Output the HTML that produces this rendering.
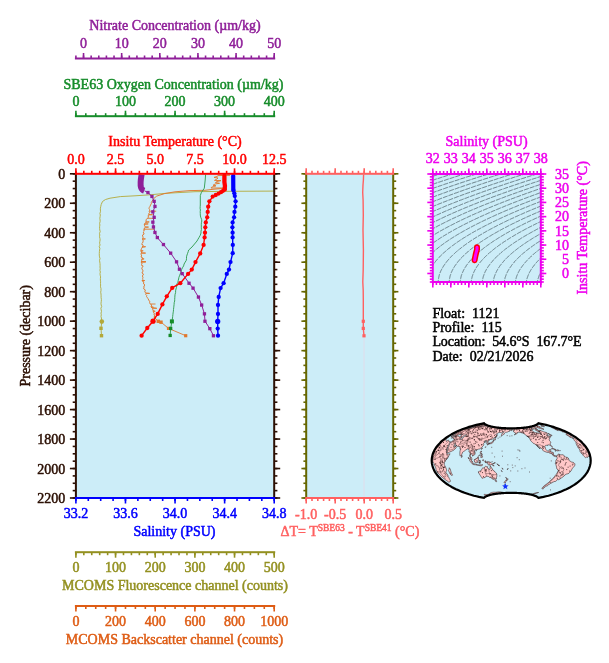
<!DOCTYPE html>
<html><head><meta charset="utf-8"><title>Float 1121 Profile 115</title>
<style>
html,body{margin:0;padding:0;background:#fff;}
svg{display:block;font-family:"Liberation Serif", "Times New Roman", serif;}
text{stroke-width:0.5px;paint-order:stroke;}
</style></head><body>
<svg width="609" height="663" viewBox="0 0 609 663">
<rect width="609" height="663" fill="#fff"/>
<text x="175.00" y="30.20" fill="#8f1f99" stroke="#8f1f99" font-size="14" text-anchor="middle">Nitrate Concentration (µm/kg)</text>
<text x="83.53" y="48.30" fill="#8f1f99" stroke="#8f1f99" font-size="14" text-anchor="middle">0</text>
<text x="121.66" y="48.30" fill="#8f1f99" stroke="#8f1f99" font-size="14" text-anchor="middle">10</text>
<text x="159.80" y="48.30" fill="#8f1f99" stroke="#8f1f99" font-size="14" text-anchor="middle">20</text>
<text x="197.93" y="48.30" fill="#8f1f99" stroke="#8f1f99" font-size="14" text-anchor="middle">30</text>
<text x="236.07" y="48.30" fill="#8f1f99" stroke="#8f1f99" font-size="14" text-anchor="middle">40</text>
<text x="274.20" y="48.30" fill="#8f1f99" stroke="#8f1f99" font-size="14" text-anchor="middle">50</text>
<rect x="74.90" y="57.50" width="200.30" height="2" fill="#8f1f99"/>
<line x1="75.90" y1="58.50" x2="75.90" y2="55.50" stroke="#8f1f99" stroke-width="1.6"/>
<line x1="83.53" y1="58.50" x2="83.53" y2="55.50" stroke="#8f1f99" stroke-width="1.6"/>
<line x1="91.15" y1="58.50" x2="91.15" y2="55.50" stroke="#8f1f99" stroke-width="1.6"/>
<line x1="98.78" y1="58.50" x2="98.78" y2="55.50" stroke="#8f1f99" stroke-width="1.6"/>
<line x1="106.41" y1="58.50" x2="106.41" y2="55.50" stroke="#8f1f99" stroke-width="1.6"/>
<line x1="114.03" y1="58.50" x2="114.03" y2="55.50" stroke="#8f1f99" stroke-width="1.6"/>
<line x1="121.66" y1="58.50" x2="121.66" y2="55.50" stroke="#8f1f99" stroke-width="1.6"/>
<line x1="129.29" y1="58.50" x2="129.29" y2="55.50" stroke="#8f1f99" stroke-width="1.6"/>
<line x1="136.92" y1="58.50" x2="136.92" y2="55.50" stroke="#8f1f99" stroke-width="1.6"/>
<line x1="144.54" y1="58.50" x2="144.54" y2="55.50" stroke="#8f1f99" stroke-width="1.6"/>
<line x1="152.17" y1="58.50" x2="152.17" y2="55.50" stroke="#8f1f99" stroke-width="1.6"/>
<line x1="159.80" y1="58.50" x2="159.80" y2="55.50" stroke="#8f1f99" stroke-width="1.6"/>
<line x1="167.42" y1="58.50" x2="167.42" y2="55.50" stroke="#8f1f99" stroke-width="1.6"/>
<line x1="175.05" y1="58.50" x2="175.05" y2="55.50" stroke="#8f1f99" stroke-width="1.6"/>
<line x1="182.68" y1="58.50" x2="182.68" y2="55.50" stroke="#8f1f99" stroke-width="1.6"/>
<line x1="190.30" y1="58.50" x2="190.30" y2="55.50" stroke="#8f1f99" stroke-width="1.6"/>
<line x1="197.93" y1="58.50" x2="197.93" y2="55.50" stroke="#8f1f99" stroke-width="1.6"/>
<line x1="205.56" y1="58.50" x2="205.56" y2="55.50" stroke="#8f1f99" stroke-width="1.6"/>
<line x1="213.18" y1="58.50" x2="213.18" y2="55.50" stroke="#8f1f99" stroke-width="1.6"/>
<line x1="220.81" y1="58.50" x2="220.81" y2="55.50" stroke="#8f1f99" stroke-width="1.6"/>
<line x1="228.44" y1="58.50" x2="228.44" y2="55.50" stroke="#8f1f99" stroke-width="1.6"/>
<line x1="236.07" y1="58.50" x2="236.07" y2="55.50" stroke="#8f1f99" stroke-width="1.6"/>
<line x1="243.69" y1="58.50" x2="243.69" y2="55.50" stroke="#8f1f99" stroke-width="1.6"/>
<line x1="251.32" y1="58.50" x2="251.32" y2="55.50" stroke="#8f1f99" stroke-width="1.6"/>
<line x1="258.95" y1="58.50" x2="258.95" y2="55.50" stroke="#8f1f99" stroke-width="1.6"/>
<line x1="266.57" y1="58.50" x2="266.57" y2="55.50" stroke="#8f1f99" stroke-width="1.6"/>
<line x1="274.20" y1="58.50" x2="274.20" y2="55.50" stroke="#8f1f99" stroke-width="1.6"/>
<line x1="83.53" y1="58.50" x2="83.53" y2="53.00" stroke="#8f1f99" stroke-width="1.6"/>
<line x1="121.66" y1="58.50" x2="121.66" y2="53.00" stroke="#8f1f99" stroke-width="1.6"/>
<line x1="159.80" y1="58.50" x2="159.80" y2="53.00" stroke="#8f1f99" stroke-width="1.6"/>
<line x1="197.93" y1="58.50" x2="197.93" y2="53.00" stroke="#8f1f99" stroke-width="1.6"/>
<line x1="236.07" y1="58.50" x2="236.07" y2="53.00" stroke="#8f1f99" stroke-width="1.6"/>
<line x1="274.20" y1="58.50" x2="274.20" y2="53.00" stroke="#8f1f99" stroke-width="1.6"/>
<text x="173.50" y="88.50" fill="#168c2a" stroke="#168c2a" font-size="14" text-anchor="middle">SBE63 Oxygen Concentration (µm/kg)</text>
<text x="75.90" y="106.00" fill="#168c2a" stroke="#168c2a" font-size="14" text-anchor="middle">0</text>
<text x="125.48" y="106.00" fill="#168c2a" stroke="#168c2a" font-size="14" text-anchor="middle">100</text>
<text x="175.05" y="106.00" fill="#168c2a" stroke="#168c2a" font-size="14" text-anchor="middle">200</text>
<text x="224.62" y="106.00" fill="#168c2a" stroke="#168c2a" font-size="14" text-anchor="middle">300</text>
<text x="274.20" y="106.00" fill="#168c2a" stroke="#168c2a" font-size="14" text-anchor="middle">400</text>
<rect x="74.90" y="115.20" width="200.30" height="2" fill="#168c2a"/>
<line x1="75.90" y1="116.20" x2="75.90" y2="113.20" stroke="#168c2a" stroke-width="1.6"/>
<line x1="85.81" y1="116.20" x2="85.81" y2="113.20" stroke="#168c2a" stroke-width="1.6"/>
<line x1="95.73" y1="116.20" x2="95.73" y2="113.20" stroke="#168c2a" stroke-width="1.6"/>
<line x1="105.64" y1="116.20" x2="105.64" y2="113.20" stroke="#168c2a" stroke-width="1.6"/>
<line x1="115.56" y1="116.20" x2="115.56" y2="113.20" stroke="#168c2a" stroke-width="1.6"/>
<line x1="125.48" y1="116.20" x2="125.48" y2="113.20" stroke="#168c2a" stroke-width="1.6"/>
<line x1="135.39" y1="116.20" x2="135.39" y2="113.20" stroke="#168c2a" stroke-width="1.6"/>
<line x1="145.31" y1="116.20" x2="145.31" y2="113.20" stroke="#168c2a" stroke-width="1.6"/>
<line x1="155.22" y1="116.20" x2="155.22" y2="113.20" stroke="#168c2a" stroke-width="1.6"/>
<line x1="165.13" y1="116.20" x2="165.13" y2="113.20" stroke="#168c2a" stroke-width="1.6"/>
<line x1="175.05" y1="116.20" x2="175.05" y2="113.20" stroke="#168c2a" stroke-width="1.6"/>
<line x1="184.96" y1="116.20" x2="184.96" y2="113.20" stroke="#168c2a" stroke-width="1.6"/>
<line x1="194.88" y1="116.20" x2="194.88" y2="113.20" stroke="#168c2a" stroke-width="1.6"/>
<line x1="204.79" y1="116.20" x2="204.79" y2="113.20" stroke="#168c2a" stroke-width="1.6"/>
<line x1="214.71" y1="116.20" x2="214.71" y2="113.20" stroke="#168c2a" stroke-width="1.6"/>
<line x1="224.62" y1="116.20" x2="224.62" y2="113.20" stroke="#168c2a" stroke-width="1.6"/>
<line x1="234.54" y1="116.20" x2="234.54" y2="113.20" stroke="#168c2a" stroke-width="1.6"/>
<line x1="244.46" y1="116.20" x2="244.46" y2="113.20" stroke="#168c2a" stroke-width="1.6"/>
<line x1="254.37" y1="116.20" x2="254.37" y2="113.20" stroke="#168c2a" stroke-width="1.6"/>
<line x1="264.28" y1="116.20" x2="264.28" y2="113.20" stroke="#168c2a" stroke-width="1.6"/>
<line x1="274.20" y1="116.20" x2="274.20" y2="113.20" stroke="#168c2a" stroke-width="1.6"/>
<line x1="75.90" y1="116.20" x2="75.90" y2="110.70" stroke="#168c2a" stroke-width="1.6"/>
<line x1="125.48" y1="116.20" x2="125.48" y2="110.70" stroke="#168c2a" stroke-width="1.6"/>
<line x1="175.05" y1="116.20" x2="175.05" y2="110.70" stroke="#168c2a" stroke-width="1.6"/>
<line x1="224.62" y1="116.20" x2="224.62" y2="110.70" stroke="#168c2a" stroke-width="1.6"/>
<line x1="274.20" y1="116.20" x2="274.20" y2="110.70" stroke="#168c2a" stroke-width="1.6"/>
<text x="175.00" y="146.00" fill="#ff0000" stroke="#ff0000" font-size="14" text-anchor="middle">Insitu Temperature (°C)</text>
<text x="75.90" y="163.50" fill="#ff0000" stroke="#ff0000" font-size="14" text-anchor="middle">0.0</text>
<text x="115.56" y="163.50" fill="#ff0000" stroke="#ff0000" font-size="14" text-anchor="middle">2.5</text>
<text x="155.22" y="163.50" fill="#ff0000" stroke="#ff0000" font-size="14" text-anchor="middle">5.0</text>
<text x="194.88" y="163.50" fill="#ff0000" stroke="#ff0000" font-size="14" text-anchor="middle">7.5</text>
<text x="234.54" y="163.50" fill="#ff0000" stroke="#ff0000" font-size="14" text-anchor="middle">10.0</text>
<text x="274.20" y="163.50" fill="#ff0000" stroke="#ff0000" font-size="14" text-anchor="middle">12.5</text>
<rect x="75.9" y="173.8" width="198.29999999999998" height="324.2" fill="#ccedf8"/>
<rect x="306.2" y="173.8" width="87.0" height="324.2" fill="#ccedf8"/>
<polyline points="273.6,191.1 230.0,191.3 195.0,191.7 166.0,193.3 150.0,194.8 135.0,195.8 120.3,196.6 110.0,198.2 105.5,199.5 102.5,201.5 101.2,204.5 100.8,206.3 100.4,208.2 100.4,210.0 100.5,211.7 99.9,213.3 100.3,215.0 100.1,216.7 99.8,218.3 100.1,220.0 100.1,221.7 99.6,223.3 99.9,225.0 99.6,226.7 99.6,228.3 99.8,230.0 100.2,231.7 99.5,233.3 99.8,235.0 99.5,236.7 99.9,238.3 100.1,240.0 99.8,241.7 99.6,243.3 100.1,245.0 99.2,246.7 99.9,248.3 99.6,250.0 99.4,251.7 99.3,253.4 99.3,255.1 99.5,256.9 100.0,258.6 99.5,260.3 99.8,262.0 100.0,263.7 100.1,265.3 100.0,267.0 100.2,268.7 99.9,270.3 100.4,272.0 100.0,273.6 100.2,275.2 100.6,276.9 100.4,278.5 100.4,280.1 100.6,281.8 100.5,283.4 100.6,285.0 100.5,286.8 101.0,288.6 101.0,290.4 100.7,292.2 101.0,294.0 101.1,295.8 101.1,297.7 101.4,299.5 101.3,301.3 101.0,303.2 101.2,305.0 101.7,306.6 100.9,308.2 101.2,309.9 101.5,311.5 101.0,313.1 101.3,314.8 101.0,316.4 101.4,318.0 101.8,321.6 101.0,328.3 101.5,335.7" fill="none" stroke="#b3a93a" stroke-width="0.9" stroke-linejoin="round"/>
<circle cx="101.8" cy="321.6" r="2.3" fill="#b3a93a"/>
<rect x="99.3" y="326.6" width="3.4" height="3.4" fill="#b3a93a"/>
<rect x="99.8" y="334.0" width="3.4" height="3.4" fill="#b3a93a"/>
<polyline points="230.0,175.3 218.0,175.6 217.0,176.5 214.0,177.4 218.0,178.0 216.5,179.3 214.5,180.4 221.0,180.6 217.0,181.5 215.5,182.5 219.5,183.3 215.0,184.0 213.0,185.3 216.0,185.8 213.5,186.5 211.5,187.3 211.0,188.0 226.7,188.0 221.0,188.6 213.0,189.3 205.0,190.3 190.0,190.6 175.0,191.8 164.6,193.6 156.7,196.1 153.7,198.6 151.3,202.5 151.3,203.8 150.5,205.0 150.1,206.2 149.3,207.4 149.0,208.4 149.6,209.5 149.5,210.5 149.2,211.4 150.0,212.4 148.8,213.3 148.8,214.7 152.5,214.7 148.8,214.7 148.0,216.0 148.7,217.2 147.3,218.3 146.2,219.7 146.0,221.0 146.0,222.1 149.2,221.9 146.0,222.1 145.3,223.2 144.3,224.1 148.2,223.9 144.3,224.1 144.4,225.1 144.8,226.0 145.4,227.1 148.5,227.1 145.4,227.1 144.4,228.1 144.8,229.1 143.6,230.0 144.4,231.0 143.3,232.0 143.5,233.0 144.2,234.0 142.5,235.0 142.6,236.0 143.1,237.0 143.0,238.0 142.4,239.0 145.4,238.9 142.4,239.0 143.0,240.0 143.2,241.0 142.9,242.0 142.6,243.0 141.5,244.0 143.1,245.0 143.0,246.0 142.1,247.0 145.6,246.7 142.1,247.0 142.2,248.0 141.1,249.0 141.2,250.0 140.8,251.0 143.2,250.8 140.8,251.0 141.7,252.0 141.4,253.0 145.6,253.1 141.4,253.0 140.9,254.0 141.4,255.0 141.7,256.0 140.9,257.0 142.9,258.0 141.8,259.0 144.1,258.9 141.8,259.0 141.9,260.0 141.5,261.0 141.4,262.0 145.7,262.0 141.4,262.0 141.4,263.0 142.3,264.0 141.2,265.0 143.2,266.0 142.4,267.0 141.9,268.0 141.8,269.0 142.8,270.0 143.0,271.0 142.6,272.0 141.9,273.0 143.5,274.0 143.0,275.0 142.3,276.0 143.0,277.2 142.7,278.3 142.8,279.5 142.0,280.7 144.7,280.5 142.0,280.7 143.8,281.8 143.6,283.0 143.6,284.0 145.0,285.0 143.8,286.0 144.2,287.0 143.7,288.0 143.8,289.0 145.5,290.0 144.8,291.0 145.0,292.1 146.0,293.2 149.6,293.4 146.0,293.2 145.6,294.3 146.7,295.4 146.5,296.4 147.0,297.5 148.4,298.8 148.5,300.0 149.7,301.2 149.6,302.5 149.9,303.7 151.7,304.8 151.3,306.0 151.0,307.0 153.4,307.2 151.0,307.0 152.8,308.0 156.8,308.3 152.8,308.0 152.5,309.0 153.1,310.0 153.2,311.0 155.2,311.3 153.2,311.0 153.4,312.0 153.9,313.0 154.6,314.0 153.8,315.0 155.0,316.0 154.0,317.0 155.0,318.0 158.0,321.2" fill="none" stroke="#e0782e" stroke-width="0.95" stroke-linejoin="round"/>
<line x1="149.30" y1="211.20" x2="156.20" y2="211.20" stroke="#e0782e" stroke-width="0.9"/>
<line x1="147.30" y1="218.30" x2="153.00" y2="218.30" stroke="#e0782e" stroke-width="0.9"/>
<line x1="143.30" y1="229.20" x2="154.50" y2="229.20" stroke="#e0782e" stroke-width="0.9"/>
<line x1="150.50" y1="304.00" x2="155.50" y2="304.00" stroke="#e0782e" stroke-width="0.9"/>
<line x1="153.50" y1="317.10" x2="155.50" y2="317.10" stroke="#e0782e" stroke-width="0.9"/>
<line x1="141.80" y1="261.50" x2="146.00" y2="261.50" stroke="#e0782e" stroke-width="0.9"/>
<polyline points="158.0,321.2 161.0,322.1 168.5,328.4 185.7,335.7" fill="none" stroke="#e0782e" stroke-width="0.9" stroke-linejoin="round"/>
<rect x="156.6" y="319.6" width="3.4" height="3.4" fill="#e0782e"/>
<rect x="159.3" y="320.5" width="3.4" height="3.4" fill="#e0782e"/>
<rect x="166.9" y="326.8" width="3.2" height="3.2" fill="#e0782e"/>
<rect x="184.1" y="334.1" width="3.2" height="3.2" fill="#e0782e"/>
<polyline points="205.6,174.5 205.2,180.0 204.3,188.2 201.3,192.7 200.3,195.6 200.3,205.0 200.2,206.7 200.1,208.3 200.4,210.0 200.2,211.7 200.3,213.3 200.3,215.0 200.7,217.2 201.6,219.3 201.8,221.0 201.4,222.7 201.3,224.3 201.3,226.0 201.3,227.8 201.4,229.5 201.0,231.2 201.0,233.0 200.3,235.2 199.0,237.5 198.0,239.2 197.0,241.0 194.5,244.0 192.0,247.0 188.7,250.0 188.2,251.7 187.6,253.3 187.0,255.0 186.5,256.8 186.5,258.5 186.3,260.3 185.2,262.1 184.1,264.0 183.6,265.9 182.5,267.7 181.7,269.3 181.3,270.9 180.8,272.6 180.1,274.2 179.5,275.8 178.9,277.4 178.6,279.0 178.2,280.6 177.9,282.3 177.0,283.9 176.8,285.5 176.5,287.3 176.0,289.0 175.6,290.8 175.6,292.5 175.1,294.3 174.9,296.0 174.8,297.7 174.7,299.4 174.7,301.0 174.2,302.7 174.1,304.4 173.9,306.1 173.7,307.8 173.5,309.5 173.4,311.2 173.1,312.9 172.9,314.6 172.7,316.3 172.5,318.0 171.9,321.4 170.7,328.4 170.2,335.4" fill="none" stroke="#2a9a48" stroke-width="0.9" stroke-linejoin="round"/>
<rect x="169.9" y="319.4" width="4.0" height="4.0" fill="#168c2a"/>
<rect x="169.0" y="326.8" width="3.3" height="3.3" fill="#168c2a"/>
<rect x="168.5" y="333.8" width="3.3" height="3.3" fill="#168c2a"/>
<path d="M141.6,174.5 C140.6,180 140.2,184.5 141.0,187.3 C141.6,189.2 142.6,190.2 144.2,190.8" fill="none" stroke="#8f1f99" stroke-width="6" stroke-linecap="butt"/>
<polyline points="144.5,190.8 148.0,192.6 152.0,196.5 154.2,201.3 155.0,206.4 152.9,211.9 154.2,217.3 152.8,222.2 153.5,227.0 155.0,232.4 157.3,237.6 163.5,244.6 170.7,253.2 176.6,261.8 179.5,269.2 182.2,273.6 189.1,283.2 193.1,288.1 198.4,297.0 201.7,305.0 204.4,313.8 205.0,321.2 209.8,328.6 213.5,335.7" fill="none" stroke="#8f1f99" stroke-width="1.0" stroke-linejoin="round"/>
<rect x="146.3" y="190.9" width="3.3" height="3.3" fill="#8f1f99"/>
<rect x="150.3" y="194.8" width="3.3" height="3.3" fill="#8f1f99"/>
<rect x="152.5" y="199.7" width="3.3" height="3.3" fill="#8f1f99"/>
<rect x="153.3" y="204.8" width="3.3" height="3.3" fill="#8f1f99"/>
<rect x="151.2" y="210.2" width="3.3" height="3.3" fill="#8f1f99"/>
<rect x="152.5" y="215.7" width="3.3" height="3.3" fill="#8f1f99"/>
<rect x="151.2" y="220.5" width="3.3" height="3.3" fill="#8f1f99"/>
<rect x="151.8" y="225.3" width="3.3" height="3.3" fill="#8f1f99"/>
<rect x="153.3" y="230.8" width="3.3" height="3.3" fill="#8f1f99"/>
<rect x="155.7" y="235.9" width="3.3" height="3.3" fill="#8f1f99"/>
<rect x="161.8" y="242.9" width="3.3" height="3.3" fill="#8f1f99"/>
<rect x="169.0" y="251.5" width="3.3" height="3.3" fill="#8f1f99"/>
<rect x="174.9" y="260.2" width="3.3" height="3.3" fill="#8f1f99"/>
<rect x="177.8" y="267.6" width="3.3" height="3.3" fill="#8f1f99"/>
<rect x="180.5" y="272.0" width="3.3" height="3.3" fill="#8f1f99"/>
<rect x="187.4" y="281.6" width="3.3" height="3.3" fill="#8f1f99"/>
<rect x="191.4" y="286.5" width="3.3" height="3.3" fill="#8f1f99"/>
<rect x="196.8" y="295.4" width="3.3" height="3.3" fill="#8f1f99"/>
<rect x="200.0" y="303.4" width="3.3" height="3.3" fill="#8f1f99"/>
<rect x="202.8" y="312.2" width="3.3" height="3.3" fill="#8f1f99"/>
<rect x="203.3" y="319.6" width="3.3" height="3.3" fill="#8f1f99"/>
<rect x="208.2" y="327.0" width="3.3" height="3.3" fill="#8f1f99"/>
<rect x="211.8" y="334.1" width="3.3" height="3.3" fill="#8f1f99"/>
<path d="M224.4,175.8 L224.4,182 C224.9,184 225.3,186 224.6,189" fill="none" stroke="#ff0000" stroke-width="4.3" stroke-linecap="round"/>
<polyline points="224.8,189.6 223.0,190.8 221.0,192.2 218.6,193.6 215.8,195.0 212.7,196.6 209.4,201.3 208.2,206.7 207.7,211.9 207.2,217.3 205.8,222.4 205.3,227.3 205.0,232.7 204.6,237.4 203.6,244.9 200.2,253.4 195.5,262.1 191.8,269.6 188.1,273.9 180.3,283.2 172.2,287.9 166.8,296.3 162.4,304.4 157.7,313.9 153.0,321.2 147.3,328.0 141.6,335.7" fill="none" stroke="#ff0000" stroke-width="1.4" stroke-linejoin="round"/>
<circle cx="224.8" cy="189.6" r="2.15" fill="#ff0000"/>
<circle cx="223.0" cy="190.8" r="2.15" fill="#ff0000"/>
<circle cx="221.0" cy="192.2" r="2.15" fill="#ff0000"/>
<circle cx="218.6" cy="193.6" r="2.15" fill="#ff0000"/>
<circle cx="215.8" cy="195.0" r="2.15" fill="#ff0000"/>
<circle cx="212.7" cy="196.6" r="2.15" fill="#ff0000"/>
<circle cx="209.4" cy="201.3" r="2.15" fill="#ff0000"/>
<circle cx="208.2" cy="206.7" r="2.15" fill="#ff0000"/>
<circle cx="207.7" cy="211.9" r="2.15" fill="#ff0000"/>
<circle cx="207.2" cy="217.3" r="2.15" fill="#ff0000"/>
<circle cx="205.8" cy="222.4" r="2.15" fill="#ff0000"/>
<circle cx="205.3" cy="227.3" r="2.15" fill="#ff0000"/>
<circle cx="205.0" cy="232.7" r="2.15" fill="#ff0000"/>
<circle cx="204.6" cy="237.4" r="2.15" fill="#ff0000"/>
<circle cx="203.6" cy="244.9" r="2.15" fill="#ff0000"/>
<circle cx="200.2" cy="253.4" r="2.15" fill="#ff0000"/>
<circle cx="195.5" cy="262.1" r="2.15" fill="#ff0000"/>
<circle cx="191.8" cy="269.6" r="2.15" fill="#ff0000"/>
<circle cx="188.1" cy="273.9" r="2.15" fill="#ff0000"/>
<circle cx="180.3" cy="283.2" r="2.15" fill="#ff0000"/>
<circle cx="172.2" cy="287.9" r="2.15" fill="#ff0000"/>
<circle cx="166.8" cy="296.3" r="2.15" fill="#ff0000"/>
<circle cx="162.4" cy="304.4" r="2.15" fill="#ff0000"/>
<circle cx="157.7" cy="313.9" r="2.15" fill="#ff0000"/>
<circle cx="153.0" cy="321.2" r="2.15" fill="#ff0000"/>
<circle cx="147.3" cy="328.0" r="2.15" fill="#ff0000"/>
<circle cx="141.6" cy="335.7" r="2.15" fill="#ff0000"/>
<circle cx="153.0" cy="321.2" r="2.6" fill="#ff0000"/>
<path d="M233.2,175.8 L233.3,189.5" fill="none" stroke="#0000ff" stroke-width="4.2" stroke-linecap="round"/>
<polyline points="233.5,190.5 234.3,193.3 234.8,196.1 235.6,201.3 235.3,206.7 234.5,211.9 234.1,217.3 232.6,222.4 232.4,227.3 232.6,232.7 232.6,237.4 232.8,244.9 232.7,253.2 230.5,262.1 229.0,269.6 226.8,273.9 223.6,283.2 220.6,288.1 218.7,297.0 218.0,305.0 218.0,314.0 217.7,321.4 217.7,328.6 218.0,335.7" fill="none" stroke="#0000ff" stroke-width="1.4" stroke-linejoin="round"/>
<circle cx="233.5" cy="190.5" r="2.15" fill="#0000ff"/>
<circle cx="234.3" cy="193.3" r="2.15" fill="#0000ff"/>
<circle cx="234.8" cy="196.1" r="2.15" fill="#0000ff"/>
<circle cx="235.6" cy="201.3" r="2.15" fill="#0000ff"/>
<circle cx="235.3" cy="206.7" r="2.15" fill="#0000ff"/>
<circle cx="234.5" cy="211.9" r="2.15" fill="#0000ff"/>
<circle cx="234.1" cy="217.3" r="2.15" fill="#0000ff"/>
<circle cx="232.6" cy="222.4" r="2.15" fill="#0000ff"/>
<circle cx="232.4" cy="227.3" r="2.15" fill="#0000ff"/>
<circle cx="232.6" cy="232.7" r="2.15" fill="#0000ff"/>
<circle cx="232.6" cy="237.4" r="2.15" fill="#0000ff"/>
<circle cx="232.8" cy="244.9" r="2.15" fill="#0000ff"/>
<circle cx="232.7" cy="253.2" r="2.15" fill="#0000ff"/>
<circle cx="230.5" cy="262.1" r="2.15" fill="#0000ff"/>
<circle cx="229.0" cy="269.6" r="2.15" fill="#0000ff"/>
<circle cx="226.8" cy="273.9" r="2.15" fill="#0000ff"/>
<circle cx="223.6" cy="283.2" r="2.15" fill="#0000ff"/>
<circle cx="220.6" cy="288.1" r="2.15" fill="#0000ff"/>
<circle cx="218.7" cy="297.0" r="2.15" fill="#0000ff"/>
<circle cx="218.0" cy="305.0" r="2.15" fill="#0000ff"/>
<circle cx="218.0" cy="314.0" r="2.15" fill="#0000ff"/>
<circle cx="217.7" cy="321.4" r="2.15" fill="#0000ff"/>
<circle cx="217.7" cy="328.6" r="2.15" fill="#0000ff"/>
<circle cx="218.0" cy="335.7" r="2.15" fill="#0000ff"/>
<circle cx="217.7" cy="321.4" r="2.6" fill="#0000ff"/>
<rect x="74.90" y="172.80" width="2" height="326.20" fill="#2c1004"/>
<line x1="75.90" y1="173.80" x2="72.70" y2="173.80" stroke="#2c1004" stroke-width="1.6"/>
<line x1="75.90" y1="181.17" x2="72.70" y2="181.17" stroke="#2c1004" stroke-width="1.6"/>
<line x1="75.90" y1="188.54" x2="72.70" y2="188.54" stroke="#2c1004" stroke-width="1.6"/>
<line x1="75.90" y1="195.90" x2="72.70" y2="195.90" stroke="#2c1004" stroke-width="1.6"/>
<line x1="75.90" y1="203.27" x2="72.70" y2="203.27" stroke="#2c1004" stroke-width="1.6"/>
<line x1="75.90" y1="210.64" x2="72.70" y2="210.64" stroke="#2c1004" stroke-width="1.6"/>
<line x1="75.90" y1="218.01" x2="72.70" y2="218.01" stroke="#2c1004" stroke-width="1.6"/>
<line x1="75.90" y1="225.38" x2="72.70" y2="225.38" stroke="#2c1004" stroke-width="1.6"/>
<line x1="75.90" y1="232.75" x2="72.70" y2="232.75" stroke="#2c1004" stroke-width="1.6"/>
<line x1="75.90" y1="240.11" x2="72.70" y2="240.11" stroke="#2c1004" stroke-width="1.6"/>
<line x1="75.90" y1="247.48" x2="72.70" y2="247.48" stroke="#2c1004" stroke-width="1.6"/>
<line x1="75.90" y1="254.85" x2="72.70" y2="254.85" stroke="#2c1004" stroke-width="1.6"/>
<line x1="75.90" y1="262.22" x2="72.70" y2="262.22" stroke="#2c1004" stroke-width="1.6"/>
<line x1="75.90" y1="269.59" x2="72.70" y2="269.59" stroke="#2c1004" stroke-width="1.6"/>
<line x1="75.90" y1="276.95" x2="72.70" y2="276.95" stroke="#2c1004" stroke-width="1.6"/>
<line x1="75.90" y1="284.32" x2="72.70" y2="284.32" stroke="#2c1004" stroke-width="1.6"/>
<line x1="75.90" y1="291.69" x2="72.70" y2="291.69" stroke="#2c1004" stroke-width="1.6"/>
<line x1="75.90" y1="299.06" x2="72.70" y2="299.06" stroke="#2c1004" stroke-width="1.6"/>
<line x1="75.90" y1="306.43" x2="72.70" y2="306.43" stroke="#2c1004" stroke-width="1.6"/>
<line x1="75.90" y1="313.80" x2="72.70" y2="313.80" stroke="#2c1004" stroke-width="1.6"/>
<line x1="75.90" y1="321.16" x2="72.70" y2="321.16" stroke="#2c1004" stroke-width="1.6"/>
<line x1="75.90" y1="328.53" x2="72.70" y2="328.53" stroke="#2c1004" stroke-width="1.6"/>
<line x1="75.90" y1="335.90" x2="72.70" y2="335.90" stroke="#2c1004" stroke-width="1.6"/>
<line x1="75.90" y1="343.27" x2="72.70" y2="343.27" stroke="#2c1004" stroke-width="1.6"/>
<line x1="75.90" y1="350.64" x2="72.70" y2="350.64" stroke="#2c1004" stroke-width="1.6"/>
<line x1="75.90" y1="358.00" x2="72.70" y2="358.00" stroke="#2c1004" stroke-width="1.6"/>
<line x1="75.90" y1="365.37" x2="72.70" y2="365.37" stroke="#2c1004" stroke-width="1.6"/>
<line x1="75.90" y1="372.74" x2="72.70" y2="372.74" stroke="#2c1004" stroke-width="1.6"/>
<line x1="75.90" y1="380.11" x2="72.70" y2="380.11" stroke="#2c1004" stroke-width="1.6"/>
<line x1="75.90" y1="387.48" x2="72.70" y2="387.48" stroke="#2c1004" stroke-width="1.6"/>
<line x1="75.90" y1="394.85" x2="72.70" y2="394.85" stroke="#2c1004" stroke-width="1.6"/>
<line x1="75.90" y1="402.21" x2="72.70" y2="402.21" stroke="#2c1004" stroke-width="1.6"/>
<line x1="75.90" y1="409.58" x2="72.70" y2="409.58" stroke="#2c1004" stroke-width="1.6"/>
<line x1="75.90" y1="416.95" x2="72.70" y2="416.95" stroke="#2c1004" stroke-width="1.6"/>
<line x1="75.90" y1="424.32" x2="72.70" y2="424.32" stroke="#2c1004" stroke-width="1.6"/>
<line x1="75.90" y1="431.69" x2="72.70" y2="431.69" stroke="#2c1004" stroke-width="1.6"/>
<line x1="75.90" y1="439.05" x2="72.70" y2="439.05" stroke="#2c1004" stroke-width="1.6"/>
<line x1="75.90" y1="446.42" x2="72.70" y2="446.42" stroke="#2c1004" stroke-width="1.6"/>
<line x1="75.90" y1="453.79" x2="72.70" y2="453.79" stroke="#2c1004" stroke-width="1.6"/>
<line x1="75.90" y1="461.16" x2="72.70" y2="461.16" stroke="#2c1004" stroke-width="1.6"/>
<line x1="75.90" y1="468.53" x2="72.70" y2="468.53" stroke="#2c1004" stroke-width="1.6"/>
<line x1="75.90" y1="475.90" x2="72.70" y2="475.90" stroke="#2c1004" stroke-width="1.6"/>
<line x1="75.90" y1="483.26" x2="72.70" y2="483.26" stroke="#2c1004" stroke-width="1.6"/>
<line x1="75.90" y1="490.63" x2="72.70" y2="490.63" stroke="#2c1004" stroke-width="1.6"/>
<line x1="75.90" y1="498.00" x2="72.70" y2="498.00" stroke="#2c1004" stroke-width="1.6"/>
<line x1="75.90" y1="173.80" x2="69.90" y2="173.80" stroke="#2c1004" stroke-width="1.6"/>
<line x1="75.90" y1="203.27" x2="69.90" y2="203.27" stroke="#2c1004" stroke-width="1.6"/>
<line x1="75.90" y1="232.75" x2="69.90" y2="232.75" stroke="#2c1004" stroke-width="1.6"/>
<line x1="75.90" y1="262.22" x2="69.90" y2="262.22" stroke="#2c1004" stroke-width="1.6"/>
<line x1="75.90" y1="291.69" x2="69.90" y2="291.69" stroke="#2c1004" stroke-width="1.6"/>
<line x1="75.90" y1="321.16" x2="69.90" y2="321.16" stroke="#2c1004" stroke-width="1.6"/>
<line x1="75.90" y1="350.64" x2="69.90" y2="350.64" stroke="#2c1004" stroke-width="1.6"/>
<line x1="75.90" y1="380.11" x2="69.90" y2="380.11" stroke="#2c1004" stroke-width="1.6"/>
<line x1="75.90" y1="409.58" x2="69.90" y2="409.58" stroke="#2c1004" stroke-width="1.6"/>
<line x1="75.90" y1="439.05" x2="69.90" y2="439.05" stroke="#2c1004" stroke-width="1.6"/>
<line x1="75.90" y1="468.53" x2="69.90" y2="468.53" stroke="#2c1004" stroke-width="1.6"/>
<line x1="75.90" y1="498.00" x2="69.90" y2="498.00" stroke="#2c1004" stroke-width="1.6"/>
<rect x="273.20" y="172.80" width="2" height="326.20" fill="#2c1004"/>
<line x1="274.20" y1="173.80" x2="277.40" y2="173.80" stroke="#2c1004" stroke-width="1.6"/>
<line x1="274.20" y1="181.17" x2="277.40" y2="181.17" stroke="#2c1004" stroke-width="1.6"/>
<line x1="274.20" y1="188.54" x2="277.40" y2="188.54" stroke="#2c1004" stroke-width="1.6"/>
<line x1="274.20" y1="195.90" x2="277.40" y2="195.90" stroke="#2c1004" stroke-width="1.6"/>
<line x1="274.20" y1="203.27" x2="277.40" y2="203.27" stroke="#2c1004" stroke-width="1.6"/>
<line x1="274.20" y1="210.64" x2="277.40" y2="210.64" stroke="#2c1004" stroke-width="1.6"/>
<line x1="274.20" y1="218.01" x2="277.40" y2="218.01" stroke="#2c1004" stroke-width="1.6"/>
<line x1="274.20" y1="225.38" x2="277.40" y2="225.38" stroke="#2c1004" stroke-width="1.6"/>
<line x1="274.20" y1="232.75" x2="277.40" y2="232.75" stroke="#2c1004" stroke-width="1.6"/>
<line x1="274.20" y1="240.11" x2="277.40" y2="240.11" stroke="#2c1004" stroke-width="1.6"/>
<line x1="274.20" y1="247.48" x2="277.40" y2="247.48" stroke="#2c1004" stroke-width="1.6"/>
<line x1="274.20" y1="254.85" x2="277.40" y2="254.85" stroke="#2c1004" stroke-width="1.6"/>
<line x1="274.20" y1="262.22" x2="277.40" y2="262.22" stroke="#2c1004" stroke-width="1.6"/>
<line x1="274.20" y1="269.59" x2="277.40" y2="269.59" stroke="#2c1004" stroke-width="1.6"/>
<line x1="274.20" y1="276.95" x2="277.40" y2="276.95" stroke="#2c1004" stroke-width="1.6"/>
<line x1="274.20" y1="284.32" x2="277.40" y2="284.32" stroke="#2c1004" stroke-width="1.6"/>
<line x1="274.20" y1="291.69" x2="277.40" y2="291.69" stroke="#2c1004" stroke-width="1.6"/>
<line x1="274.20" y1="299.06" x2="277.40" y2="299.06" stroke="#2c1004" stroke-width="1.6"/>
<line x1="274.20" y1="306.43" x2="277.40" y2="306.43" stroke="#2c1004" stroke-width="1.6"/>
<line x1="274.20" y1="313.80" x2="277.40" y2="313.80" stroke="#2c1004" stroke-width="1.6"/>
<line x1="274.20" y1="321.16" x2="277.40" y2="321.16" stroke="#2c1004" stroke-width="1.6"/>
<line x1="274.20" y1="328.53" x2="277.40" y2="328.53" stroke="#2c1004" stroke-width="1.6"/>
<line x1="274.20" y1="335.90" x2="277.40" y2="335.90" stroke="#2c1004" stroke-width="1.6"/>
<line x1="274.20" y1="343.27" x2="277.40" y2="343.27" stroke="#2c1004" stroke-width="1.6"/>
<line x1="274.20" y1="350.64" x2="277.40" y2="350.64" stroke="#2c1004" stroke-width="1.6"/>
<line x1="274.20" y1="358.00" x2="277.40" y2="358.00" stroke="#2c1004" stroke-width="1.6"/>
<line x1="274.20" y1="365.37" x2="277.40" y2="365.37" stroke="#2c1004" stroke-width="1.6"/>
<line x1="274.20" y1="372.74" x2="277.40" y2="372.74" stroke="#2c1004" stroke-width="1.6"/>
<line x1="274.20" y1="380.11" x2="277.40" y2="380.11" stroke="#2c1004" stroke-width="1.6"/>
<line x1="274.20" y1="387.48" x2="277.40" y2="387.48" stroke="#2c1004" stroke-width="1.6"/>
<line x1="274.20" y1="394.85" x2="277.40" y2="394.85" stroke="#2c1004" stroke-width="1.6"/>
<line x1="274.20" y1="402.21" x2="277.40" y2="402.21" stroke="#2c1004" stroke-width="1.6"/>
<line x1="274.20" y1="409.58" x2="277.40" y2="409.58" stroke="#2c1004" stroke-width="1.6"/>
<line x1="274.20" y1="416.95" x2="277.40" y2="416.95" stroke="#2c1004" stroke-width="1.6"/>
<line x1="274.20" y1="424.32" x2="277.40" y2="424.32" stroke="#2c1004" stroke-width="1.6"/>
<line x1="274.20" y1="431.69" x2="277.40" y2="431.69" stroke="#2c1004" stroke-width="1.6"/>
<line x1="274.20" y1="439.05" x2="277.40" y2="439.05" stroke="#2c1004" stroke-width="1.6"/>
<line x1="274.20" y1="446.42" x2="277.40" y2="446.42" stroke="#2c1004" stroke-width="1.6"/>
<line x1="274.20" y1="453.79" x2="277.40" y2="453.79" stroke="#2c1004" stroke-width="1.6"/>
<line x1="274.20" y1="461.16" x2="277.40" y2="461.16" stroke="#2c1004" stroke-width="1.6"/>
<line x1="274.20" y1="468.53" x2="277.40" y2="468.53" stroke="#2c1004" stroke-width="1.6"/>
<line x1="274.20" y1="475.90" x2="277.40" y2="475.90" stroke="#2c1004" stroke-width="1.6"/>
<line x1="274.20" y1="483.26" x2="277.40" y2="483.26" stroke="#2c1004" stroke-width="1.6"/>
<line x1="274.20" y1="490.63" x2="277.40" y2="490.63" stroke="#2c1004" stroke-width="1.6"/>
<line x1="274.20" y1="498.00" x2="277.40" y2="498.00" stroke="#2c1004" stroke-width="1.6"/>
<line x1="274.20" y1="173.80" x2="280.20" y2="173.80" stroke="#2c1004" stroke-width="1.6"/>
<line x1="274.20" y1="203.27" x2="280.20" y2="203.27" stroke="#2c1004" stroke-width="1.6"/>
<line x1="274.20" y1="232.75" x2="280.20" y2="232.75" stroke="#2c1004" stroke-width="1.6"/>
<line x1="274.20" y1="262.22" x2="280.20" y2="262.22" stroke="#2c1004" stroke-width="1.6"/>
<line x1="274.20" y1="291.69" x2="280.20" y2="291.69" stroke="#2c1004" stroke-width="1.6"/>
<line x1="274.20" y1="321.16" x2="280.20" y2="321.16" stroke="#2c1004" stroke-width="1.6"/>
<line x1="274.20" y1="350.64" x2="280.20" y2="350.64" stroke="#2c1004" stroke-width="1.6"/>
<line x1="274.20" y1="380.11" x2="280.20" y2="380.11" stroke="#2c1004" stroke-width="1.6"/>
<line x1="274.20" y1="409.58" x2="280.20" y2="409.58" stroke="#2c1004" stroke-width="1.6"/>
<line x1="274.20" y1="439.05" x2="280.20" y2="439.05" stroke="#2c1004" stroke-width="1.6"/>
<line x1="274.20" y1="468.53" x2="280.20" y2="468.53" stroke="#2c1004" stroke-width="1.6"/>
<line x1="274.20" y1="498.00" x2="280.20" y2="498.00" stroke="#2c1004" stroke-width="1.6"/>
<text x="65.30" y="179.00" fill="#2c1004" stroke="#2c1004" font-size="14" text-anchor="end">0</text>
<text x="65.30" y="208.47" fill="#2c1004" stroke="#2c1004" font-size="14" text-anchor="end">200</text>
<text x="65.30" y="237.95" fill="#2c1004" stroke="#2c1004" font-size="14" text-anchor="end">400</text>
<text x="65.30" y="267.42" fill="#2c1004" stroke="#2c1004" font-size="14" text-anchor="end">600</text>
<text x="65.30" y="296.89" fill="#2c1004" stroke="#2c1004" font-size="14" text-anchor="end">800</text>
<text x="65.30" y="326.36" fill="#2c1004" stroke="#2c1004" font-size="14" text-anchor="end">1000</text>
<text x="65.30" y="355.84" fill="#2c1004" stroke="#2c1004" font-size="14" text-anchor="end">1200</text>
<text x="65.30" y="385.31" fill="#2c1004" stroke="#2c1004" font-size="14" text-anchor="end">1400</text>
<text x="65.30" y="414.78" fill="#2c1004" stroke="#2c1004" font-size="14" text-anchor="end">1600</text>
<text x="65.30" y="444.25" fill="#2c1004" stroke="#2c1004" font-size="14" text-anchor="end">1800</text>
<text x="65.30" y="473.73" fill="#2c1004" stroke="#2c1004" font-size="14" text-anchor="end">2000</text>
<text x="65.30" y="503.20" fill="#2c1004" stroke="#2c1004" font-size="14" text-anchor="end">2200</text>
<text x="0" y="0" fill="#2c1004" stroke="#2c1004" font-size="14" text-anchor="middle" transform="translate(29.6,335.8) rotate(-90)">Pressure (decibar)</text>
<rect x="74.90" y="172.80" width="200.30" height="2" fill="#ff0000"/>
<line x1="75.90" y1="173.80" x2="75.90" y2="170.80" stroke="#ff0000" stroke-width="1.6"/>
<line x1="83.83" y1="173.80" x2="83.83" y2="170.80" stroke="#ff0000" stroke-width="1.6"/>
<line x1="91.76" y1="173.80" x2="91.76" y2="170.80" stroke="#ff0000" stroke-width="1.6"/>
<line x1="99.70" y1="173.80" x2="99.70" y2="170.80" stroke="#ff0000" stroke-width="1.6"/>
<line x1="107.63" y1="173.80" x2="107.63" y2="170.80" stroke="#ff0000" stroke-width="1.6"/>
<line x1="115.56" y1="173.80" x2="115.56" y2="170.80" stroke="#ff0000" stroke-width="1.6"/>
<line x1="123.49" y1="173.80" x2="123.49" y2="170.80" stroke="#ff0000" stroke-width="1.6"/>
<line x1="131.42" y1="173.80" x2="131.42" y2="170.80" stroke="#ff0000" stroke-width="1.6"/>
<line x1="139.36" y1="173.80" x2="139.36" y2="170.80" stroke="#ff0000" stroke-width="1.6"/>
<line x1="147.29" y1="173.80" x2="147.29" y2="170.80" stroke="#ff0000" stroke-width="1.6"/>
<line x1="155.22" y1="173.80" x2="155.22" y2="170.80" stroke="#ff0000" stroke-width="1.6"/>
<line x1="163.15" y1="173.80" x2="163.15" y2="170.80" stroke="#ff0000" stroke-width="1.6"/>
<line x1="171.08" y1="173.80" x2="171.08" y2="170.80" stroke="#ff0000" stroke-width="1.6"/>
<line x1="179.02" y1="173.80" x2="179.02" y2="170.80" stroke="#ff0000" stroke-width="1.6"/>
<line x1="186.95" y1="173.80" x2="186.95" y2="170.80" stroke="#ff0000" stroke-width="1.6"/>
<line x1="194.88" y1="173.80" x2="194.88" y2="170.80" stroke="#ff0000" stroke-width="1.6"/>
<line x1="202.81" y1="173.80" x2="202.81" y2="170.80" stroke="#ff0000" stroke-width="1.6"/>
<line x1="210.74" y1="173.80" x2="210.74" y2="170.80" stroke="#ff0000" stroke-width="1.6"/>
<line x1="218.68" y1="173.80" x2="218.68" y2="170.80" stroke="#ff0000" stroke-width="1.6"/>
<line x1="226.61" y1="173.80" x2="226.61" y2="170.80" stroke="#ff0000" stroke-width="1.6"/>
<line x1="234.54" y1="173.80" x2="234.54" y2="170.80" stroke="#ff0000" stroke-width="1.6"/>
<line x1="242.47" y1="173.80" x2="242.47" y2="170.80" stroke="#ff0000" stroke-width="1.6"/>
<line x1="250.40" y1="173.80" x2="250.40" y2="170.80" stroke="#ff0000" stroke-width="1.6"/>
<line x1="258.34" y1="173.80" x2="258.34" y2="170.80" stroke="#ff0000" stroke-width="1.6"/>
<line x1="266.27" y1="173.80" x2="266.27" y2="170.80" stroke="#ff0000" stroke-width="1.6"/>
<line x1="274.20" y1="173.80" x2="274.20" y2="170.80" stroke="#ff0000" stroke-width="1.6"/>
<line x1="75.90" y1="173.80" x2="75.90" y2="168.30" stroke="#ff0000" stroke-width="1.6"/>
<line x1="115.56" y1="173.80" x2="115.56" y2="168.30" stroke="#ff0000" stroke-width="1.6"/>
<line x1="155.22" y1="173.80" x2="155.22" y2="168.30" stroke="#ff0000" stroke-width="1.6"/>
<line x1="194.88" y1="173.80" x2="194.88" y2="168.30" stroke="#ff0000" stroke-width="1.6"/>
<line x1="234.54" y1="173.80" x2="234.54" y2="168.30" stroke="#ff0000" stroke-width="1.6"/>
<line x1="274.20" y1="173.80" x2="274.20" y2="168.30" stroke="#ff0000" stroke-width="1.6"/>
<rect x="74.90" y="497.00" width="200.30" height="2" fill="#0000ff"/>
<line x1="75.90" y1="498.00" x2="75.90" y2="501.00" stroke="#0000ff" stroke-width="1.6"/>
<line x1="88.29" y1="498.00" x2="88.29" y2="501.00" stroke="#0000ff" stroke-width="1.6"/>
<line x1="100.69" y1="498.00" x2="100.69" y2="501.00" stroke="#0000ff" stroke-width="1.6"/>
<line x1="113.08" y1="498.00" x2="113.08" y2="501.00" stroke="#0000ff" stroke-width="1.6"/>
<line x1="125.47" y1="498.00" x2="125.47" y2="501.00" stroke="#0000ff" stroke-width="1.6"/>
<line x1="137.87" y1="498.00" x2="137.87" y2="501.00" stroke="#0000ff" stroke-width="1.6"/>
<line x1="150.26" y1="498.00" x2="150.26" y2="501.00" stroke="#0000ff" stroke-width="1.6"/>
<line x1="162.66" y1="498.00" x2="162.66" y2="501.00" stroke="#0000ff" stroke-width="1.6"/>
<line x1="175.05" y1="498.00" x2="175.05" y2="501.00" stroke="#0000ff" stroke-width="1.6"/>
<line x1="187.44" y1="498.00" x2="187.44" y2="501.00" stroke="#0000ff" stroke-width="1.6"/>
<line x1="199.84" y1="498.00" x2="199.84" y2="501.00" stroke="#0000ff" stroke-width="1.6"/>
<line x1="212.23" y1="498.00" x2="212.23" y2="501.00" stroke="#0000ff" stroke-width="1.6"/>
<line x1="224.63" y1="498.00" x2="224.63" y2="501.00" stroke="#0000ff" stroke-width="1.6"/>
<line x1="237.02" y1="498.00" x2="237.02" y2="501.00" stroke="#0000ff" stroke-width="1.6"/>
<line x1="249.41" y1="498.00" x2="249.41" y2="501.00" stroke="#0000ff" stroke-width="1.6"/>
<line x1="261.81" y1="498.00" x2="261.81" y2="501.00" stroke="#0000ff" stroke-width="1.6"/>
<line x1="274.20" y1="498.00" x2="274.20" y2="501.00" stroke="#0000ff" stroke-width="1.6"/>
<line x1="75.90" y1="498.00" x2="75.90" y2="503.50" stroke="#0000ff" stroke-width="1.6"/>
<line x1="125.47" y1="498.00" x2="125.47" y2="503.50" stroke="#0000ff" stroke-width="1.6"/>
<line x1="175.05" y1="498.00" x2="175.05" y2="503.50" stroke="#0000ff" stroke-width="1.6"/>
<line x1="224.63" y1="498.00" x2="224.63" y2="503.50" stroke="#0000ff" stroke-width="1.6"/>
<line x1="274.20" y1="498.00" x2="274.20" y2="503.50" stroke="#0000ff" stroke-width="1.6"/>
<text x="75.90" y="518.40" fill="#0000ff" stroke="#0000ff" font-size="14" text-anchor="middle">33.2</text>
<text x="125.47" y="518.40" fill="#0000ff" stroke="#0000ff" font-size="14" text-anchor="middle">33.6</text>
<text x="175.05" y="518.40" fill="#0000ff" stroke="#0000ff" font-size="14" text-anchor="middle">34.0</text>
<text x="224.63" y="518.40" fill="#0000ff" stroke="#0000ff" font-size="14" text-anchor="middle">34.4</text>
<text x="274.20" y="518.40" fill="#0000ff" stroke="#0000ff" font-size="14" text-anchor="middle">34.8</text>
<text x="174.50" y="536.00" fill="#0000ff" stroke="#0000ff" font-size="14" text-anchor="middle">Salinity (PSU)</text>
<rect x="74.90" y="551.20" width="200.30" height="2" fill="#939020"/>
<line x1="75.90" y1="552.20" x2="75.90" y2="555.20" stroke="#939020" stroke-width="1.6"/>
<line x1="83.83" y1="552.20" x2="83.83" y2="555.20" stroke="#939020" stroke-width="1.6"/>
<line x1="91.76" y1="552.20" x2="91.76" y2="555.20" stroke="#939020" stroke-width="1.6"/>
<line x1="99.70" y1="552.20" x2="99.70" y2="555.20" stroke="#939020" stroke-width="1.6"/>
<line x1="107.63" y1="552.20" x2="107.63" y2="555.20" stroke="#939020" stroke-width="1.6"/>
<line x1="115.56" y1="552.20" x2="115.56" y2="555.20" stroke="#939020" stroke-width="1.6"/>
<line x1="123.49" y1="552.20" x2="123.49" y2="555.20" stroke="#939020" stroke-width="1.6"/>
<line x1="131.42" y1="552.20" x2="131.42" y2="555.20" stroke="#939020" stroke-width="1.6"/>
<line x1="139.36" y1="552.20" x2="139.36" y2="555.20" stroke="#939020" stroke-width="1.6"/>
<line x1="147.29" y1="552.20" x2="147.29" y2="555.20" stroke="#939020" stroke-width="1.6"/>
<line x1="155.22" y1="552.20" x2="155.22" y2="555.20" stroke="#939020" stroke-width="1.6"/>
<line x1="163.15" y1="552.20" x2="163.15" y2="555.20" stroke="#939020" stroke-width="1.6"/>
<line x1="171.08" y1="552.20" x2="171.08" y2="555.20" stroke="#939020" stroke-width="1.6"/>
<line x1="179.02" y1="552.20" x2="179.02" y2="555.20" stroke="#939020" stroke-width="1.6"/>
<line x1="186.95" y1="552.20" x2="186.95" y2="555.20" stroke="#939020" stroke-width="1.6"/>
<line x1="194.88" y1="552.20" x2="194.88" y2="555.20" stroke="#939020" stroke-width="1.6"/>
<line x1="202.81" y1="552.20" x2="202.81" y2="555.20" stroke="#939020" stroke-width="1.6"/>
<line x1="210.74" y1="552.20" x2="210.74" y2="555.20" stroke="#939020" stroke-width="1.6"/>
<line x1="218.68" y1="552.20" x2="218.68" y2="555.20" stroke="#939020" stroke-width="1.6"/>
<line x1="226.61" y1="552.20" x2="226.61" y2="555.20" stroke="#939020" stroke-width="1.6"/>
<line x1="234.54" y1="552.20" x2="234.54" y2="555.20" stroke="#939020" stroke-width="1.6"/>
<line x1="242.47" y1="552.20" x2="242.47" y2="555.20" stroke="#939020" stroke-width="1.6"/>
<line x1="250.40" y1="552.20" x2="250.40" y2="555.20" stroke="#939020" stroke-width="1.6"/>
<line x1="258.34" y1="552.20" x2="258.34" y2="555.20" stroke="#939020" stroke-width="1.6"/>
<line x1="266.27" y1="552.20" x2="266.27" y2="555.20" stroke="#939020" stroke-width="1.6"/>
<line x1="274.20" y1="552.20" x2="274.20" y2="555.20" stroke="#939020" stroke-width="1.6"/>
<line x1="75.90" y1="552.20" x2="75.90" y2="557.70" stroke="#939020" stroke-width="1.6"/>
<line x1="115.56" y1="552.20" x2="115.56" y2="557.70" stroke="#939020" stroke-width="1.6"/>
<line x1="155.22" y1="552.20" x2="155.22" y2="557.70" stroke="#939020" stroke-width="1.6"/>
<line x1="194.88" y1="552.20" x2="194.88" y2="557.70" stroke="#939020" stroke-width="1.6"/>
<line x1="234.54" y1="552.20" x2="234.54" y2="557.70" stroke="#939020" stroke-width="1.6"/>
<line x1="274.20" y1="552.20" x2="274.20" y2="557.70" stroke="#939020" stroke-width="1.6"/>
<text x="75.90" y="572.00" fill="#939020" stroke="#939020" font-size="14" text-anchor="middle">0</text>
<text x="115.56" y="572.00" fill="#939020" stroke="#939020" font-size="14" text-anchor="middle">100</text>
<text x="155.22" y="572.00" fill="#939020" stroke="#939020" font-size="14" text-anchor="middle">200</text>
<text x="194.88" y="572.00" fill="#939020" stroke="#939020" font-size="14" text-anchor="middle">300</text>
<text x="234.54" y="572.00" fill="#939020" stroke="#939020" font-size="14" text-anchor="middle">400</text>
<text x="274.20" y="572.00" fill="#939020" stroke="#939020" font-size="14" text-anchor="middle">500</text>
<text x="175.00" y="590.00" fill="#939020" stroke="#939020" font-size="14" text-anchor="middle">MCOMS Fluorescence channel (counts)</text>
<rect x="74.90" y="605.00" width="200.30" height="2" fill="#de5c14"/>
<line x1="75.90" y1="606.00" x2="75.90" y2="609.00" stroke="#de5c14" stroke-width="1.6"/>
<line x1="85.81" y1="606.00" x2="85.81" y2="609.00" stroke="#de5c14" stroke-width="1.6"/>
<line x1="95.73" y1="606.00" x2="95.73" y2="609.00" stroke="#de5c14" stroke-width="1.6"/>
<line x1="105.65" y1="606.00" x2="105.65" y2="609.00" stroke="#de5c14" stroke-width="1.6"/>
<line x1="115.56" y1="606.00" x2="115.56" y2="609.00" stroke="#de5c14" stroke-width="1.6"/>
<line x1="125.47" y1="606.00" x2="125.47" y2="609.00" stroke="#de5c14" stroke-width="1.6"/>
<line x1="135.39" y1="606.00" x2="135.39" y2="609.00" stroke="#de5c14" stroke-width="1.6"/>
<line x1="145.31" y1="606.00" x2="145.31" y2="609.00" stroke="#de5c14" stroke-width="1.6"/>
<line x1="155.22" y1="606.00" x2="155.22" y2="609.00" stroke="#de5c14" stroke-width="1.6"/>
<line x1="165.13" y1="606.00" x2="165.13" y2="609.00" stroke="#de5c14" stroke-width="1.6"/>
<line x1="175.05" y1="606.00" x2="175.05" y2="609.00" stroke="#de5c14" stroke-width="1.6"/>
<line x1="184.96" y1="606.00" x2="184.96" y2="609.00" stroke="#de5c14" stroke-width="1.6"/>
<line x1="194.88" y1="606.00" x2="194.88" y2="609.00" stroke="#de5c14" stroke-width="1.6"/>
<line x1="204.79" y1="606.00" x2="204.79" y2="609.00" stroke="#de5c14" stroke-width="1.6"/>
<line x1="214.71" y1="606.00" x2="214.71" y2="609.00" stroke="#de5c14" stroke-width="1.6"/>
<line x1="224.62" y1="606.00" x2="224.62" y2="609.00" stroke="#de5c14" stroke-width="1.6"/>
<line x1="234.54" y1="606.00" x2="234.54" y2="609.00" stroke="#de5c14" stroke-width="1.6"/>
<line x1="244.46" y1="606.00" x2="244.46" y2="609.00" stroke="#de5c14" stroke-width="1.6"/>
<line x1="254.37" y1="606.00" x2="254.37" y2="609.00" stroke="#de5c14" stroke-width="1.6"/>
<line x1="264.28" y1="606.00" x2="264.28" y2="609.00" stroke="#de5c14" stroke-width="1.6"/>
<line x1="274.20" y1="606.00" x2="274.20" y2="609.00" stroke="#de5c14" stroke-width="1.6"/>
<line x1="75.90" y1="606.00" x2="75.90" y2="611.50" stroke="#de5c14" stroke-width="1.6"/>
<line x1="115.56" y1="606.00" x2="115.56" y2="611.50" stroke="#de5c14" stroke-width="1.6"/>
<line x1="155.22" y1="606.00" x2="155.22" y2="611.50" stroke="#de5c14" stroke-width="1.6"/>
<line x1="194.88" y1="606.00" x2="194.88" y2="611.50" stroke="#de5c14" stroke-width="1.6"/>
<line x1="234.54" y1="606.00" x2="234.54" y2="611.50" stroke="#de5c14" stroke-width="1.6"/>
<line x1="274.20" y1="606.00" x2="274.20" y2="611.50" stroke="#de5c14" stroke-width="1.6"/>
<text x="75.90" y="626.00" fill="#de5c14" stroke="#de5c14" font-size="14" text-anchor="middle">0</text>
<text x="115.56" y="626.00" fill="#de5c14" stroke="#de5c14" font-size="14" text-anchor="middle">200</text>
<text x="155.22" y="626.00" fill="#de5c14" stroke="#de5c14" font-size="14" text-anchor="middle">400</text>
<text x="194.88" y="626.00" fill="#de5c14" stroke="#de5c14" font-size="14" text-anchor="middle">600</text>
<text x="234.54" y="626.00" fill="#de5c14" stroke="#de5c14" font-size="14" text-anchor="middle">800</text>
<text x="274.20" y="626.00" fill="#de5c14" stroke="#de5c14" font-size="14" text-anchor="middle">1000</text>
<text x="174.50" y="644.00" fill="#de5c14" stroke="#de5c14" font-size="14" text-anchor="middle">MCOMS Backscatter channel (counts)</text>
<line x1="364" y1="336" x2="364" y2="497" stroke="#e6d8e6" stroke-width="0.8"/>
<polyline points="363.6,174.5 363.4,180.0 363.0,185.0 362.7,192.5 363.1,200.0 363.3,215.0 363.0,230.0 363.4,250.0 363.2,270.0 362.8,282.0 363.2,290.0 363.3,300.0 363.3,310.0 363.3,321.3 363.3,328.4 364.0,335.8" fill="none" stroke="#ff6060" stroke-width="1.4" stroke-linejoin="round"/>
<rect x="361.7" y="319.7" width="3.2" height="3.2" fill="#ff6060"/>
<rect x="361.7" y="326.8" width="3.2" height="3.2" fill="#ff6060"/>
<rect x="362.4" y="334.2" width="3.2" height="3.2" fill="#ff6060"/>
<rect x="305.20" y="172.80" width="2" height="326.20" fill="#666600"/>
<line x1="306.20" y1="173.80" x2="303.40" y2="173.80" stroke="#666600" stroke-width="1.6"/>
<line x1="306.20" y1="181.17" x2="303.40" y2="181.17" stroke="#666600" stroke-width="1.6"/>
<line x1="306.20" y1="188.54" x2="303.40" y2="188.54" stroke="#666600" stroke-width="1.6"/>
<line x1="306.20" y1="195.90" x2="303.40" y2="195.90" stroke="#666600" stroke-width="1.6"/>
<line x1="306.20" y1="203.27" x2="303.40" y2="203.27" stroke="#666600" stroke-width="1.6"/>
<line x1="306.20" y1="210.64" x2="303.40" y2="210.64" stroke="#666600" stroke-width="1.6"/>
<line x1="306.20" y1="218.01" x2="303.40" y2="218.01" stroke="#666600" stroke-width="1.6"/>
<line x1="306.20" y1="225.38" x2="303.40" y2="225.38" stroke="#666600" stroke-width="1.6"/>
<line x1="306.20" y1="232.75" x2="303.40" y2="232.75" stroke="#666600" stroke-width="1.6"/>
<line x1="306.20" y1="240.11" x2="303.40" y2="240.11" stroke="#666600" stroke-width="1.6"/>
<line x1="306.20" y1="247.48" x2="303.40" y2="247.48" stroke="#666600" stroke-width="1.6"/>
<line x1="306.20" y1="254.85" x2="303.40" y2="254.85" stroke="#666600" stroke-width="1.6"/>
<line x1="306.20" y1="262.22" x2="303.40" y2="262.22" stroke="#666600" stroke-width="1.6"/>
<line x1="306.20" y1="269.59" x2="303.40" y2="269.59" stroke="#666600" stroke-width="1.6"/>
<line x1="306.20" y1="276.95" x2="303.40" y2="276.95" stroke="#666600" stroke-width="1.6"/>
<line x1="306.20" y1="284.32" x2="303.40" y2="284.32" stroke="#666600" stroke-width="1.6"/>
<line x1="306.20" y1="291.69" x2="303.40" y2="291.69" stroke="#666600" stroke-width="1.6"/>
<line x1="306.20" y1="299.06" x2="303.40" y2="299.06" stroke="#666600" stroke-width="1.6"/>
<line x1="306.20" y1="306.43" x2="303.40" y2="306.43" stroke="#666600" stroke-width="1.6"/>
<line x1="306.20" y1="313.80" x2="303.40" y2="313.80" stroke="#666600" stroke-width="1.6"/>
<line x1="306.20" y1="321.16" x2="303.40" y2="321.16" stroke="#666600" stroke-width="1.6"/>
<line x1="306.20" y1="328.53" x2="303.40" y2="328.53" stroke="#666600" stroke-width="1.6"/>
<line x1="306.20" y1="335.90" x2="303.40" y2="335.90" stroke="#666600" stroke-width="1.6"/>
<line x1="306.20" y1="343.27" x2="303.40" y2="343.27" stroke="#666600" stroke-width="1.6"/>
<line x1="306.20" y1="350.64" x2="303.40" y2="350.64" stroke="#666600" stroke-width="1.6"/>
<line x1="306.20" y1="358.00" x2="303.40" y2="358.00" stroke="#666600" stroke-width="1.6"/>
<line x1="306.20" y1="365.37" x2="303.40" y2="365.37" stroke="#666600" stroke-width="1.6"/>
<line x1="306.20" y1="372.74" x2="303.40" y2="372.74" stroke="#666600" stroke-width="1.6"/>
<line x1="306.20" y1="380.11" x2="303.40" y2="380.11" stroke="#666600" stroke-width="1.6"/>
<line x1="306.20" y1="387.48" x2="303.40" y2="387.48" stroke="#666600" stroke-width="1.6"/>
<line x1="306.20" y1="394.85" x2="303.40" y2="394.85" stroke="#666600" stroke-width="1.6"/>
<line x1="306.20" y1="402.21" x2="303.40" y2="402.21" stroke="#666600" stroke-width="1.6"/>
<line x1="306.20" y1="409.58" x2="303.40" y2="409.58" stroke="#666600" stroke-width="1.6"/>
<line x1="306.20" y1="416.95" x2="303.40" y2="416.95" stroke="#666600" stroke-width="1.6"/>
<line x1="306.20" y1="424.32" x2="303.40" y2="424.32" stroke="#666600" stroke-width="1.6"/>
<line x1="306.20" y1="431.69" x2="303.40" y2="431.69" stroke="#666600" stroke-width="1.6"/>
<line x1="306.20" y1="439.05" x2="303.40" y2="439.05" stroke="#666600" stroke-width="1.6"/>
<line x1="306.20" y1="446.42" x2="303.40" y2="446.42" stroke="#666600" stroke-width="1.6"/>
<line x1="306.20" y1="453.79" x2="303.40" y2="453.79" stroke="#666600" stroke-width="1.6"/>
<line x1="306.20" y1="461.16" x2="303.40" y2="461.16" stroke="#666600" stroke-width="1.6"/>
<line x1="306.20" y1="468.53" x2="303.40" y2="468.53" stroke="#666600" stroke-width="1.6"/>
<line x1="306.20" y1="475.90" x2="303.40" y2="475.90" stroke="#666600" stroke-width="1.6"/>
<line x1="306.20" y1="483.26" x2="303.40" y2="483.26" stroke="#666600" stroke-width="1.6"/>
<line x1="306.20" y1="490.63" x2="303.40" y2="490.63" stroke="#666600" stroke-width="1.6"/>
<line x1="306.20" y1="498.00" x2="303.40" y2="498.00" stroke="#666600" stroke-width="1.6"/>
<line x1="306.20" y1="173.80" x2="301.40" y2="173.80" stroke="#666600" stroke-width="1.6"/>
<line x1="306.20" y1="203.27" x2="301.40" y2="203.27" stroke="#666600" stroke-width="1.6"/>
<line x1="306.20" y1="232.75" x2="301.40" y2="232.75" stroke="#666600" stroke-width="1.6"/>
<line x1="306.20" y1="262.22" x2="301.40" y2="262.22" stroke="#666600" stroke-width="1.6"/>
<line x1="306.20" y1="291.69" x2="301.40" y2="291.69" stroke="#666600" stroke-width="1.6"/>
<line x1="306.20" y1="321.16" x2="301.40" y2="321.16" stroke="#666600" stroke-width="1.6"/>
<line x1="306.20" y1="350.64" x2="301.40" y2="350.64" stroke="#666600" stroke-width="1.6"/>
<line x1="306.20" y1="380.11" x2="301.40" y2="380.11" stroke="#666600" stroke-width="1.6"/>
<line x1="306.20" y1="409.58" x2="301.40" y2="409.58" stroke="#666600" stroke-width="1.6"/>
<line x1="306.20" y1="439.05" x2="301.40" y2="439.05" stroke="#666600" stroke-width="1.6"/>
<line x1="306.20" y1="468.53" x2="301.40" y2="468.53" stroke="#666600" stroke-width="1.6"/>
<line x1="306.20" y1="498.00" x2="301.40" y2="498.00" stroke="#666600" stroke-width="1.6"/>
<rect x="392.20" y="172.80" width="2" height="326.20" fill="#666600"/>
<line x1="393.20" y1="173.80" x2="396.20" y2="173.80" stroke="#666600" stroke-width="1.6"/>
<line x1="393.20" y1="181.17" x2="396.20" y2="181.17" stroke="#666600" stroke-width="1.6"/>
<line x1="393.20" y1="188.54" x2="396.20" y2="188.54" stroke="#666600" stroke-width="1.6"/>
<line x1="393.20" y1="195.90" x2="396.20" y2="195.90" stroke="#666600" stroke-width="1.6"/>
<line x1="393.20" y1="203.27" x2="396.20" y2="203.27" stroke="#666600" stroke-width="1.6"/>
<line x1="393.20" y1="210.64" x2="396.20" y2="210.64" stroke="#666600" stroke-width="1.6"/>
<line x1="393.20" y1="218.01" x2="396.20" y2="218.01" stroke="#666600" stroke-width="1.6"/>
<line x1="393.20" y1="225.38" x2="396.20" y2="225.38" stroke="#666600" stroke-width="1.6"/>
<line x1="393.20" y1="232.75" x2="396.20" y2="232.75" stroke="#666600" stroke-width="1.6"/>
<line x1="393.20" y1="240.11" x2="396.20" y2="240.11" stroke="#666600" stroke-width="1.6"/>
<line x1="393.20" y1="247.48" x2="396.20" y2="247.48" stroke="#666600" stroke-width="1.6"/>
<line x1="393.20" y1="254.85" x2="396.20" y2="254.85" stroke="#666600" stroke-width="1.6"/>
<line x1="393.20" y1="262.22" x2="396.20" y2="262.22" stroke="#666600" stroke-width="1.6"/>
<line x1="393.20" y1="269.59" x2="396.20" y2="269.59" stroke="#666600" stroke-width="1.6"/>
<line x1="393.20" y1="276.95" x2="396.20" y2="276.95" stroke="#666600" stroke-width="1.6"/>
<line x1="393.20" y1="284.32" x2="396.20" y2="284.32" stroke="#666600" stroke-width="1.6"/>
<line x1="393.20" y1="291.69" x2="396.20" y2="291.69" stroke="#666600" stroke-width="1.6"/>
<line x1="393.20" y1="299.06" x2="396.20" y2="299.06" stroke="#666600" stroke-width="1.6"/>
<line x1="393.20" y1="306.43" x2="396.20" y2="306.43" stroke="#666600" stroke-width="1.6"/>
<line x1="393.20" y1="313.80" x2="396.20" y2="313.80" stroke="#666600" stroke-width="1.6"/>
<line x1="393.20" y1="321.16" x2="396.20" y2="321.16" stroke="#666600" stroke-width="1.6"/>
<line x1="393.20" y1="328.53" x2="396.20" y2="328.53" stroke="#666600" stroke-width="1.6"/>
<line x1="393.20" y1="335.90" x2="396.20" y2="335.90" stroke="#666600" stroke-width="1.6"/>
<line x1="393.20" y1="343.27" x2="396.20" y2="343.27" stroke="#666600" stroke-width="1.6"/>
<line x1="393.20" y1="350.64" x2="396.20" y2="350.64" stroke="#666600" stroke-width="1.6"/>
<line x1="393.20" y1="358.00" x2="396.20" y2="358.00" stroke="#666600" stroke-width="1.6"/>
<line x1="393.20" y1="365.37" x2="396.20" y2="365.37" stroke="#666600" stroke-width="1.6"/>
<line x1="393.20" y1="372.74" x2="396.20" y2="372.74" stroke="#666600" stroke-width="1.6"/>
<line x1="393.20" y1="380.11" x2="396.20" y2="380.11" stroke="#666600" stroke-width="1.6"/>
<line x1="393.20" y1="387.48" x2="396.20" y2="387.48" stroke="#666600" stroke-width="1.6"/>
<line x1="393.20" y1="394.85" x2="396.20" y2="394.85" stroke="#666600" stroke-width="1.6"/>
<line x1="393.20" y1="402.21" x2="396.20" y2="402.21" stroke="#666600" stroke-width="1.6"/>
<line x1="393.20" y1="409.58" x2="396.20" y2="409.58" stroke="#666600" stroke-width="1.6"/>
<line x1="393.20" y1="416.95" x2="396.20" y2="416.95" stroke="#666600" stroke-width="1.6"/>
<line x1="393.20" y1="424.32" x2="396.20" y2="424.32" stroke="#666600" stroke-width="1.6"/>
<line x1="393.20" y1="431.69" x2="396.20" y2="431.69" stroke="#666600" stroke-width="1.6"/>
<line x1="393.20" y1="439.05" x2="396.20" y2="439.05" stroke="#666600" stroke-width="1.6"/>
<line x1="393.20" y1="446.42" x2="396.20" y2="446.42" stroke="#666600" stroke-width="1.6"/>
<line x1="393.20" y1="453.79" x2="396.20" y2="453.79" stroke="#666600" stroke-width="1.6"/>
<line x1="393.20" y1="461.16" x2="396.20" y2="461.16" stroke="#666600" stroke-width="1.6"/>
<line x1="393.20" y1="468.53" x2="396.20" y2="468.53" stroke="#666600" stroke-width="1.6"/>
<line x1="393.20" y1="475.90" x2="396.20" y2="475.90" stroke="#666600" stroke-width="1.6"/>
<line x1="393.20" y1="483.26" x2="396.20" y2="483.26" stroke="#666600" stroke-width="1.6"/>
<line x1="393.20" y1="490.63" x2="396.20" y2="490.63" stroke="#666600" stroke-width="1.6"/>
<line x1="393.20" y1="498.00" x2="396.20" y2="498.00" stroke="#666600" stroke-width="1.6"/>
<line x1="393.20" y1="173.80" x2="398.40" y2="173.80" stroke="#666600" stroke-width="1.6"/>
<line x1="393.20" y1="203.27" x2="398.40" y2="203.27" stroke="#666600" stroke-width="1.6"/>
<line x1="393.20" y1="232.75" x2="398.40" y2="232.75" stroke="#666600" stroke-width="1.6"/>
<line x1="393.20" y1="262.22" x2="398.40" y2="262.22" stroke="#666600" stroke-width="1.6"/>
<line x1="393.20" y1="291.69" x2="398.40" y2="291.69" stroke="#666600" stroke-width="1.6"/>
<line x1="393.20" y1="321.16" x2="398.40" y2="321.16" stroke="#666600" stroke-width="1.6"/>
<line x1="393.20" y1="350.64" x2="398.40" y2="350.64" stroke="#666600" stroke-width="1.6"/>
<line x1="393.20" y1="380.11" x2="398.40" y2="380.11" stroke="#666600" stroke-width="1.6"/>
<line x1="393.20" y1="409.58" x2="398.40" y2="409.58" stroke="#666600" stroke-width="1.6"/>
<line x1="393.20" y1="439.05" x2="398.40" y2="439.05" stroke="#666600" stroke-width="1.6"/>
<line x1="393.20" y1="468.53" x2="398.40" y2="468.53" stroke="#666600" stroke-width="1.6"/>
<line x1="393.20" y1="498.00" x2="398.40" y2="498.00" stroke="#666600" stroke-width="1.6"/>
<rect x="305.20" y="172.80" width="89.00" height="2" fill="#ff6060"/>
<line x1="306.20" y1="173.80" x2="306.20" y2="170.80" stroke="#ff6060" stroke-width="1.6"/>
<line x1="312.00" y1="173.80" x2="312.00" y2="170.80" stroke="#ff6060" stroke-width="1.6"/>
<line x1="317.80" y1="173.80" x2="317.80" y2="170.80" stroke="#ff6060" stroke-width="1.6"/>
<line x1="323.60" y1="173.80" x2="323.60" y2="170.80" stroke="#ff6060" stroke-width="1.6"/>
<line x1="329.40" y1="173.80" x2="329.40" y2="170.80" stroke="#ff6060" stroke-width="1.6"/>
<line x1="335.20" y1="173.80" x2="335.20" y2="170.80" stroke="#ff6060" stroke-width="1.6"/>
<line x1="341.00" y1="173.80" x2="341.00" y2="170.80" stroke="#ff6060" stroke-width="1.6"/>
<line x1="346.80" y1="173.80" x2="346.80" y2="170.80" stroke="#ff6060" stroke-width="1.6"/>
<line x1="352.60" y1="173.80" x2="352.60" y2="170.80" stroke="#ff6060" stroke-width="1.6"/>
<line x1="358.40" y1="173.80" x2="358.40" y2="170.80" stroke="#ff6060" stroke-width="1.6"/>
<line x1="364.20" y1="173.80" x2="364.20" y2="170.80" stroke="#ff6060" stroke-width="1.6"/>
<line x1="370.00" y1="173.80" x2="370.00" y2="170.80" stroke="#ff6060" stroke-width="1.6"/>
<line x1="375.80" y1="173.80" x2="375.80" y2="170.80" stroke="#ff6060" stroke-width="1.6"/>
<line x1="381.60" y1="173.80" x2="381.60" y2="170.80" stroke="#ff6060" stroke-width="1.6"/>
<line x1="387.40" y1="173.80" x2="387.40" y2="170.80" stroke="#ff6060" stroke-width="1.6"/>
<line x1="393.20" y1="173.80" x2="393.20" y2="170.80" stroke="#ff6060" stroke-width="1.6"/>
<line x1="306.20" y1="173.80" x2="306.20" y2="168.30" stroke="#ff6060" stroke-width="1.6"/>
<line x1="335.20" y1="173.80" x2="335.20" y2="168.30" stroke="#ff6060" stroke-width="1.6"/>
<line x1="364.20" y1="173.80" x2="364.20" y2="168.30" stroke="#ff6060" stroke-width="1.6"/>
<line x1="393.20" y1="173.80" x2="393.20" y2="168.30" stroke="#ff6060" stroke-width="1.6"/>
<rect x="305.20" y="497.00" width="89.00" height="2" fill="#ff6060"/>
<line x1="306.20" y1="498.00" x2="306.20" y2="501.00" stroke="#ff6060" stroke-width="1.6"/>
<line x1="312.00" y1="498.00" x2="312.00" y2="501.00" stroke="#ff6060" stroke-width="1.6"/>
<line x1="317.80" y1="498.00" x2="317.80" y2="501.00" stroke="#ff6060" stroke-width="1.6"/>
<line x1="323.60" y1="498.00" x2="323.60" y2="501.00" stroke="#ff6060" stroke-width="1.6"/>
<line x1="329.40" y1="498.00" x2="329.40" y2="501.00" stroke="#ff6060" stroke-width="1.6"/>
<line x1="335.20" y1="498.00" x2="335.20" y2="501.00" stroke="#ff6060" stroke-width="1.6"/>
<line x1="341.00" y1="498.00" x2="341.00" y2="501.00" stroke="#ff6060" stroke-width="1.6"/>
<line x1="346.80" y1="498.00" x2="346.80" y2="501.00" stroke="#ff6060" stroke-width="1.6"/>
<line x1="352.60" y1="498.00" x2="352.60" y2="501.00" stroke="#ff6060" stroke-width="1.6"/>
<line x1="358.40" y1="498.00" x2="358.40" y2="501.00" stroke="#ff6060" stroke-width="1.6"/>
<line x1="364.20" y1="498.00" x2="364.20" y2="501.00" stroke="#ff6060" stroke-width="1.6"/>
<line x1="370.00" y1="498.00" x2="370.00" y2="501.00" stroke="#ff6060" stroke-width="1.6"/>
<line x1="375.80" y1="498.00" x2="375.80" y2="501.00" stroke="#ff6060" stroke-width="1.6"/>
<line x1="381.60" y1="498.00" x2="381.60" y2="501.00" stroke="#ff6060" stroke-width="1.6"/>
<line x1="387.40" y1="498.00" x2="387.40" y2="501.00" stroke="#ff6060" stroke-width="1.6"/>
<line x1="393.20" y1="498.00" x2="393.20" y2="501.00" stroke="#ff6060" stroke-width="1.6"/>
<line x1="306.20" y1="498.00" x2="306.20" y2="503.50" stroke="#ff6060" stroke-width="1.6"/>
<line x1="335.20" y1="498.00" x2="335.20" y2="503.50" stroke="#ff6060" stroke-width="1.6"/>
<line x1="364.20" y1="498.00" x2="364.20" y2="503.50" stroke="#ff6060" stroke-width="1.6"/>
<line x1="393.20" y1="498.00" x2="393.20" y2="503.50" stroke="#ff6060" stroke-width="1.6"/>
<text x="306.20" y="518.60" fill="#ff6060" stroke="#ff6060" font-size="14" text-anchor="middle">-1.0</text>
<text x="335.20" y="518.60" fill="#ff6060" stroke="#ff6060" font-size="14" text-anchor="middle">-0.5</text>
<text x="364.20" y="518.60" fill="#ff6060" stroke="#ff6060" font-size="14" text-anchor="middle">0.0</text>
<text x="393.20" y="518.60" fill="#ff6060" stroke="#ff6060" font-size="14" text-anchor="middle">0.5</text>
<text x="280.5" y="536" fill="#ff6060" stroke="#ff6060" font-size="14">ΔT= T<tspan font-size="9.5" dy="-5.5">SBE63</tspan><tspan dy="5.5"> - T</tspan><tspan font-size="9.5" dy="-5.5">SBE41</tspan><tspan dy="5.5"> (°C)</tspan></text>
<rect x="432.8" y="174.0" width="107.99999999999994" height="108.0" fill="#ccedf8"/>
<clipPath id="tsclip"><rect x="432.8" y="174.0" width="107.99999999999994" height="108.0"/></clipPath>
<g clip-path="url(#tsclip)" fill="none" stroke="#4f6168" stroke-width="0.8" stroke-dasharray="5,1">
<path d="M415.4,178.0 L416.3,177.7 L417.2,177.4 L418.1,177.1 L419.0,176.8 L419.8,176.6 L420.7,176.3 L421.6,176.0 L422.5,175.7 L423.4,175.4 L424.3,175.1 L425.2,174.9 L426.1,174.6 L427.0,174.3 L427.9,174.0 L428.8,173.7 L429.7,173.4 L430.6,173.1 L431.5,172.9 L432.4,172.6 L433.4,172.3 L434.3,172.0 L435.2,171.7 L436.1,171.4 L437.0,171.2"/>
<path d="M415.4,182.0 L416.3,181.7 L417.1,181.4 L418.0,181.1 L418.8,180.8 L419.7,180.5 L420.6,180.3 L421.4,180.0 L422.3,179.7 L423.2,179.4 L424.0,179.1 L424.9,178.8 L425.8,178.5 L426.7,178.3 L427.5,178.0 L428.4,177.7 L429.3,177.4 L430.2,177.1 L431.1,176.8 L431.9,176.6 L432.8,176.3 L433.7,176.0 L434.6,175.7 L435.5,175.4 L436.4,175.1 L437.3,174.9 L438.2,174.6 L439.1,174.3 L440.0,174.0 L440.9,173.7 L441.8,173.4 L442.7,173.1 L443.6,172.9 L444.6,172.6 L445.5,172.3 L446.4,172.0 L447.3,171.7 L448.2,171.4 L449.1,171.2"/>
<path d="M414.9,186.2 L415.7,185.9 L416.6,185.7 L417.4,185.4 L418.2,185.1 L419.1,184.8 L419.9,184.5 L420.7,184.2 L421.6,183.9 L422.4,183.7 L423.2,183.4 L424.1,183.1 L424.9,182.8 L425.8,182.5 L426.6,182.2 L427.5,182.0 L428.3,181.7 L429.2,181.4 L430.1,181.1 L430.9,180.8 L431.8,180.5 L432.6,180.3 L433.5,180.0 L434.4,179.7 L435.2,179.4 L436.1,179.1 L437.0,178.8 L437.9,178.5 L438.7,178.3 L439.6,178.0 L440.5,177.7 L441.4,177.4 L442.3,177.1 L443.2,176.8 L444.0,176.6 L444.9,176.3 L445.8,176.0 L446.7,175.7 L447.6,175.4 L448.5,175.1 L449.4,174.9 L450.3,174.6 L451.2,174.3 L452.1,174.0 L453.0,173.7 L453.9,173.4 L454.8,173.1 L455.8,172.9 L456.7,172.6 L457.6,172.3 L458.5,172.0 L459.4,171.7 L460.3,171.4 L461.3,171.2"/>
<path d="M415.6,190.2 L416.4,189.9 L417.2,189.6 L418.0,189.3 L418.8,189.1 L419.6,188.8 L420.4,188.5 L421.2,188.2 L422.0,187.9 L422.8,187.6 L423.7,187.4 L424.5,187.1 L425.3,186.8 L426.1,186.5 L426.9,186.2 L427.8,185.9 L428.6,185.7 L429.4,185.4 L430.3,185.1 L431.1,184.8 L431.9,184.5 L432.8,184.2 L433.6,183.9 L434.5,183.7 L435.3,183.4 L436.1,183.1 L437.0,182.8 L437.8,182.5 L438.7,182.2 L439.5,182.0 L440.4,181.7 L441.3,181.4 L442.1,181.1 L443.0,180.8 L443.8,180.5 L444.7,180.3 L445.6,180.0 L446.4,179.7 L447.3,179.4 L448.2,179.1 L449.1,178.8 L449.9,178.5 L450.8,178.3 L451.7,178.0 L452.6,177.7 L453.5,177.4 L454.4,177.1 L455.2,176.8 L456.1,176.6 L457.0,176.3 L457.9,176.0 L458.8,175.7 L459.7,175.4 L460.6,175.1 L461.5,174.9 L462.4,174.6 L463.3,174.3 L464.2,174.0 L465.1,173.7 L466.0,173.4 L466.9,173.1 L467.9,172.9 L468.8,172.6 L469.7,172.3 L470.6,172.0 L471.5,171.7 L472.5,171.4 L473.4,171.2"/>
<path d="M415.1,194.7 L415.8,194.5 L416.6,194.2 L417.4,193.9 L418.2,193.6 L418.9,193.3 L419.7,193.0 L420.5,192.8 L421.3,192.5 L422.1,192.2 L422.8,191.9 L423.6,191.6 L424.4,191.3 L425.2,191.1 L426.0,190.8 L426.8,190.5 L427.6,190.2 L428.4,189.9 L429.2,189.6 L430.0,189.3 L430.8,189.1 L431.6,188.8 L432.4,188.5 L433.2,188.2 L434.1,187.9 L434.9,187.6 L435.7,187.4 L436.5,187.1 L437.3,186.8 L438.2,186.5 L439.0,186.2 L439.8,185.9 L440.6,185.7 L441.5,185.4 L442.3,185.1 L443.1,184.8 L444.0,184.5 L444.8,184.2 L445.7,183.9 L446.5,183.7 L447.4,183.4 L448.2,183.1 L449.0,182.8 L449.9,182.5 L450.8,182.2 L451.6,182.0 L452.5,181.7 L453.3,181.4 L454.2,181.1 L455.0,180.8 L455.9,180.5 L456.8,180.3 L457.6,180.0 L458.5,179.7 L459.4,179.4 L460.3,179.1 L461.1,178.8 L462.0,178.5 L462.9,178.3 L463.8,178.0 L464.7,177.7 L465.5,177.4 L466.4,177.1 L467.3,176.8 L468.2,176.6 L469.1,176.3 L470.0,176.0 L470.9,175.7 L471.8,175.4 L472.7,175.1 L473.6,174.9 L474.5,174.6 L475.4,174.3 L476.3,174.0 L477.2,173.7 L478.1,173.4 L479.0,173.1 L480.0,172.9 L480.9,172.6 L481.8,172.3 L482.7,172.0 L483.6,171.7 L484.6,171.4 L485.5,171.2"/>
<path d="M415.0,199.3 L415.8,199.0 L416.5,198.7 L417.3,198.4 L418.0,198.2 L418.7,197.9 L419.5,197.6 L420.2,197.3 L421.0,197.0 L421.7,196.7 L422.5,196.5 L423.2,196.2 L424.0,195.9 L424.8,195.6 L425.5,195.3 L426.3,195.0 L427.1,194.7 L427.8,194.5 L428.6,194.2 L429.4,193.9 L430.2,193.6 L430.9,193.3 L431.7,193.0 L432.5,192.8 L433.3,192.5 L434.1,192.2 L434.8,191.9 L435.6,191.6 L436.4,191.3 L437.2,191.1 L438.0,190.8 L438.8,190.5 L439.6,190.2 L440.4,189.9 L441.2,189.6 L442.0,189.3 L442.8,189.1 L443.6,188.8 L444.5,188.5 L445.3,188.2 L446.1,187.9 L446.9,187.6 L447.7,187.4 L448.5,187.1 L449.4,186.8 L450.2,186.5 L451.0,186.2 L451.8,185.9 L452.7,185.7 L453.5,185.4 L454.3,185.1 L455.2,184.8 L456.0,184.5 L456.9,184.2 L457.7,183.9 L458.6,183.7 L459.4,183.4 L460.2,183.1 L461.1,182.8 L462.0,182.5 L462.8,182.2 L463.7,182.0 L464.5,181.7 L465.4,181.4 L466.2,181.1 L467.1,180.8 L468.0,180.5 L468.8,180.3 L469.7,180.0 L470.6,179.7 L471.5,179.4 L472.3,179.1 L473.2,178.8 L474.1,178.5 L475.0,178.3 L475.8,178.0 L476.7,177.7 L477.6,177.4 L478.5,177.1 L479.4,176.8 L480.3,176.6 L481.2,176.3 L482.1,176.0 L483.0,175.7 L483.9,175.4 L484.8,175.1 L485.7,174.9 L486.6,174.6 L487.5,174.3 L488.4,174.0 L489.3,173.7 L490.2,173.4 L491.1,173.1 L492.1,172.9 L493.0,172.6 L493.9,172.3 L494.8,172.0 L495.7,171.7 L496.7,171.4 L497.6,171.2"/>
<path d="M415.5,203.8 L416.2,203.6 L416.9,203.3 L417.6,203.0 L418.3,202.7 L419.0,202.4 L419.7,202.1 L420.4,201.9 L421.2,201.6 L421.9,201.3 L422.6,201.0 L423.3,200.7 L424.1,200.4 L424.8,200.1 L425.5,199.9 L426.3,199.6 L427.0,199.3 L427.7,199.0 L428.5,198.7 L429.2,198.4 L430.0,198.2 L430.7,197.9 L431.5,197.6 L432.2,197.3 L433.0,197.0 L433.7,196.7 L434.5,196.5 L435.2,196.2 L436.0,195.9 L436.7,195.6 L437.5,195.3 L438.3,195.0 L439.0,194.7 L439.8,194.5 L440.6,194.2 L441.4,193.9 L442.1,193.6 L442.9,193.3 L443.7,193.0 L444.5,192.8 L445.3,192.5 L446.1,192.2 L446.8,191.9 L447.6,191.6 L448.4,191.3 L449.2,191.1 L450.0,190.8 L450.8,190.5 L451.6,190.2 L452.4,189.9 L453.2,189.6 L454.0,189.3 L454.8,189.1 L455.7,188.8 L456.5,188.5 L457.3,188.2 L458.1,187.9 L458.9,187.6 L459.7,187.4 L460.6,187.1 L461.4,186.8 L462.2,186.5 L463.0,186.2 L463.9,185.9 L464.7,185.7 L465.5,185.4 L466.4,185.1 L467.2,184.8 L468.1,184.5 L468.9,184.2 L469.7,183.9 L470.6,183.7 L471.4,183.4 L472.3,183.1 L473.1,182.8 L474.0,182.5 L474.9,182.2 L475.7,182.0 L476.6,181.7 L477.4,181.4 L478.3,181.1 L479.2,180.8 L480.0,180.5 L480.9,180.3 L481.8,180.0 L482.6,179.7 L483.5,179.4 L484.4,179.1 L485.3,178.8 L486.2,178.5 L487.0,178.3 L487.9,178.0 L488.8,177.7 L489.7,177.4 L490.6,177.1 L491.5,176.8 L492.4,176.6 L493.3,176.3 L494.2,176.0 L495.1,175.7 L496.0,175.4 L496.9,175.1 L497.8,174.9 L498.7,174.6 L499.6,174.3 L500.5,174.0 L501.4,173.7 L502.3,173.4 L503.2,173.1 L504.1,172.9 L505.1,172.6 L506.0,172.3 L506.9,172.0 L507.8,171.7 L508.8,171.4 L509.7,171.2"/>
<path d="M415.1,209.0 L415.7,208.7 L416.4,208.4 L417.1,208.1 L417.7,207.8 L418.4,207.5 L419.1,207.3 L419.8,207.0 L420.5,206.7 L421.1,206.4 L421.8,206.1 L422.5,205.8 L423.2,205.5 L423.9,205.3 L424.6,205.0 L425.3,204.7 L426.0,204.4 L426.7,204.1 L427.4,203.8 L428.1,203.6 L428.8,203.3 L429.5,203.0 L430.2,202.7 L430.9,202.4 L431.7,202.1 L432.4,201.9 L433.1,201.6 L433.8,201.3 L434.6,201.0 L435.3,200.7 L436.0,200.4 L436.7,200.1 L437.5,199.9 L438.2,199.6 L438.9,199.3 L439.7,199.0 L440.4,198.7 L441.2,198.4 L441.9,198.2 L442.7,197.9 L443.4,197.6 L444.2,197.3 L444.9,197.0 L445.7,196.7 L446.4,196.5 L447.2,196.2 L448.0,195.9 L448.7,195.6 L449.5,195.3 L450.3,195.0 L451.0,194.7 L451.8,194.5 L452.6,194.2 L453.3,193.9 L454.1,193.6 L454.9,193.3 L455.7,193.0 L456.5,192.8 L457.3,192.5 L458.1,192.2 L458.8,191.9 L459.6,191.6 L460.4,191.3 L461.2,191.1 L462.0,190.8 L462.8,190.5 L463.6,190.2 L464.4,189.9 L465.2,189.6 L466.0,189.3 L466.9,189.1 L467.7,188.8 L468.5,188.5 L469.3,188.2 L470.1,187.9 L470.9,187.6 L471.8,187.4 L472.6,187.1 L473.4,186.8 L474.2,186.5 L475.1,186.2 L475.9,185.9 L476.7,185.7 L477.6,185.4 L478.4,185.1 L479.3,184.8 L480.1,184.5 L480.9,184.2 L481.8,183.9 L482.6,183.7 L483.5,183.4 L484.3,183.1 L485.2,182.8 L486.0,182.5 L486.9,182.2 L487.8,182.0 L488.6,181.7 L489.5,181.4 L490.3,181.1 L491.2,180.8 L492.1,180.5 L493.0,180.3 L493.8,180.0 L494.7,179.7 L495.6,179.4 L496.5,179.1 L497.3,178.8 L498.2,178.5 L499.1,178.3 L500.0,178.0 L500.9,177.7 L501.8,177.4 L502.6,177.1 L503.5,176.8 L504.4,176.6 L505.3,176.3 L506.2,176.0 L507.1,175.7 L508.0,175.4 L508.9,175.1 L509.8,174.9 L510.7,174.6 L511.7,174.3 L512.6,174.0 L513.5,173.7 L514.4,173.4 L515.3,173.1 L516.2,172.9 L517.1,172.6 L518.1,172.3 L519.0,172.0 L519.9,171.7 L520.8,171.4 L521.8,171.2"/>
<path d="M415.3,214.1 L415.9,213.8 L416.5,213.5 L417.2,213.2 L417.8,212.9 L418.4,212.7 L419.1,212.4 L419.7,212.1 L420.4,211.8 L421.0,211.5 L421.7,211.2 L422.3,210.9 L423.0,210.7 L423.6,210.4 L424.3,210.1 L424.9,209.8 L425.6,209.5 L426.3,209.2 L426.9,209.0 L427.6,208.7 L428.3,208.4 L429.0,208.1 L429.6,207.8 L430.3,207.5 L431.0,207.3 L431.7,207.0 L432.4,206.7 L433.0,206.4 L433.7,206.1 L434.4,205.8 L435.1,205.5 L435.8,205.3 L436.5,205.0 L437.2,204.7 L437.9,204.4 L438.6,204.1 L439.3,203.8 L440.0,203.6 L440.7,203.3 L441.4,203.0 L442.2,202.7 L442.9,202.4 L443.6,202.1 L444.3,201.9 L445.0,201.6 L445.8,201.3 L446.5,201.0 L447.2,200.7 L447.9,200.4 L448.7,200.1 L449.4,199.9 L450.2,199.6 L450.9,199.3 L451.6,199.0 L452.4,198.7 L453.1,198.4 L453.9,198.2 L454.6,197.9 L455.4,197.6 L456.1,197.3 L456.9,197.0 L457.6,196.7 L458.4,196.5 L459.2,196.2 L459.9,195.9 L460.7,195.6 L461.5,195.3 L462.2,195.0 L463.0,194.7 L463.8,194.5 L464.5,194.2 L465.3,193.9 L466.1,193.6 L466.9,193.3 L467.7,193.0 L468.5,192.8 L469.2,192.5 L470.0,192.2 L470.8,191.9 L471.6,191.6 L472.4,191.3 L473.2,191.1 L474.0,190.8 L474.8,190.5 L475.6,190.2 L476.4,189.9 L477.2,189.6 L478.0,189.3 L478.9,189.1 L479.7,188.8 L480.5,188.5 L481.3,188.2 L482.1,187.9 L483.0,187.6 L483.8,187.4 L484.6,187.1 L485.4,186.8 L486.3,186.5 L487.1,186.2 L487.9,185.9 L488.8,185.7 L489.6,185.4 L490.4,185.1 L491.3,184.8 L492.1,184.5 L493.0,184.2 L493.8,183.9 L494.7,183.7 L495.5,183.4 L496.4,183.1 L497.2,182.8 L498.1,182.5 L498.9,182.2 L499.8,182.0 L500.7,181.7 L501.5,181.4 L502.4,181.1 L503.3,180.8 L504.1,180.5 L505.0,180.3 L505.9,180.0 L506.7,179.7 L507.6,179.4 L508.5,179.1 L509.4,178.8 L510.3,178.5 L511.2,178.3 L512.0,178.0 L512.9,177.7 L513.8,177.4 L514.7,177.1 L515.6,176.8 L516.5,176.6 L517.4,176.3 L518.3,176.0 L519.2,175.7 L520.1,175.4 L521.0,175.1 L521.9,174.9 L522.8,174.6 L523.7,174.3 L524.6,174.0 L525.6,173.7 L526.5,173.4 L527.4,173.1 L528.3,172.9 L529.2,172.6 L530.2,172.3 L531.1,172.0 L532.0,171.7 L532.9,171.4 L533.9,171.2"/>
<path d="M415.0,219.8 L415.6,219.5 L416.1,219.2 L416.7,218.9 L417.3,218.6 L417.9,218.3 L418.5,218.1 L419.1,217.8 L419.7,217.5 L420.3,217.2 L420.9,216.9 L421.5,216.6 L422.2,216.3 L422.8,216.1 L423.4,215.8 L424.0,215.5 L424.6,215.2 L425.2,214.9 L425.9,214.6 L426.5,214.4 L427.1,214.1 L427.8,213.8 L428.4,213.5 L429.0,213.2 L429.7,212.9 L430.3,212.7 L430.9,212.4 L431.6,212.1 L432.2,211.8 L432.9,211.5 L433.5,211.2 L434.2,210.9 L434.8,210.7 L435.5,210.4 L436.2,210.1 L436.8,209.8 L437.5,209.5 L438.2,209.2 L438.8,209.0 L439.5,208.7 L440.2,208.4 L440.8,208.1 L441.5,207.8 L442.2,207.5 L442.9,207.3 L443.6,207.0 L444.2,206.7 L444.9,206.4 L445.6,206.1 L446.3,205.8 L447.0,205.5 L447.7,205.3 L448.4,205.0 L449.1,204.7 L449.8,204.4 L450.5,204.1 L451.2,203.8 L451.9,203.6 L452.6,203.3 L453.4,203.0 L454.1,202.7 L454.8,202.4 L455.5,202.1 L456.2,201.9 L457.0,201.6 L457.7,201.3 L458.4,201.0 L459.1,200.7 L459.9,200.4 L460.6,200.1 L461.4,199.9 L462.1,199.6 L462.8,199.3 L463.6,199.0 L464.3,198.7 L465.1,198.4 L465.8,198.2 L466.6,197.9 L467.3,197.6 L468.1,197.3 L468.8,197.0 L469.6,196.7 L470.4,196.5 L471.1,196.2 L471.9,195.9 L472.7,195.6 L473.4,195.3 L474.2,195.0 L475.0,194.7 L475.7,194.5 L476.5,194.2 L477.3,193.9 L478.1,193.6 L478.9,193.3 L479.7,193.0 L480.4,192.8 L481.2,192.5 L482.0,192.2 L482.8,191.9 L483.6,191.6 L484.4,191.3 L485.2,191.1 L486.0,190.8 L486.8,190.5 L487.6,190.2 L488.4,189.9 L489.2,189.6 L490.0,189.3 L490.9,189.1 L491.7,188.8 L492.5,188.5 L493.3,188.2 L494.1,187.9 L495.0,187.6 L495.8,187.4 L496.6,187.1 L497.4,186.8 L498.3,186.5 L499.1,186.2 L499.9,185.9 L500.8,185.7 L501.6,185.4 L502.5,185.1 L503.3,184.8 L504.1,184.5 L505.0,184.2 L505.8,183.9 L506.7,183.7 L507.5,183.4 L508.4,183.1 L509.3,182.8 L510.1,182.5 L511.0,182.2 L511.8,182.0 L512.7,181.7 L513.6,181.4 L514.4,181.1 L515.3,180.8 L516.2,180.5 L517.0,180.3 L517.9,180.0 L518.8,179.7 L519.7,179.4 L520.6,179.1 L521.4,178.8 L522.3,178.5 L523.2,178.3 L524.1,178.0 L525.0,177.7 L525.9,177.4 L526.8,177.1 L527.7,176.8 L528.6,176.6 L529.5,176.3 L530.4,176.0 L531.3,175.7 L532.2,175.4 L533.1,175.1 L534.0,174.9 L534.9,174.6 L535.8,174.3 L536.7,174.0 L537.6,173.7 L538.5,173.4 L539.5,173.1 L540.4,172.9 L541.3,172.6 L542.2,172.3 L543.2,172.0 L544.1,171.7 L545.0,171.4 L545.9,171.2"/>
<path d="M414.9,225.7 L415.5,225.4 L416.0,225.2 L416.6,224.9 L417.1,224.6 L417.7,224.3 L418.2,224.0 L418.8,223.7 L419.3,223.5 L419.9,223.2 L420.4,222.9 L421.0,222.6 L421.6,222.3 L422.1,222.0 L422.7,221.7 L423.3,221.5 L423.9,221.2 L424.4,220.9 L425.0,220.6 L425.6,220.3 L426.2,220.0 L426.8,219.8 L427.4,219.5 L427.9,219.2 L428.5,218.9 L429.1,218.6 L429.7,218.3 L430.3,218.1 L430.9,217.8 L431.5,217.5 L432.1,217.2 L432.7,216.9 L433.4,216.6 L434.0,216.3 L434.6,216.1 L435.2,215.8 L435.8,215.5 L436.4,215.2 L437.1,214.9 L437.7,214.6 L438.3,214.4 L439.0,214.1 L439.6,213.8 L440.2,213.5 L440.9,213.2 L441.5,212.9 L442.1,212.7 L442.8,212.4 L443.4,212.1 L444.1,211.8 L444.7,211.5 L445.4,211.2 L446.0,210.9 L446.7,210.7 L447.4,210.4 L448.0,210.1 L448.7,209.8 L449.4,209.5 L450.0,209.2 L450.7,209.0 L451.4,208.7 L452.0,208.4 L452.7,208.1 L453.4,207.8 L454.1,207.5 L454.8,207.3 L455.5,207.0 L456.1,206.7 L456.8,206.4 L457.5,206.1 L458.2,205.8 L458.9,205.5 L459.6,205.3 L460.3,205.0 L461.0,204.7 L461.7,204.4 L462.4,204.1 L463.1,203.8 L463.8,203.6 L464.6,203.3 L465.3,203.0 L466.0,202.7 L466.7,202.4 L467.4,202.1 L468.2,201.9 L468.9,201.6 L469.6,201.3 L470.3,201.0 L471.1,200.7 L471.8,200.4 L472.5,200.1 L473.3,199.9 L474.0,199.6 L474.8,199.3 L475.5,199.0 L476.3,198.7 L477.0,198.4 L477.8,198.2 L478.5,197.9 L479.3,197.6 L480.0,197.3 L480.8,197.0 L481.5,196.7 L482.3,196.5 L483.1,196.2 L483.8,195.9 L484.6,195.6 L485.4,195.3 L486.2,195.0 L486.9,194.7 L487.7,194.5 L488.5,194.2 L489.3,193.9 L490.1,193.6 L490.8,193.3 L491.6,193.0 L492.4,192.8 L493.2,192.5 L494.0,192.2 L494.8,191.9 L495.6,191.6 L496.4,191.3 L497.2,191.1 L498.0,190.8 L498.8,190.5 L499.6,190.2 L500.4,189.9 L501.2,189.6 L502.0,189.3 L502.9,189.1 L503.7,188.8 L504.5,188.5 L505.3,188.2 L506.1,187.9 L507.0,187.6 L507.8,187.4 L508.6,187.1 L509.4,186.8 L510.3,186.5 L511.1,186.2 L512.0,185.9 L512.8,185.7 L513.6,185.4 L514.5,185.1 L515.3,184.8 L516.2,184.5 L517.0,184.2 L517.9,183.9 L518.7,183.7 L519.6,183.4 L520.4,183.1 L521.3,182.8 L522.1,182.5 L523.0,182.2 L523.9,182.0 L524.7,181.7 L525.6,181.4 L526.5,181.1 L527.3,180.8 L528.2,180.5 L529.1,180.3 L530.0,180.0 L530.8,179.7 L531.7,179.4 L532.6,179.1 L533.5,178.8 L534.4,178.5 L535.3,178.3 L536.1,178.0 L537.0,177.7 L537.9,177.4 L538.8,177.1 L539.7,176.8 L540.6,176.6 L541.5,176.3 L542.4,176.0 L543.3,175.7 L544.2,175.4 L545.1,175.1 L546.0,174.9 L547.0,174.6 L547.9,174.3 L548.8,174.0 L549.7,173.7 L550.6,173.4 L551.5,173.1 L552.5,172.9 L553.4,172.6 L554.3,172.3 L555.2,172.0 L556.2,171.7 L557.1,171.4 L558.0,171.2"/>
<path d="M414.9,232.3 L415.4,232.0 L415.9,231.7 L416.4,231.4 L416.9,231.1 L417.3,230.8 L417.8,230.6 L418.3,230.3 L418.8,230.0 L419.4,229.7 L419.9,229.4 L420.4,229.1 L420.9,228.9 L421.4,228.6 L421.9,228.3 L422.4,228.0 L423.0,227.7 L423.5,227.4 L424.0,227.1 L424.5,226.9 L425.1,226.6 L425.6,226.3 L426.1,226.0 L426.7,225.7 L427.2,225.4 L427.8,225.2 L428.3,224.9 L428.9,224.6 L429.4,224.3 L430.0,224.0 L430.5,223.7 L431.1,223.5 L431.6,223.2 L432.2,222.9 L432.8,222.6 L433.3,222.3 L433.9,222.0 L434.5,221.7 L435.1,221.5 L435.6,221.2 L436.2,220.9 L436.8,220.6 L437.4,220.3 L438.0,220.0 L438.6,219.8 L439.1,219.5 L439.7,219.2 L440.3,218.9 L440.9,218.6 L441.5,218.3 L442.1,218.1 L442.7,217.8 L443.3,217.5 L443.9,217.2 L444.6,216.9 L445.2,216.6 L445.8,216.3 L446.4,216.1 L447.0,215.8 L447.6,215.5 L448.3,215.2 L448.9,214.9 L449.5,214.6 L450.2,214.4 L450.8,214.1 L451.4,213.8 L452.1,213.5 L452.7,213.2 L453.3,212.9 L454.0,212.7 L454.6,212.4 L455.3,212.1 L455.9,211.8 L456.6,211.5 L457.2,211.2 L457.9,210.9 L458.6,210.7 L459.2,210.4 L459.9,210.1 L460.6,209.8 L461.2,209.5 L461.9,209.2 L462.6,209.0 L463.2,208.7 L463.9,208.4 L464.6,208.1 L465.3,207.8 L466.0,207.5 L466.6,207.3 L467.3,207.0 L468.0,206.7 L468.7,206.4 L469.4,206.1 L470.1,205.8 L470.8,205.5 L471.5,205.3 L472.2,205.0 L472.9,204.7 L473.6,204.4 L474.3,204.1 L475.0,203.8 L475.8,203.6 L476.5,203.3 L477.2,203.0 L477.9,202.7 L478.6,202.4 L479.4,202.1 L480.1,201.9 L480.8,201.6 L481.5,201.3 L482.3,201.0 L483.0,200.7 L483.7,200.4 L484.5,200.1 L485.2,199.9 L486.0,199.6 L486.7,199.3 L487.4,199.0 L488.2,198.7 L488.9,198.4 L489.7,198.2 L490.5,197.9 L491.2,197.6 L492.0,197.3 L492.7,197.0 L493.5,196.7 L494.3,196.5 L495.0,196.2 L495.8,195.9 L496.6,195.6 L497.3,195.3 L498.1,195.0 L498.9,194.7 L499.7,194.5 L500.5,194.2 L501.2,193.9 L502.0,193.6 L502.8,193.3 L503.6,193.0 L504.4,192.8 L505.2,192.5 L506.0,192.2 L506.8,191.9 L507.6,191.6 L508.4,191.3 L509.2,191.1 L510.0,190.8 L510.8,190.5 L511.6,190.2 L512.4,189.9 L513.2,189.6 L514.0,189.3 L514.8,189.1 L515.7,188.8 L516.5,188.5 L517.3,188.2 L518.1,187.9 L519.0,187.6 L519.8,187.4 L520.6,187.1 L521.4,186.8 L522.3,186.5 L523.1,186.2 L524.0,185.9 L524.8,185.7 L525.6,185.4 L526.5,185.1 L527.3,184.8 L528.2,184.5 L529.0,184.2 L529.9,183.9 L530.7,183.7 L531.6,183.4 L532.4,183.1 L533.3,182.8 L534.2,182.5 L535.0,182.2 L535.9,182.0 L536.8,181.7 L537.6,181.4 L538.5,181.1 L539.4,180.8 L540.2,180.5 L541.1,180.3 L542.0,180.0 L542.9,179.7 L543.8,179.4 L544.6,179.1 L545.5,178.8 L546.4,178.5 L547.3,178.3 L548.2,178.0 L549.1,177.7 L550.0,177.4 L550.9,177.1 L551.8,176.8 L552.7,176.6 L553.6,176.3 L554.5,176.0 L555.4,175.7 L556.3,175.4 L557.2,175.1 L558.1,174.9"/>
<path d="M415.2,239.4 L415.6,239.1 L416.0,238.8 L416.4,238.5 L416.9,238.2 L417.3,237.9 L417.7,237.7 L418.2,237.4 L418.6,237.1 L419.1,236.8 L419.5,236.5 L420.0,236.2 L420.4,236.0 L420.9,235.7 L421.4,235.4 L421.8,235.1 L422.3,234.8 L422.7,234.5 L423.2,234.3 L423.7,234.0 L424.2,233.7 L424.6,233.4 L425.1,233.1 L425.6,232.8 L426.1,232.5 L426.6,232.3 L427.1,232.0 L427.5,231.7 L428.0,231.4 L428.5,231.1 L429.0,230.8 L429.5,230.6 L430.0,230.3 L430.5,230.0 L431.1,229.7 L431.6,229.4 L432.1,229.1 L432.6,228.9 L433.1,228.6 L433.6,228.3 L434.2,228.0 L434.7,227.7 L435.2,227.4 L435.7,227.1 L436.3,226.9 L436.8,226.6 L437.3,226.3 L437.9,226.0 L438.4,225.7 L439.0,225.4 L439.5,225.2 L440.1,224.9 L440.6,224.6 L441.2,224.3 L441.7,224.0 L442.3,223.7 L442.8,223.5 L443.4,223.2 L444.0,222.9 L444.5,222.6 L445.1,222.3 L445.7,222.0 L446.3,221.7 L446.8,221.5 L447.4,221.2 L448.0,220.9 L448.6,220.6 L449.2,220.3 L449.7,220.0 L450.3,219.8 L450.9,219.5 L451.5,219.2 L452.1,218.9 L452.7,218.6 L453.3,218.3 L453.9,218.1 L454.5,217.8 L455.1,217.5 L455.8,217.2 L456.4,216.9 L457.0,216.6 L457.6,216.3 L458.2,216.1 L458.8,215.8 L459.5,215.5 L460.1,215.2 L460.7,214.9 L461.4,214.6 L462.0,214.4 L462.6,214.1 L463.3,213.8 L463.9,213.5 L464.5,213.2 L465.2,212.9 L465.8,212.7 L466.5,212.4 L467.1,212.1 L467.8,211.8 L468.4,211.5 L469.1,211.2 L469.8,210.9 L470.4,210.7 L471.1,210.4 L471.7,210.1 L472.4,209.8 L473.1,209.5 L473.8,209.2 L474.4,209.0 L475.1,208.7 L475.8,208.4 L476.5,208.1 L477.2,207.8 L477.8,207.5 L478.5,207.3 L479.2,207.0 L479.9,206.7 L480.6,206.4 L481.3,206.1 L482.0,205.8 L482.7,205.5 L483.4,205.3 L484.1,205.0 L484.8,204.7 L485.5,204.4 L486.2,204.1 L486.9,203.8 L487.7,203.6 L488.4,203.3 L489.1,203.0 L489.8,202.7 L490.5,202.4 L491.3,202.1 L492.0,201.9 L492.7,201.6 L493.5,201.3 L494.2,201.0 L494.9,200.7 L495.7,200.4 L496.4,200.1 L497.1,199.9 L497.9,199.6 L498.6,199.3 L499.4,199.0 L500.1,198.7 L500.9,198.4 L501.6,198.2 L502.4,197.9 L503.2,197.6 L503.9,197.3 L504.7,197.0 L505.4,196.7 L506.2,196.5 L507.0,196.2 L507.7,195.9 L508.5,195.6 L509.3,195.3 L510.1,195.0 L510.8,194.7 L511.6,194.5 L512.4,194.2 L513.2,193.9 L514.0,193.6 L514.8,193.3 L515.6,193.0 L516.4,192.8 L517.1,192.5 L517.9,192.2 L518.7,191.9 L519.5,191.6 L520.3,191.3 L521.1,191.1 L522.0,190.8 L522.8,190.5 L523.6,190.2 L524.4,189.9 L525.2,189.6 L526.0,189.3 L526.8,189.1 L527.7,188.8 L528.5,188.5 L529.3,188.2 L530.1,187.9 L531.0,187.6 L531.8,187.4 L532.6,187.1 L533.4,186.8 L534.3,186.5 L535.1,186.2 L536.0,185.9 L536.8,185.7 L537.6,185.4 L538.5,185.1 L539.3,184.8 L540.2,184.5 L541.0,184.2 L541.9,183.9 L542.7,183.7 L543.6,183.4 L544.5,183.1 L545.3,182.8 L546.2,182.5 L547.0,182.2 L547.9,182.0 L548.8,181.7 L549.6,181.4 L550.5,181.1 L551.4,180.8 L552.3,180.5 L553.1,180.3 L554.0,180.0 L554.9,179.7 L555.8,179.4 L556.7,179.1 L557.6,178.8 L558.4,178.5"/>
<path d="M415.1,247.9 L415.4,247.6 L415.8,247.3 L416.1,247.0 L416.5,246.8 L416.9,246.5 L417.2,246.2 L417.6,245.9 L418.0,245.6 L418.3,245.3 L418.7,245.1 L419.1,244.8 L419.5,244.5 L419.8,244.2 L420.2,243.9 L420.6,243.6 L421.0,243.3 L421.4,243.1 L421.8,242.8 L422.2,242.5 L422.6,242.2 L423.0,241.9 L423.4,241.6 L423.8,241.4 L424.2,241.1 L424.6,240.8 L425.1,240.5 L425.5,240.2 L425.9,239.9 L426.3,239.7 L426.8,239.4 L427.2,239.1 L427.6,238.8 L428.0,238.5 L428.5,238.2 L428.9,237.9 L429.4,237.7 L429.8,237.4 L430.3,237.1 L430.7,236.8 L431.2,236.5 L431.6,236.2 L432.1,236.0 L432.5,235.7 L433.0,235.4 L433.5,235.1 L433.9,234.8 L434.4,234.5 L434.9,234.3 L435.3,234.0 L435.8,233.7 L436.3,233.4 L436.8,233.1 L437.3,232.8 L437.8,232.5 L438.2,232.3 L438.7,232.0 L439.2,231.7 L439.7,231.4 L440.2,231.1 L440.7,230.8 L441.2,230.6 L441.7,230.3 L442.2,230.0 L442.8,229.7 L443.3,229.4 L443.8,229.1 L444.3,228.9 L444.8,228.6 L445.3,228.3 L445.9,228.0 L446.4,227.7 L446.9,227.4 L447.5,227.1 L448.0,226.9 L448.5,226.6 L449.1,226.3 L449.6,226.0 L450.2,225.7 L450.7,225.4 L451.3,225.2 L451.8,224.9 L452.4,224.6 L452.9,224.3 L453.5,224.0 L454.0,223.7 L454.6,223.5 L455.2,223.2 L455.7,222.9 L456.3,222.6 L456.9,222.3 L457.4,222.0 L458.0,221.7 L458.6,221.5 L459.2,221.2 L459.8,220.9 L460.4,220.6 L460.9,220.3 L461.5,220.0 L462.1,219.8 L462.7,219.5 L463.3,219.2 L463.9,218.9 L464.5,218.6 L465.1,218.3 L465.7,218.1 L466.3,217.8 L466.9,217.5 L467.6,217.2 L468.2,216.9 L468.8,216.6 L469.4,216.3 L470.0,216.1 L470.7,215.8 L471.3,215.5 L471.9,215.2 L472.5,214.9 L473.2,214.6 L473.8,214.4 L474.4,214.1 L475.1,213.8 L475.7,213.5 L476.4,213.2 L477.0,212.9 L477.7,212.7 L478.3,212.4 L479.0,212.1 L479.6,211.8 L480.3,211.5 L480.9,211.2 L481.6,210.9 L482.3,210.7 L482.9,210.4 L483.6,210.1 L484.3,209.8 L484.9,209.5 L485.6,209.2 L486.3,209.0 L487.0,208.7 L487.7,208.4 L488.3,208.1 L489.0,207.8 L489.7,207.5 L490.4,207.3 L491.1,207.0 L491.8,206.7 L492.5,206.4 L493.2,206.1 L493.9,205.8 L494.6,205.5 L495.3,205.3 L496.0,205.0 L496.7,204.7 L497.4,204.4 L498.1,204.1 L498.8,203.8 L499.6,203.6 L500.3,203.3 L501.0,203.0 L501.7,202.7 L502.4,202.4 L503.2,202.1 L503.9,201.9 L504.6,201.6 L505.4,201.3 L506.1,201.0 L506.8,200.7 L507.6,200.4 L508.3,200.1 L509.1,199.9 L509.8,199.6 L510.6,199.3 L511.3,199.0 L512.1,198.7 L512.8,198.4 L513.6,198.2 L514.3,197.9 L515.1,197.6 L515.8,197.3 L516.6,197.0 L517.4,196.7 L518.1,196.5 L518.9,196.2 L519.7,195.9 L520.5,195.6 L521.2,195.3 L522.0,195.0 L522.8,194.7 L523.6,194.5 L524.4,194.2 L525.1,193.9 L525.9,193.6 L526.7,193.3 L527.5,193.0 L528.3,192.8 L529.1,192.5 L529.9,192.2 L530.7,191.9 L531.5,191.6 L532.3,191.3 L533.1,191.1 L533.9,190.8 L534.7,190.5 L535.5,190.2 L536.4,189.9 L537.2,189.6 L538.0,189.3 L538.8,189.1 L539.6,188.8 L540.5,188.5 L541.3,188.2 L542.1,187.9 L542.9,187.6 L543.8,187.4 L544.6,187.1 L545.4,186.8 L546.3,186.5 L547.1,186.2 L548.0,185.9 L548.8,185.7 L549.6,185.4 L550.5,185.1 L551.3,184.8 L552.2,184.5 L553.0,184.2 L553.9,183.9 L554.7,183.7 L555.6,183.4 L556.5,183.1 L557.3,182.8 L558.2,182.5"/>
<path d="M414.9,259.0 L415.2,258.7 L415.4,258.4 L415.7,258.1 L415.9,257.8 L416.2,257.6 L416.4,257.3 L416.7,257.0 L417.0,256.7 L417.2,256.4 L417.5,256.1 L417.8,255.9 L418.1,255.6 L418.3,255.3 L418.6,255.0 L418.9,254.7 L419.2,254.4 L419.5,254.1 L419.8,253.9 L420.1,253.6 L420.4,253.3 L420.7,253.0 L421.0,252.7 L421.3,252.4 L421.6,252.2 L421.9,251.9 L422.2,251.6 L422.5,251.3 L422.9,251.0 L423.2,250.7 L423.5,250.5 L423.8,250.2 L424.2,249.9 L424.5,249.6 L424.9,249.3 L425.2,249.0 L425.5,248.7 L425.9,248.5 L426.2,248.2 L426.6,247.9 L426.9,247.6 L427.3,247.3 L427.7,247.0 L428.0,246.8 L428.4,246.5 L428.7,246.2 L429.1,245.9 L429.5,245.6 L429.9,245.3 L430.2,245.1 L430.6,244.8 L431.0,244.5 L431.4,244.2 L431.8,243.9 L432.2,243.6 L432.6,243.3 L433.0,243.1 L433.4,242.8 L433.8,242.5 L434.2,242.2 L434.6,241.9 L435.0,241.6 L435.4,241.4 L435.8,241.1 L436.2,240.8 L436.7,240.5 L437.1,240.2 L437.5,239.9 L437.9,239.7 L438.4,239.4 L438.8,239.1 L439.2,238.8 L439.7,238.5 L440.1,238.2 L440.5,237.9 L441.0,237.7 L441.4,237.4 L441.9,237.1 L442.3,236.8 L442.8,236.5 L443.2,236.2 L443.7,236.0 L444.2,235.7 L444.6,235.4 L445.1,235.1 L445.6,234.8 L446.0,234.5 L446.5,234.3 L447.0,234.0 L447.5,233.7 L448.0,233.4 L448.4,233.1 L448.9,232.8 L449.4,232.5 L449.9,232.3 L450.4,232.0 L450.9,231.7 L451.4,231.4 L451.9,231.1 L452.4,230.8 L452.9,230.6 L453.4,230.3 L453.9,230.0 L454.4,229.7 L455.0,229.4 L455.5,229.1 L456.0,228.9 L456.5,228.6 L457.1,228.3 L457.6,228.0 L458.1,227.7 L458.6,227.4 L459.2,227.1 L459.7,226.9 L460.3,226.6 L460.8,226.3 L461.3,226.0 L461.9,225.7 L462.4,225.4 L463.0,225.2 L463.5,224.9 L464.1,224.6 L464.7,224.3 L465.2,224.0 L465.8,223.7 L466.3,223.5 L466.9,223.2 L467.5,222.9 L468.1,222.6 L468.6,222.3 L469.2,222.0 L469.8,221.7 L470.4,221.5 L470.9,221.2 L471.5,220.9 L472.1,220.6 L472.7,220.3 L473.3,220.0 L473.9,219.8 L474.5,219.5 L475.1,219.2 L475.7,218.9 L476.3,218.6 L476.9,218.3 L477.5,218.1 L478.1,217.8 L478.7,217.5 L479.4,217.2 L480.0,216.9 L480.6,216.6 L481.2,216.3 L481.8,216.1 L482.5,215.8 L483.1,215.5 L483.7,215.2 L484.4,214.9 L485.0,214.6 L485.6,214.4 L486.3,214.1 L486.9,213.8 L487.6,213.5 L488.2,213.2 L488.8,212.9 L489.5,212.7 L490.2,212.4 L490.8,212.1 L491.5,211.8 L492.1,211.5 L492.8,211.2 L493.4,210.9 L494.1,210.7 L494.8,210.4 L495.5,210.1 L496.1,209.8 L496.8,209.5 L497.5,209.2 L498.2,209.0 L498.8,208.7 L499.5,208.4 L500.2,208.1 L500.9,207.8 L501.6,207.5 L502.3,207.3 L503.0,207.0 L503.7,206.7 L504.4,206.4 L505.1,206.1 L505.8,205.8 L506.5,205.5 L507.2,205.3 L507.9,205.0 L508.6,204.7 L509.3,204.4 L510.0,204.1 L510.7,203.8 L511.4,203.6 L512.2,203.3 L512.9,203.0 L513.6,202.7 L514.3,202.4 L515.1,202.1 L515.8,201.9 L516.5,201.6 L517.3,201.3 L518.0,201.0 L518.7,200.7 L519.5,200.4 L520.2,200.1 L521.0,199.9 L521.7,199.6 L522.5,199.3 L523.2,199.0 L524.0,198.7 L524.7,198.4 L525.5,198.2 L526.3,197.9 L527.0,197.6 L527.8,197.3 L528.5,197.0 L529.3,196.7 L530.1,196.5 L530.9,196.2 L531.6,195.9 L532.4,195.6 L533.2,195.3 L534.0,195.0 L534.7,194.7 L535.5,194.5 L536.3,194.2 L537.1,193.9 L537.9,193.6 L538.7,193.3 L539.5,193.0 L540.3,192.8 L541.1,192.5 L541.9,192.2 L542.7,191.9 L543.5,191.6 L544.3,191.3 L545.1,191.1 L545.9,190.8 L546.7,190.5 L547.5,190.2 L548.3,189.9 L549.1,189.6 L550.0,189.3 L550.8,189.1 L551.6,188.8 L552.4,188.5 L553.3,188.2 L554.1,187.9 L554.9,187.6 L555.8,187.4 L556.6,187.1 L557.4,186.8 L558.3,186.5"/>
<path d="M416.4,284.8 L416.4,284.6 L416.4,284.3 L416.3,284.0 L416.3,283.7 L416.3,283.4 L416.3,283.1 L416.2,282.9 L416.2,282.6 L416.2,282.3 L416.2,282.0 L416.2,281.7 L416.2,281.4 L416.2,281.1 L416.2,280.9 L416.2,280.6 L416.2,280.3 L416.2,280.0 L416.3,279.7 L416.3,279.4 L416.3,279.2 L416.3,278.9 L416.4,278.6 L416.4,278.3 L416.4,278.0 L416.5,277.7 L416.5,277.5 L416.6,277.2 L416.6,276.9 L416.7,276.6 L416.8,276.3 L416.8,276.0 L416.9,275.7 L416.9,275.5 L417.0,275.2 L417.1,274.9 L417.2,274.6 L417.3,274.3 L417.3,274.0 L417.4,273.8 L417.5,273.5 L417.6,273.2 L417.7,272.9 L417.8,272.6 L417.9,272.3 L418.0,272.1 L418.1,271.8 L418.2,271.5 L418.4,271.2 L418.5,270.9 L418.6,270.6 L418.7,270.3 L418.9,270.1 L419.0,269.8 L419.1,269.5 L419.3,269.2 L419.4,268.9 L419.6,268.6 L419.7,268.4 L419.9,268.1 L420.0,267.8 L420.2,267.5 L420.3,267.2 L420.5,266.9 L420.7,266.7 L420.8,266.4 L421.0,266.1 L421.2,265.8 L421.4,265.5 L421.5,265.2 L421.7,264.9 L421.9,264.7 L422.1,264.4 L422.3,264.1 L422.5,263.8 L422.7,263.5 L422.9,263.2 L423.1,263.0 L423.3,262.7 L423.5,262.4 L423.7,262.1 L423.9,261.8 L424.2,261.5 L424.4,261.3 L424.6,261.0 L424.8,260.7 L425.1,260.4 L425.3,260.1 L425.6,259.8 L425.8,259.5 L426.0,259.3 L426.3,259.0 L426.5,258.7 L426.8,258.4 L427.0,258.1 L427.3,257.8 L427.6,257.6 L427.8,257.3 L428.1,257.0 L428.4,256.7 L428.6,256.4 L428.9,256.1 L429.2,255.9 L429.5,255.6 L429.7,255.3 L430.0,255.0 L430.3,254.7 L430.6,254.4 L430.9,254.1 L431.2,253.9 L431.5,253.6 L431.8,253.3 L432.1,253.0 L432.4,252.7 L432.7,252.4 L433.1,252.2 L433.4,251.9 L433.7,251.6 L434.0,251.3 L434.3,251.0 L434.7,250.7 L435.0,250.5 L435.3,250.2 L435.7,249.9 L436.0,249.6 L436.3,249.3 L436.7,249.0 L437.0,248.7 L437.4,248.5 L437.7,248.2 L438.1,247.9 L438.4,247.6 L438.8,247.3 L439.2,247.0 L439.5,246.8 L439.9,246.5 L440.3,246.2 L440.6,245.9 L441.0,245.6 L441.4,245.3 L441.8,245.1 L442.2,244.8 L442.6,244.5 L442.9,244.2 L443.3,243.9 L443.7,243.6 L444.1,243.3 L444.5,243.1 L444.9,242.8 L445.3,242.5 L445.7,242.2 L446.1,241.9 L446.6,241.6 L447.0,241.4 L447.4,241.1 L447.8,240.8 L448.2,240.5 L448.7,240.2 L449.1,239.9 L449.5,239.7 L450.0,239.4 L450.4,239.1 L450.8,238.8 L451.3,238.5 L451.7,238.2 L452.2,237.9 L452.6,237.7 L453.1,237.4 L453.5,237.1 L454.0,236.8 L454.4,236.5 L454.9,236.2 L455.3,236.0 L455.8,235.7 L456.3,235.4 L456.7,235.1 L457.2,234.8 L457.7,234.5 L458.2,234.3 L458.6,234.0 L459.1,233.7 L459.6,233.4 L460.1,233.1 L460.6,232.8 L461.1,232.5 L461.6,232.3 L462.1,232.0 L462.6,231.7 L463.1,231.4 L463.6,231.1 L464.1,230.8 L464.6,230.6 L465.1,230.3 L465.6,230.0 L466.1,229.7 L466.7,229.4 L467.2,229.1 L467.7,228.9 L468.2,228.6 L468.8,228.3 L469.3,228.0 L469.8,227.7 L470.4,227.4 L470.9,227.1 L471.4,226.9 L472.0,226.6 L472.5,226.3 L473.1,226.0 L473.6,225.7 L474.2,225.4 L474.7,225.2 L475.3,224.9 L475.8,224.6 L476.4,224.3 L477.0,224.0 L477.5,223.7 L478.1,223.5 L478.7,223.2 L479.2,222.9 L479.8,222.6 L480.4,222.3 L481.0,222.0 L481.5,221.7 L482.1,221.5 L482.7,221.2 L483.3,220.9 L483.9,220.6 L484.5,220.3 L485.1,220.0 L485.7,219.8 L486.3,219.5 L486.9,219.2 L487.5,218.9 L488.1,218.6 L488.7,218.3 L489.3,218.1 L489.9,217.8 L490.5,217.5 L491.2,217.2 L491.8,216.9 L492.4,216.6 L493.0,216.3 L493.6,216.1 L494.3,215.8 L494.9,215.5 L495.5,215.2 L496.2,214.9 L496.8,214.6 L497.4,214.4 L498.1,214.1 L498.7,213.8 L499.4,213.5 L500.0,213.2 L500.7,212.9 L501.3,212.7 L502.0,212.4 L502.6,212.1 L503.3,211.8 L504.0,211.5 L504.6,211.2 L505.3,210.9 L506.0,210.7 L506.6,210.4 L507.3,210.1 L508.0,209.8 L508.6,209.5 L509.3,209.2 L510.0,209.0 L510.7,208.7 L511.4,208.4 L512.1,208.1 L512.7,207.8 L513.4,207.5 L514.1,207.3 L514.8,207.0 L515.5,206.7 L516.2,206.4 L516.9,206.1 L517.6,205.8 L518.3,205.5 L519.0,205.3 L519.8,205.0 L520.5,204.7 L521.2,204.4 L521.9,204.1 L522.6,203.8 L523.3,203.6 L524.1,203.3 L524.8,203.0 L525.5,202.7 L526.2,202.4 L527.0,202.1 L527.7,201.9 L528.4,201.6 L529.2,201.3 L529.9,201.0 L530.7,200.7 L531.4,200.4 L532.1,200.1 L532.9,199.9 L533.6,199.6 L534.4,199.3 L535.1,199.0 L535.9,198.7 L536.7,198.4 L537.4,198.2 L538.2,197.9 L538.9,197.6 L539.7,197.3 L540.5,197.0 L541.2,196.7 L542.0,196.5 L542.8,196.2 L543.6,195.9 L544.3,195.6 L545.1,195.3 L545.9,195.0 L546.7,194.7 L547.5,194.5 L548.3,194.2 L549.0,193.9 L549.8,193.6 L550.6,193.3 L551.4,193.0 L552.2,192.8 L553.0,192.5 L553.8,192.2 L554.6,191.9 L555.4,191.6 L556.2,191.3 L557.0,191.1 L557.9,190.8 L558.7,190.5"/>
<path d="M427.4,284.8 L427.4,284.6 L427.3,284.3 L427.3,284.0 L427.3,283.7 L427.3,283.4 L427.2,283.1 L427.2,282.9 L427.2,282.6 L427.2,282.3 L427.2,282.0 L427.2,281.7 L427.2,281.4 L427.2,281.1 L427.2,280.9 L427.3,280.6 L427.3,280.3 L427.3,280.0 L427.3,279.7 L427.3,279.4 L427.4,279.2 L427.4,278.9 L427.4,278.6 L427.5,278.3 L427.5,278.0 L427.6,277.7 L427.6,277.5 L427.7,277.2 L427.7,276.9 L427.8,276.6 L427.9,276.3 L427.9,276.0 L428.0,275.7 L428.1,275.5 L428.1,275.2 L428.2,274.9 L428.3,274.6 L428.4,274.3 L428.5,274.0 L428.6,273.8 L428.7,273.5 L428.8,273.2 L428.9,272.9 L429.0,272.6 L429.1,272.3 L429.2,272.1 L429.3,271.8 L429.4,271.5 L429.6,271.2 L429.7,270.9 L429.8,270.6 L429.9,270.3 L430.1,270.1 L430.2,269.8 L430.4,269.5 L430.5,269.2 L430.6,268.9 L430.8,268.6 L430.9,268.4 L431.1,268.1 L431.3,267.8 L431.4,267.5 L431.6,267.2 L431.7,266.9 L431.9,266.7 L432.1,266.4 L432.3,266.1 L432.4,265.8 L432.6,265.5 L432.8,265.2 L433.0,264.9 L433.2,264.7 L433.4,264.4 L433.6,264.1 L433.8,263.8 L434.0,263.5 L434.2,263.2 L434.4,263.0 L434.6,262.7 L434.8,262.4 L435.1,262.1 L435.3,261.8 L435.5,261.5 L435.7,261.3 L436.0,261.0 L436.2,260.7 L436.4,260.4 L436.7,260.1 L436.9,259.8 L437.2,259.5 L437.4,259.3 L437.6,259.0 L437.9,258.7 L438.2,258.4 L438.4,258.1 L438.7,257.8 L438.9,257.6 L439.2,257.3 L439.5,257.0 L439.8,256.7 L440.0,256.4 L440.3,256.1 L440.6,255.9 L440.9,255.6 L441.2,255.3 L441.5,255.0 L441.7,254.7 L442.0,254.4 L442.3,254.1 L442.6,253.9 L442.9,253.6 L443.2,253.3 L443.6,253.0 L443.9,252.7 L444.2,252.4 L444.5,252.2 L444.8,251.9 L445.1,251.6 L445.5,251.3 L445.8,251.0 L446.1,250.7 L446.5,250.5 L446.8,250.2 L447.1,249.9 L447.5,249.6 L447.8,249.3 L448.2,249.0 L448.5,248.7 L448.9,248.5 L449.2,248.2 L449.6,247.9 L450.0,247.6 L450.3,247.3 L450.7,247.0 L451.0,246.8 L451.4,246.5 L451.8,246.2 L452.2,245.9 L452.5,245.6 L452.9,245.3 L453.3,245.1 L453.7,244.8 L454.1,244.5 L454.5,244.2 L454.9,243.9 L455.3,243.6 L455.7,243.3 L456.1,243.1 L456.5,242.8 L456.9,242.5 L457.3,242.2 L457.7,241.9 L458.1,241.6 L458.5,241.4 L459.0,241.1 L459.4,240.8 L459.8,240.5 L460.2,240.2 L460.7,239.9 L461.1,239.7 L461.5,239.4 L462.0,239.1 L462.4,238.8 L462.9,238.5 L463.3,238.2 L463.8,237.9 L464.2,237.7 L464.7,237.4 L465.1,237.1 L465.6,236.8 L466.0,236.5 L466.5,236.2 L467.0,236.0 L467.4,235.7 L467.9,235.4 L468.4,235.1 L468.9,234.8 L469.3,234.5 L469.8,234.3 L470.3,234.0 L470.8,233.7 L471.3,233.4 L471.8,233.1 L472.2,232.8 L472.7,232.5 L473.2,232.3 L473.7,232.0 L474.2,231.7 L474.7,231.4 L475.3,231.1 L475.8,230.8 L476.3,230.6 L476.8,230.3 L477.3,230.0 L477.8,229.7 L478.3,229.4 L478.9,229.1 L479.4,228.9 L479.9,228.6 L480.5,228.3 L481.0,228.0 L481.5,227.7 L482.1,227.4 L482.6,227.1 L483.1,226.9 L483.7,226.6 L484.2,226.3 L484.8,226.0 L485.3,225.7 L485.9,225.4 L486.4,225.2 L487.0,224.9 L487.6,224.6 L488.1,224.3 L488.7,224.0 L489.3,223.7 L489.8,223.5 L490.4,223.2 L491.0,222.9 L491.6,222.6 L492.1,222.3 L492.7,222.0 L493.3,221.7 L493.9,221.5 L494.5,221.2 L495.1,220.9 L495.7,220.6 L496.2,220.3 L496.8,220.0 L497.4,219.8 L498.0,219.5 L498.7,219.2 L499.3,218.9 L499.9,218.6 L500.5,218.3 L501.1,218.1 L501.7,217.8 L502.3,217.5 L502.9,217.2 L503.6,216.9 L504.2,216.6 L504.8,216.3 L505.4,216.1 L506.1,215.8 L506.7,215.5 L507.3,215.2 L508.0,214.9 L508.6,214.6 L509.3,214.4 L509.9,214.1 L510.5,213.8 L511.2,213.5 L511.8,213.2 L512.5,212.9 L513.2,212.7 L513.8,212.4 L514.5,212.1 L515.1,211.8 L515.8,211.5 L516.5,211.2 L517.1,210.9 L517.8,210.7 L518.5,210.4 L519.1,210.1 L519.8,209.8 L520.5,209.5 L521.2,209.2 L521.9,209.0 L522.5,208.7 L523.2,208.4 L523.9,208.1 L524.6,207.8 L525.3,207.5 L526.0,207.3 L526.7,207.0 L527.4,206.7 L528.1,206.4 L528.8,206.1 L529.5,205.8 L530.2,205.5 L530.9,205.3 L531.6,205.0 L532.3,204.7 L533.1,204.4 L533.8,204.1 L534.5,203.8 L535.2,203.6 L535.9,203.3 L536.7,203.0 L537.4,202.7 L538.1,202.4 L538.9,202.1 L539.6,201.9 L540.3,201.6 L541.1,201.3 L541.8,201.0 L542.6,200.7 L543.3,200.4 L544.0,200.1 L544.8,199.9 L545.5,199.6 L546.3,199.3 L547.1,199.0 L547.8,198.7 L548.6,198.4 L549.3,198.2 L550.1,197.9 L550.9,197.6 L551.6,197.3 L552.4,197.0 L553.2,196.7 L553.9,196.5 L554.7,196.2 L555.5,195.9 L556.3,195.6 L557.0,195.3 L557.8,195.0 L558.6,194.7"/>
<path d="M438.4,284.8 L438.3,284.6 L438.3,284.3 L438.3,284.0 L438.3,283.7 L438.3,283.4 L438.2,283.1 L438.2,282.9 L438.2,282.6 L438.2,282.3 L438.2,282.0 L438.2,281.7 L438.2,281.4 L438.3,281.1 L438.3,280.9 L438.3,280.6 L438.3,280.3 L438.3,280.0 L438.4,279.7 L438.4,279.4 L438.4,279.2 L438.5,278.9 L438.5,278.6 L438.6,278.3 L438.6,278.0 L438.7,277.7 L438.7,277.5 L438.8,277.2 L438.8,276.9 L438.9,276.6 L439.0,276.3 L439.0,276.0 L439.1,275.7 L439.2,275.5 L439.3,275.2 L439.4,274.9 L439.4,274.6 L439.5,274.3 L439.6,274.0 L439.7,273.8 L439.8,273.5 L439.9,273.2 L440.0,272.9 L440.2,272.6 L440.3,272.3 L440.4,272.1 L440.5,271.8 L440.6,271.5 L440.7,271.2 L440.9,270.9 L441.0,270.6 L441.1,270.3 L441.3,270.1 L441.4,269.8 L441.6,269.5 L441.7,269.2 L441.9,268.9 L442.0,268.6 L442.2,268.4 L442.3,268.1 L442.5,267.8 L442.7,267.5 L442.8,267.2 L443.0,266.9 L443.2,266.7 L443.4,266.4 L443.5,266.1 L443.7,265.8 L443.9,265.5 L444.1,265.2 L444.3,264.9 L444.5,264.7 L444.7,264.4 L444.9,264.1 L445.1,263.8 L445.3,263.5 L445.5,263.2 L445.7,263.0 L445.9,262.7 L446.2,262.4 L446.4,262.1 L446.6,261.8 L446.8,261.5 L447.1,261.3 L447.3,261.0 L447.5,260.7 L447.8,260.4 L448.0,260.1 L448.3,259.8 L448.5,259.5 L448.8,259.3 L449.0,259.0 L449.3,258.7 L449.5,258.4 L449.8,258.1 L450.1,257.8 L450.3,257.6 L450.6,257.3 L450.9,257.0 L451.1,256.7 L451.4,256.4 L451.7,256.1 L452.0,255.9 L452.3,255.6 L452.6,255.3 L452.9,255.0 L453.2,254.7 L453.5,254.4 L453.8,254.1 L454.1,253.9 L454.4,253.6 L454.7,253.3 L455.0,253.0 L455.3,252.7 L455.6,252.4 L455.9,252.2 L456.3,251.9 L456.6,251.6 L456.9,251.3 L457.3,251.0 L457.6,250.7 L457.9,250.5 L458.3,250.2 L458.6,249.9 L459.0,249.6 L459.3,249.3 L459.7,249.0 L460.0,248.7 L460.4,248.5 L460.7,248.2 L461.1,247.9 L461.5,247.6 L461.8,247.3 L462.2,247.0 L462.6,246.8 L462.9,246.5 L463.3,246.2 L463.7,245.9 L464.1,245.6 L464.5,245.3 L464.8,245.1 L465.2,244.8 L465.6,244.5 L466.0,244.2 L466.4,243.9 L466.8,243.6 L467.2,243.3 L467.6,243.1 L468.0,242.8 L468.5,242.5 L468.9,242.2 L469.3,241.9 L469.7,241.6 L470.1,241.4 L470.5,241.1 L471.0,240.8 L471.4,240.5 L471.8,240.2 L472.3,239.9 L472.7,239.7 L473.1,239.4 L473.6,239.1 L474.0,238.8 L474.5,238.5 L474.9,238.2 L475.4,237.9 L475.8,237.7 L476.3,237.4 L476.7,237.1 L477.2,236.8 L477.7,236.5 L478.1,236.2 L478.6,236.0 L479.1,235.7 L479.5,235.4 L480.0,235.1 L480.5,234.8 L481.0,234.5 L481.5,234.3 L481.9,234.0 L482.4,233.7 L482.9,233.4 L483.4,233.1 L483.9,232.8 L484.4,232.5 L484.9,232.3 L485.4,232.0 L485.9,231.7 L486.4,231.4 L486.9,231.1 L487.4,230.8 L488.0,230.6 L488.5,230.3 L489.0,230.0 L489.5,229.7 L490.0,229.4 L490.6,229.1 L491.1,228.9 L491.6,228.6 L492.1,228.3 L492.7,228.0 L493.2,227.7 L493.8,227.4 L494.3,227.1 L494.8,226.9 L495.4,226.6 L495.9,226.3 L496.5,226.0 L497.1,225.7 L497.6,225.4 L498.2,225.2 L498.7,224.9 L499.3,224.6 L499.9,224.3 L500.4,224.0 L501.0,223.7 L501.6,223.5 L502.1,223.2 L502.7,222.9 L503.3,222.6 L503.9,222.3 L504.5,222.0 L505.0,221.7 L505.6,221.5 L506.2,221.2 L506.8,220.9 L507.4,220.6 L508.0,220.3 L508.6,220.0 L509.2,219.8 L509.8,219.5 L510.4,219.2 L511.0,218.9 L511.6,218.6 L512.3,218.3 L512.9,218.1 L513.5,217.8 L514.1,217.5 L514.7,217.2 L515.3,216.9 L516.0,216.6 L516.6,216.3 L517.2,216.1 L517.9,215.8 L518.5,215.5 L519.1,215.2 L519.8,214.9 L520.4,214.6 L521.1,214.4 L521.7,214.1 L522.4,213.8 L523.0,213.5 L523.7,213.2 L524.3,212.9 L525.0,212.7 L525.6,212.4 L526.3,212.1 L527.0,211.8 L527.6,211.5 L528.3,211.2 L529.0,210.9 L529.6,210.7 L530.3,210.4 L531.0,210.1 L531.7,209.8 L532.3,209.5 L533.0,209.2 L533.7,209.0 L534.4,208.7 L535.1,208.4 L535.8,208.1 L536.5,207.8 L537.2,207.5 L537.8,207.3 L538.5,207.0 L539.2,206.7 L540.0,206.4 L540.7,206.1 L541.4,205.8 L542.1,205.5 L542.8,205.3 L543.5,205.0 L544.2,204.7 L544.9,204.4 L545.7,204.1 L546.4,203.8 L547.1,203.6 L547.8,203.3 L548.6,203.0 L549.3,202.7 L550.0,202.4 L550.7,202.1 L551.5,201.9 L552.2,201.6 L553.0,201.3 L553.7,201.0 L554.5,200.7 L555.2,200.4 L555.9,200.1 L556.7,199.9 L557.4,199.6 L558.2,199.3"/>
<path d="M449.3,284.8 L449.3,284.6 L449.3,284.3 L449.3,284.0 L449.3,283.7 L449.2,283.4 L449.2,283.1 L449.2,282.9 L449.2,282.6 L449.2,282.3 L449.2,282.0 L449.3,281.7 L449.3,281.4 L449.3,281.1 L449.3,280.9 L449.3,280.6 L449.4,280.3 L449.4,280.0 L449.4,279.7 L449.5,279.4 L449.5,279.2 L449.5,278.9 L449.6,278.6 L449.6,278.3 L449.7,278.0 L449.7,277.7 L449.8,277.5 L449.9,277.2 L449.9,276.9 L450.0,276.6 L450.1,276.3 L450.2,276.0 L450.2,275.7 L450.3,275.5 L450.4,275.2 L450.5,274.9 L450.6,274.6 L450.7,274.3 L450.8,274.0 L450.9,273.8 L451.0,273.5 L451.1,273.2 L451.2,272.9 L451.3,272.6 L451.4,272.3 L451.6,272.1 L451.7,271.8 L451.8,271.5 L451.9,271.2 L452.1,270.9 L452.2,270.6 L452.3,270.3 L452.5,270.1 L452.6,269.8 L452.8,269.5 L452.9,269.2 L453.1,268.9 L453.2,268.6 L453.4,268.4 L453.6,268.1 L453.7,267.8 L453.9,267.5 L454.1,267.2 L454.3,266.9 L454.4,266.7 L454.6,266.4 L454.8,266.1 L455.0,265.8 L455.2,265.5 L455.4,265.2 L455.6,264.9 L455.8,264.7 L456.0,264.4 L456.2,264.1 L456.4,263.8 L456.6,263.5 L456.8,263.2 L457.0,263.0 L457.2,262.7 L457.5,262.4 L457.7,262.1 L457.9,261.8 L458.2,261.5 L458.4,261.3 L458.6,261.0 L458.9,260.7 L459.1,260.4 L459.4,260.1 L459.6,259.8 L459.9,259.5 L460.1,259.3 L460.4,259.0 L460.6,258.7 L460.9,258.4 L461.2,258.1 L461.4,257.8 L461.7,257.6 L462.0,257.3 L462.3,257.0 L462.5,256.7 L462.8,256.4 L463.1,256.1 L463.4,255.9 L463.7,255.6 L464.0,255.3 L464.3,255.0 L464.6,254.7 L464.9,254.4 L465.2,254.1 L465.5,253.9 L465.8,253.6 L466.1,253.3 L466.4,253.0 L466.7,252.7 L467.1,252.4 L467.4,252.2 L467.7,251.9 L468.1,251.6 L468.4,251.3 L468.7,251.0 L469.1,250.7 L469.4,250.5 L469.7,250.2 L470.1,249.9 L470.4,249.6 L470.8,249.3 L471.1,249.0 L471.5,248.7 L471.9,248.5 L472.2,248.2 L472.6,247.9 L473.0,247.6 L473.3,247.3 L473.7,247.0 L474.1,246.8 L474.4,246.5 L474.8,246.2 L475.2,245.9 L475.6,245.6 L476.0,245.3 L476.4,245.1 L476.8,244.8 L477.2,244.5 L477.6,244.2 L478.0,243.9 L478.4,243.6 L478.8,243.3 L479.2,243.1 L479.6,242.8 L480.0,242.5 L480.4,242.2 L480.8,241.9 L481.3,241.6 L481.7,241.4 L482.1,241.1 L482.5,240.8 L483.0,240.5 L483.4,240.2 L483.8,239.9 L484.3,239.7 L484.7,239.4 L485.2,239.1 L485.6,238.8 L486.1,238.5 L486.5,238.2 L487.0,237.9 L487.4,237.7 L487.9,237.4 L488.3,237.1 L488.8,236.8 L489.3,236.5 L489.7,236.2 L490.2,236.0 L490.7,235.7 L491.2,235.4 L491.6,235.1 L492.1,234.8 L492.6,234.5 L493.1,234.3 L493.6,234.0 L494.1,233.7 L494.6,233.4 L495.1,233.1 L495.6,232.8 L496.1,232.5 L496.6,232.3 L497.1,232.0 L497.6,231.7 L498.1,231.4 L498.6,231.1 L499.1,230.8 L499.6,230.6 L500.1,230.3 L500.7,230.0 L501.2,229.7 L501.7,229.4 L502.2,229.1 L502.8,228.9 L503.3,228.6 L503.8,228.3 L504.4,228.0 L504.9,227.7 L505.5,227.4 L506.0,227.1 L506.6,226.9 L507.1,226.6 L507.7,226.3 L508.2,226.0 L508.8,225.7 L509.3,225.4 L509.9,225.2 L510.4,224.9 L511.0,224.6 L511.6,224.3 L512.1,224.0 L512.7,223.7 L513.3,223.5 L513.9,223.2 L514.5,222.9 L515.0,222.6 L515.6,222.3 L516.2,222.0 L516.8,221.7 L517.4,221.5 L518.0,221.2 L518.6,220.9 L519.2,220.6 L519.8,220.3 L520.4,220.0 L521.0,219.8 L521.6,219.5 L522.2,219.2 L522.8,218.9 L523.4,218.6 L524.0,218.3 L524.6,218.1 L525.3,217.8 L525.9,217.5 L526.5,217.2 L527.1,216.9 L527.8,216.6 L528.4,216.3 L529.0,216.1 L529.7,215.8 L530.3,215.5 L530.9,215.2 L531.6,214.9 L532.2,214.6 L532.9,214.4 L533.5,214.1 L534.2,213.8 L534.8,213.5 L535.5,213.2 L536.1,212.9 L536.8,212.7 L537.4,212.4 L538.1,212.1 L538.8,211.8 L539.4,211.5 L540.1,211.2 L540.8,210.9 L541.5,210.7 L542.1,210.4 L542.8,210.1 L543.5,209.8 L544.2,209.5 L544.9,209.2 L545.5,209.0 L546.2,208.7 L546.9,208.4 L547.6,208.1 L548.3,207.8 L549.0,207.5 L549.7,207.3 L550.4,207.0 L551.1,206.7 L551.8,206.4 L552.5,206.1 L553.2,205.8 L553.9,205.5 L554.6,205.3 L555.4,205.0 L556.1,204.7 L556.8,204.4 L557.5,204.1 L558.2,203.8"/>
<path d="M460.3,284.8 L460.3,284.6 L460.3,284.3 L460.2,284.0 L460.2,283.7 L460.2,283.4 L460.2,283.1 L460.2,282.9 L460.2,282.6 L460.2,282.3 L460.3,282.0 L460.3,281.7 L460.3,281.4 L460.3,281.1 L460.3,280.9 L460.4,280.6 L460.4,280.3 L460.4,280.0 L460.5,279.7 L460.5,279.4 L460.6,279.2 L460.6,278.9 L460.7,278.6 L460.7,278.3 L460.8,278.0 L460.8,277.7 L460.9,277.5 L461.0,277.2 L461.0,276.9 L461.1,276.6 L461.2,276.3 L461.3,276.0 L461.3,275.7 L461.4,275.5 L461.5,275.2 L461.6,274.9 L461.7,274.6 L461.8,274.3 L461.9,274.0 L462.0,273.8 L462.1,273.5 L462.2,273.2 L462.4,272.9 L462.5,272.6 L462.6,272.3 L462.7,272.1 L462.9,271.8 L463.0,271.5 L463.1,271.2 L463.3,270.9 L463.4,270.6 L463.5,270.3 L463.7,270.1 L463.8,269.8 L464.0,269.5 L464.1,269.2 L464.3,268.9 L464.5,268.6 L464.6,268.4 L464.8,268.1 L465.0,267.8 L465.1,267.5 L465.3,267.2 L465.5,266.9 L465.7,266.7 L465.9,266.4 L466.1,266.1 L466.2,265.8 L466.4,265.5 L466.6,265.2 L466.8,264.9 L467.0,264.7 L467.3,264.4 L467.5,264.1 L467.7,263.8 L467.9,263.5 L468.1,263.2 L468.3,263.0 L468.6,262.7 L468.8,262.4 L469.0,262.1 L469.2,261.8 L469.5,261.5 L469.7,261.3 L470.0,261.0 L470.2,260.7 L470.4,260.4 L470.7,260.1 L471.0,259.8 L471.2,259.5 L471.5,259.3 L471.7,259.0 L472.0,258.7 L472.3,258.4 L472.5,258.1 L472.8,257.8 L473.1,257.6 L473.4,257.3 L473.6,257.0 L473.9,256.7 L474.2,256.4 L474.5,256.1 L474.8,255.9 L475.1,255.6 L475.4,255.3 L475.7,255.0 L476.0,254.7 L476.3,254.4 L476.6,254.1 L476.9,253.9 L477.2,253.6 L477.5,253.3 L477.9,253.0 L478.2,252.7 L478.5,252.4 L478.8,252.2 L479.2,251.9 L479.5,251.6 L479.8,251.3 L480.2,251.0 L480.5,250.7 L480.9,250.5 L481.2,250.2 L481.6,249.9 L481.9,249.6 L482.3,249.3 L482.6,249.0 L483.0,248.7 L483.3,248.5 L483.7,248.2 L484.1,247.9 L484.4,247.6 L484.8,247.3 L485.2,247.0 L485.6,246.8 L486.0,246.5 L486.3,246.2 L486.7,245.9 L487.1,245.6 L487.5,245.3 L487.9,245.1 L488.3,244.8 L488.7,244.5 L489.1,244.2 L489.5,243.9 L489.9,243.6 L490.3,243.3 L490.7,243.1 L491.1,242.8 L491.6,242.5 L492.0,242.2 L492.4,241.9 L492.8,241.6 L493.2,241.4 L493.7,241.1 L494.1,240.8 L494.5,240.5 L495.0,240.2 L495.4,239.9 L495.9,239.7 L496.3,239.4 L496.8,239.1 L497.2,238.8 L497.7,238.5 L498.1,238.2 L498.6,237.9 L499.0,237.7 L499.5,237.4 L499.9,237.1 L500.4,236.8 L500.9,236.5 L501.4,236.2 L501.8,236.0 L502.3,235.7 L502.8,235.4 L503.3,235.1 L503.7,234.8 L504.2,234.5 L504.7,234.3 L505.2,234.0 L505.7,233.7 L506.2,233.4 L506.7,233.1 L507.2,232.8 L507.7,232.5 L508.2,232.3 L508.7,232.0 L509.2,231.7 L509.7,231.4 L510.3,231.1 L510.8,230.8 L511.3,230.6 L511.8,230.3 L512.3,230.0 L512.9,229.7 L513.4,229.4 L513.9,229.1 L514.5,228.9 L515.0,228.6 L515.5,228.3 L516.1,228.0 L516.6,227.7 L517.2,227.4 L517.7,227.1 L518.3,226.9 L518.8,226.6 L519.4,226.3 L519.9,226.0 L520.5,225.7 L521.0,225.4 L521.6,225.2 L522.2,224.9 L522.7,224.6 L523.3,224.3 L523.9,224.0 L524.4,223.7 L525.0,223.5 L525.6,223.2 L526.2,222.9 L526.8,222.6 L527.4,222.3 L527.9,222.0 L528.5,221.7 L529.1,221.5 L529.7,221.2 L530.3,220.9 L530.9,220.6 L531.5,220.3 L532.1,220.0 L532.7,219.8 L533.3,219.5 L533.9,219.2 L534.6,218.9 L535.2,218.6 L535.8,218.3 L536.4,218.1 L537.0,217.8 L537.7,217.5 L538.3,217.2 L538.9,216.9 L539.5,216.6 L540.2,216.3 L540.8,216.1 L541.4,215.8 L542.1,215.5 L542.7,215.2 L543.4,214.9 L544.0,214.6 L544.7,214.4 L545.3,214.1 L546.0,213.8 L546.6,213.5 L547.3,213.2 L547.9,212.9 L548.6,212.7 L549.3,212.4 L549.9,212.1 L550.6,211.8 L551.3,211.5 L551.9,211.2 L552.6,210.9 L553.3,210.7 L554.0,210.4 L554.6,210.1 L555.3,209.8 L556.0,209.5 L556.7,209.2 L557.4,209.0 L558.1,208.7 L558.8,208.4"/>
<path d="M471.2,284.8 L471.2,284.6 L471.2,284.3 L471.2,284.0 L471.2,283.7 L471.2,283.4 L471.2,283.1 L471.2,282.9 L471.2,282.6 L471.2,282.3 L471.3,282.0 L471.3,281.7 L471.3,281.4 L471.3,281.1 L471.4,280.9 L471.4,280.6 L471.4,280.3 L471.5,280.0 L471.5,279.7 L471.6,279.4 L471.6,279.2 L471.7,278.9 L471.7,278.6 L471.8,278.3 L471.8,278.0 L471.9,277.7 L472.0,277.5 L472.1,277.2 L472.1,276.9 L472.2,276.6 L472.3,276.3 L472.4,276.0 L472.5,275.7 L472.6,275.5 L472.6,275.2 L472.7,274.9 L472.8,274.6 L473.0,274.3 L473.1,274.0 L473.2,273.8 L473.3,273.5 L473.4,273.2 L473.5,272.9 L473.6,272.6 L473.8,272.3 L473.9,272.1 L474.0,271.8 L474.2,271.5 L474.3,271.2 L474.4,270.9 L474.6,270.6 L474.7,270.3 L474.9,270.1 L475.0,269.8 L475.2,269.5 L475.4,269.2 L475.5,268.9 L475.7,268.6 L475.9,268.4 L476.0,268.1 L476.2,267.8 L476.4,267.5 L476.6,267.2 L476.7,266.9 L476.9,266.7 L477.1,266.4 L477.3,266.1 L477.5,265.8 L477.7,265.5 L477.9,265.2 L478.1,264.9 L478.3,264.7 L478.5,264.4 L478.7,264.1 L479.0,263.8 L479.2,263.5 L479.4,263.2 L479.6,263.0 L479.9,262.7 L480.1,262.4 L480.3,262.1 L480.6,261.8 L480.8,261.5 L481.0,261.3 L481.3,261.0 L481.5,260.7 L481.8,260.4 L482.0,260.1 L482.3,259.8 L482.6,259.5 L482.8,259.3 L483.1,259.0 L483.4,258.7 L483.6,258.4 L483.9,258.1 L484.2,257.8 L484.5,257.6 L484.7,257.3 L485.0,257.0 L485.3,256.7 L485.6,256.4 L485.9,256.1 L486.2,255.9 L486.5,255.6 L486.8,255.3 L487.1,255.0 L487.4,254.7 L487.7,254.4 L488.0,254.1 L488.3,253.9 L488.6,253.6 L489.0,253.3 L489.3,253.0 L489.6,252.7 L489.9,252.4 L490.3,252.2 L490.6,251.9 L490.9,251.6 L491.3,251.3 L491.6,251.0 L492.0,250.7 L492.3,250.5 L492.7,250.2 L493.0,249.9 L493.4,249.6 L493.7,249.3 L494.1,249.0 L494.5,248.7 L494.8,248.5 L495.2,248.2 L495.6,247.9 L495.9,247.6 L496.3,247.3 L496.7,247.0 L497.1,246.8 L497.5,246.5 L497.8,246.2 L498.2,245.9 L498.6,245.6 L499.0,245.3 L499.4,245.1 L499.8,244.8 L500.2,244.5 L500.6,244.2 L501.0,243.9 L501.4,243.6 L501.9,243.3 L502.3,243.1 L502.7,242.8 L503.1,242.5 L503.5,242.2 L504.0,241.9 L504.4,241.6 L504.8,241.4 L505.2,241.1 L505.7,240.8 L506.1,240.5 L506.6,240.2 L507.0,239.9 L507.4,239.7 L507.9,239.4 L508.3,239.1 L508.8,238.8 L509.2,238.5 L509.7,238.2 L510.2,237.9 L510.6,237.7 L511.1,237.4 L511.6,237.1 L512.0,236.8 L512.5,236.5 L513.0,236.2 L513.4,236.0 L513.9,235.7 L514.4,235.4 L514.9,235.1 L515.4,234.8 L515.9,234.5 L516.4,234.3 L516.8,234.0 L517.3,233.7 L517.8,233.4 L518.3,233.1 L518.8,232.8 L519.3,232.5 L519.9,232.3 L520.4,232.0 L520.9,231.7 L521.4,231.4 L521.9,231.1 L522.4,230.8 L523.0,230.6 L523.5,230.3 L524.0,230.0 L524.5,229.7 L525.1,229.4 L525.6,229.1 L526.1,228.9 L526.7,228.6 L527.2,228.3 L527.8,228.0 L528.3,227.7 L528.8,227.4 L529.4,227.1 L529.9,226.9 L530.5,226.6 L531.1,226.3 L531.6,226.0 L532.2,225.7 L532.7,225.4 L533.3,225.2 L533.9,224.9 L534.4,224.6 L535.0,224.3 L535.6,224.0 L536.2,223.7 L536.7,223.5 L537.3,223.2 L537.9,222.9 L538.5,222.6 L539.1,222.3 L539.7,222.0 L540.3,221.7 L540.9,221.5 L541.5,221.2 L542.1,220.9 L542.7,220.6 L543.3,220.3 L543.9,220.0 L544.5,219.8 L545.1,219.5 L545.7,219.2 L546.3,218.9 L546.9,218.6 L547.6,218.3 L548.2,218.1 L548.8,217.8 L549.4,217.5 L550.1,217.2 L550.7,216.9 L551.3,216.6 L552.0,216.3 L552.6,216.1 L553.2,215.8 L553.9,215.5 L554.5,215.2 L555.2,214.9 L555.8,214.6 L556.5,214.4 L557.1,214.1 L557.8,213.8 L558.4,213.5"/>
<path d="M482.2,284.8 L482.2,284.6 L482.2,284.3 L482.2,284.0 L482.2,283.7 L482.2,283.4 L482.2,283.1 L482.2,282.9 L482.2,282.6 L482.3,282.3 L482.3,282.0 L482.3,281.7 L482.3,281.4 L482.4,281.1 L482.4,280.9 L482.4,280.6 L482.5,280.3 L482.5,280.0 L482.6,279.7 L482.6,279.4 L482.7,279.2 L482.7,278.9 L482.8,278.6 L482.9,278.3 L482.9,278.0 L483.0,277.7 L483.1,277.5 L483.1,277.2 L483.2,276.9 L483.3,276.6 L483.4,276.3 L483.5,276.0 L483.6,275.7 L483.7,275.5 L483.8,275.2 L483.9,274.9 L484.0,274.6 L484.1,274.3 L484.2,274.0 L484.3,273.8 L484.4,273.5 L484.6,273.2 L484.7,272.9 L484.8,272.6 L484.9,272.3 L485.1,272.1 L485.2,271.8 L485.3,271.5 L485.5,271.2 L485.6,270.9 L485.8,270.6 L485.9,270.3 L486.1,270.1 L486.2,269.8 L486.4,269.5 L486.6,269.2 L486.7,268.9 L486.9,268.6 L487.1,268.4 L487.3,268.1 L487.4,267.8 L487.6,267.5 L487.8,267.2 L488.0,266.9 L488.2,266.7 L488.4,266.4 L488.6,266.1 L488.8,265.8 L489.0,265.5 L489.2,265.2 L489.4,264.9 L489.6,264.7 L489.8,264.4 L490.0,264.1 L490.3,263.8 L490.5,263.5 L490.7,263.2 L490.9,263.0 L491.2,262.7 L491.4,262.4 L491.6,262.1 L491.9,261.8 L492.1,261.5 L492.4,261.3 L492.6,261.0 L492.9,260.7 L493.1,260.4 L493.4,260.1 L493.6,259.8 L493.9,259.5 L494.2,259.3 L494.4,259.0 L494.7,258.7 L495.0,258.4 L495.3,258.1 L495.5,257.8 L495.8,257.6 L496.1,257.3 L496.4,257.0 L496.7,256.7 L497.0,256.4 L497.3,256.1 L497.6,255.9 L497.9,255.6 L498.2,255.3 L498.5,255.0 L498.8,254.7 L499.1,254.4 L499.4,254.1 L499.7,253.9 L500.1,253.6 L500.4,253.3 L500.7,253.0 L501.0,252.7 L501.4,252.4 L501.7,252.2 L502.1,251.9 L502.4,251.6 L502.7,251.3 L503.1,251.0 L503.4,250.7 L503.8,250.5 L504.1,250.2 L504.5,249.9 L504.8,249.6 L505.2,249.3 L505.6,249.0 L505.9,248.7 L506.3,248.5 L506.7,248.2 L507.1,247.9 L507.4,247.6 L507.8,247.3 L508.2,247.0 L508.6,246.8 L509.0,246.5 L509.3,246.2 L509.7,245.9 L510.1,245.6 L510.5,245.3 L510.9,245.1 L511.3,244.8 L511.7,244.5 L512.1,244.2 L512.6,243.9 L513.0,243.6 L513.4,243.3 L513.8,243.1 L514.2,242.8 L514.6,242.5 L515.1,242.2 L515.5,241.9 L515.9,241.6 L516.4,241.4 L516.8,241.1 L517.2,240.8 L517.7,240.5 L518.1,240.2 L518.6,239.9 L519.0,239.7 L519.5,239.4 L519.9,239.1 L520.4,238.8 L520.8,238.5 L521.3,238.2 L521.7,237.9 L522.2,237.7 L522.7,237.4 L523.1,237.1 L523.6,236.8 L524.1,236.5 L524.6,236.2 L525.1,236.0 L525.5,235.7 L526.0,235.4 L526.5,235.1 L527.0,234.8 L527.5,234.5 L528.0,234.3 L528.5,234.0 L529.0,233.7 L529.5,233.4 L530.0,233.1 L530.5,232.8 L531.0,232.5 L531.5,232.3 L532.0,232.0 L532.5,231.7 L533.0,231.4 L533.6,231.1 L534.1,230.8 L534.6,230.6 L535.1,230.3 L535.7,230.0 L536.2,229.7 L536.7,229.4 L537.3,229.1 L537.8,228.9 L538.3,228.6 L538.9,228.3 L539.4,228.0 L540.0,227.7 L540.5,227.4 L541.1,227.1 L541.6,226.9 L542.2,226.6 L542.8,226.3 L543.3,226.0 L543.9,225.7 L544.4,225.4 L545.0,225.2 L545.6,224.9 L546.2,224.6 L546.7,224.3 L547.3,224.0 L547.9,223.7 L548.5,223.5 L549.1,223.2 L549.6,222.9 L550.2,222.6 L550.8,222.3 L551.4,222.0 L552.0,221.7 L552.6,221.5 L553.2,221.2 L553.8,220.9 L554.4,220.6 L555.0,220.3 L555.6,220.0 L556.2,219.8 L556.8,219.5 L557.5,219.2 L558.1,218.9 L558.7,218.6"/>
<path d="M493.2,284.8 L493.2,284.6 L493.2,284.3 L493.2,284.0 L493.2,283.7 L493.2,283.4 L493.2,283.1 L493.2,282.9 L493.2,282.6 L493.3,282.3 L493.3,282.0 L493.3,281.7 L493.3,281.4 L493.4,281.1 L493.4,280.9 L493.5,280.6 L493.5,280.3 L493.6,280.0 L493.6,279.7 L493.7,279.4 L493.7,279.2 L493.8,278.9 L493.9,278.6 L493.9,278.3 L494.0,278.0 L494.1,277.7 L494.1,277.5 L494.2,277.2 L494.3,276.9 L494.4,276.6 L494.5,276.3 L494.6,276.0 L494.7,275.7 L494.8,275.5 L494.9,275.2 L495.0,274.9 L495.1,274.6 L495.2,274.3 L495.3,274.0 L495.5,273.8 L495.6,273.5 L495.7,273.2 L495.8,272.9 L496.0,272.6 L496.1,272.3 L496.2,272.1 L496.4,271.8 L496.5,271.5 L496.7,271.2 L496.8,270.9 L497.0,270.6 L497.1,270.3 L497.3,270.1 L497.4,269.8 L497.6,269.5 L497.8,269.2 L497.9,268.9 L498.1,268.6 L498.3,268.4 L498.5,268.1 L498.7,267.8 L498.8,267.5 L499.0,267.2 L499.2,266.9 L499.4,266.7 L499.6,266.4 L499.8,266.1 L500.0,265.8 L500.2,265.5 L500.4,265.2 L500.7,264.9 L500.9,264.7 L501.1,264.4 L501.3,264.1 L501.5,263.8 L501.8,263.5 L502.0,263.2 L502.2,263.0 L502.5,262.7 L502.7,262.4 L502.9,262.1 L503.2,261.8 L503.4,261.5 L503.7,261.3 L503.9,261.0 L504.2,260.7 L504.4,260.4 L504.7,260.1 L505.0,259.8 L505.2,259.5 L505.5,259.3 L505.8,259.0 L506.1,258.7 L506.3,258.4 L506.6,258.1 L506.9,257.8 L507.2,257.6 L507.5,257.3 L507.8,257.0 L508.1,256.7 L508.4,256.4 L508.7,256.1 L509.0,255.9 L509.3,255.6 L509.6,255.3 L509.9,255.0 L510.2,254.7 L510.5,254.4 L510.8,254.1 L511.2,253.9 L511.5,253.6 L511.8,253.3 L512.1,253.0 L512.5,252.7 L512.8,252.4 L513.1,252.2 L513.5,251.9 L513.8,251.6 L514.2,251.3 L514.5,251.0 L514.9,250.7 L515.2,250.5 L515.6,250.2 L515.9,249.9 L516.3,249.6 L516.7,249.3 L517.0,249.0 L517.4,248.7 L517.8,248.5 L518.2,248.2 L518.5,247.9 L518.9,247.6 L519.3,247.3 L519.7,247.0 L520.1,246.8 L520.5,246.5 L520.9,246.2 L521.2,245.9 L521.6,245.6 L522.0,245.3 L522.4,245.1 L522.9,244.8 L523.3,244.5 L523.7,244.2 L524.1,243.9 L524.5,243.6 L524.9,243.3 L525.3,243.1 L525.8,242.8 L526.2,242.5 L526.6,242.2 L527.0,241.9 L527.5,241.6 L527.9,241.4 L528.4,241.1 L528.8,240.8 L529.2,240.5 L529.7,240.2 L530.1,239.9 L530.6,239.7 L531.0,239.4 L531.5,239.1 L531.9,238.8 L532.4,238.5 L532.9,238.2 L533.3,237.9 L533.8,237.7 L534.3,237.4 L534.7,237.1 L535.2,236.8 L535.7,236.5 L536.2,236.2 L536.7,236.0 L537.1,235.7 L537.6,235.4 L538.1,235.1 L538.6,234.8 L539.1,234.5 L539.6,234.3 L540.1,234.0 L540.6,233.7 L541.1,233.4 L541.6,233.1 L542.1,232.8 L542.6,232.5 L543.1,232.3 L543.7,232.0 L544.2,231.7 L544.7,231.4 L545.2,231.1 L545.7,230.8 L546.3,230.6 L546.8,230.3 L547.3,230.0 L547.9,229.7 L548.4,229.4 L548.9,229.1 L549.5,228.9 L550.0,228.6 L550.6,228.3 L551.1,228.0 L551.7,227.7 L552.2,227.4 L552.8,227.1 L553.3,226.9 L553.9,226.6 L554.4,226.3 L555.0,226.0 L555.6,225.7 L556.1,225.4 L556.7,225.2 L557.3,224.9 L557.9,224.6 L558.4,224.3"/>
<path d="M504.1,284.8 L504.1,284.6 L504.1,284.3 L504.1,284.0 L504.1,283.7 L504.2,283.4 L504.2,283.1 L504.2,282.9 L504.2,282.6 L504.3,282.3 L504.3,282.0 L504.3,281.7 L504.4,281.4 L504.4,281.1 L504.4,280.9 L504.5,280.6 L504.5,280.3 L504.6,280.0 L504.7,279.7 L504.7,279.4 L504.8,279.2 L504.8,278.9 L504.9,278.6 L505.0,278.3 L505.1,278.0 L505.1,277.7 L505.2,277.5 L505.3,277.2 L505.4,276.9 L505.5,276.6 L505.6,276.3 L505.7,276.0 L505.8,275.7 L505.9,275.5 L506.0,275.2 L506.1,274.9 L506.2,274.6 L506.3,274.3 L506.5,274.0 L506.6,273.8 L506.7,273.5 L506.8,273.2 L507.0,272.9 L507.1,272.6 L507.3,272.3 L507.4,272.1 L507.5,271.8 L507.7,271.5 L507.8,271.2 L508.0,270.9 L508.2,270.6 L508.3,270.3 L508.5,270.1 L508.6,269.8 L508.8,269.5 L509.0,269.2 L509.2,268.9 L509.3,268.6 L509.5,268.4 L509.7,268.1 L509.9,267.8 L510.1,267.5 L510.3,267.2 L510.5,266.9 L510.7,266.7 L510.9,266.4 L511.1,266.1 L511.3,265.8 L511.5,265.5 L511.7,265.2 L511.9,264.9 L512.1,264.7 L512.4,264.4 L512.6,264.1 L512.8,263.8 L513.0,263.5 L513.3,263.2 L513.5,263.0 L513.8,262.7 L514.0,262.4 L514.2,262.1 L514.5,261.8 L514.7,261.5 L515.0,261.3 L515.3,261.0 L515.5,260.7 L515.8,260.4 L516.0,260.1 L516.3,259.8 L516.6,259.5 L516.9,259.3 L517.1,259.0 L517.4,258.7 L517.7,258.4 L518.0,258.1 L518.3,257.8 L518.6,257.6 L518.8,257.3 L519.1,257.0 L519.4,256.7 L519.7,256.4 L520.0,256.1 L520.3,255.9 L520.7,255.6 L521.0,255.3 L521.3,255.0 L521.6,254.7 L521.9,254.4 L522.2,254.1 L522.6,253.9 L522.9,253.6 L523.2,253.3 L523.6,253.0 L523.9,252.7 L524.2,252.4 L524.6,252.2 L524.9,251.9 L525.3,251.6 L525.6,251.3 L526.0,251.0 L526.3,250.7 L526.7,250.5 L527.0,250.2 L527.4,249.9 L527.8,249.6 L528.1,249.3 L528.5,249.0 L528.9,248.7 L529.3,248.5 L529.6,248.2 L530.0,247.9 L530.4,247.6 L530.8,247.3 L531.2,247.0 L531.6,246.8 L532.0,246.5 L532.3,246.2 L532.7,245.9 L533.1,245.6 L533.6,245.3 L534.0,245.1 L534.4,244.8 L534.8,244.5 L535.2,244.2 L535.6,243.9 L536.0,243.6 L536.4,243.3 L536.9,243.1 L537.3,242.8 L537.7,242.5 L538.2,242.2 L538.6,241.9 L539.0,241.6 L539.5,241.4 L539.9,241.1 L540.3,240.8 L540.8,240.5 L541.2,240.2 L541.7,239.9 L542.1,239.7 L542.6,239.4 L543.1,239.1 L543.5,238.8 L544.0,238.5 L544.4,238.2 L544.9,237.9 L545.4,237.7 L545.9,237.4 L546.3,237.1 L546.8,236.8 L547.3,236.5 L547.8,236.2 L548.3,236.0 L548.7,235.7 L549.2,235.4 L549.7,235.1 L550.2,234.8 L550.7,234.5 L551.2,234.3 L551.7,234.0 L552.2,233.7 L552.7,233.4 L553.2,233.1 L553.7,232.8 L554.3,232.5 L554.8,232.3 L555.3,232.0 L555.8,231.7 L556.3,231.4 L556.9,231.1 L557.4,230.8 L557.9,230.6 L558.4,230.3"/>
<path d="M515.1,284.8 L515.1,284.6 L515.1,284.3 L515.1,284.0 L515.1,283.7 L515.1,283.4 L515.2,283.1 L515.2,282.9 L515.2,282.6 L515.3,282.3 L515.3,282.0 L515.3,281.7 L515.4,281.4 L515.4,281.1 L515.5,280.9 L515.5,280.6 L515.6,280.3 L515.6,280.0 L515.7,279.7 L515.8,279.4 L515.8,279.2 L515.9,278.9 L516.0,278.6 L516.1,278.3 L516.1,278.0 L516.2,277.7 L516.3,277.5 L516.4,277.2 L516.5,276.9 L516.6,276.6 L516.7,276.3 L516.8,276.0 L516.9,275.7 L517.0,275.5 L517.1,275.2 L517.2,274.9 L517.4,274.6 L517.5,274.3 L517.6,274.0 L517.7,273.8 L517.9,273.5 L518.0,273.2 L518.1,272.9 L518.3,272.6 L518.4,272.3 L518.6,272.1 L518.7,271.8 L518.9,271.5 L519.0,271.2 L519.2,270.9 L519.3,270.6 L519.5,270.3 L519.7,270.1 L519.8,269.8 L520.0,269.5 L520.2,269.2 L520.4,268.9 L520.5,268.6 L520.7,268.4 L520.9,268.1 L521.1,267.8 L521.3,267.5 L521.5,267.2 L521.7,266.9 L521.9,266.7 L522.1,266.4 L522.3,266.1 L522.5,265.8 L522.7,265.5 L523.0,265.2 L523.2,264.9 L523.4,264.7 L523.6,264.4 L523.9,264.1 L524.1,263.8 L524.3,263.5 L524.6,263.2 L524.8,263.0 L525.1,262.7 L525.3,262.4 L525.5,262.1 L525.8,261.8 L526.1,261.5 L526.3,261.3 L526.6,261.0 L526.8,260.7 L527.1,260.4 L527.4,260.1 L527.6,259.8 L527.9,259.5 L528.2,259.3 L528.5,259.0 L528.8,258.7 L529.0,258.4 L529.3,258.1 L529.6,257.8 L529.9,257.6 L530.2,257.3 L530.5,257.0 L530.8,256.7 L531.1,256.4 L531.4,256.1 L531.7,255.9 L532.0,255.6 L532.4,255.3 L532.7,255.0 L533.0,254.7 L533.3,254.4 L533.6,254.1 L534.0,253.9 L534.3,253.6 L534.6,253.3 L535.0,253.0 L535.3,252.7 L535.7,252.4 L536.0,252.2 L536.4,251.9 L536.7,251.6 L537.1,251.3 L537.4,251.0 L537.8,250.7 L538.1,250.5 L538.5,250.2 L538.9,249.9 L539.2,249.6 L539.6,249.3 L540.0,249.0 L540.3,248.7 L540.7,248.5 L541.1,248.2 L541.5,247.9 L541.9,247.6 L542.3,247.3 L542.7,247.0 L543.0,246.8 L543.4,246.5 L543.8,246.2 L544.2,245.9 L544.6,245.6 L545.1,245.3 L545.5,245.1 L545.9,244.8 L546.3,244.5 L546.7,244.2 L547.1,243.9 L547.5,243.6 L548.0,243.3 L548.4,243.1 L548.8,242.8 L549.3,242.5 L549.7,242.2 L550.1,241.9 L550.6,241.6 L551.0,241.4 L551.5,241.1 L551.9,240.8 L552.3,240.5 L552.8,240.2 L553.3,239.9 L553.7,239.7 L554.2,239.4 L554.6,239.1 L555.1,238.8 L555.6,238.5 L556.0,238.2 L556.5,237.9 L557.0,237.7 L557.4,237.4 L557.9,237.1 L558.4,236.8"/>
<path d="M526.0,284.8 L526.0,284.6 L526.1,284.3 L526.1,284.0 L526.1,283.7 L526.1,283.4 L526.1,283.1 L526.2,282.9 L526.2,282.6 L526.3,282.3 L526.3,282.0 L526.3,281.7 L526.4,281.4 L526.4,281.1 L526.5,280.9 L526.5,280.6 L526.6,280.3 L526.7,280.0 L526.7,279.7 L526.8,279.4 L526.9,279.2 L527.0,278.9 L527.0,278.6 L527.1,278.3 L527.2,278.0 L527.3,277.7 L527.4,277.5 L527.5,277.2 L527.6,276.9 L527.7,276.6 L527.8,276.3 L527.9,276.0 L528.0,275.7 L528.1,275.5 L528.2,275.2 L528.3,274.9 L528.5,274.6 L528.6,274.3 L528.7,274.0 L528.9,273.8 L529.0,273.5 L529.1,273.2 L529.3,272.9 L529.4,272.6 L529.6,272.3 L529.7,272.1 L529.9,271.8 L530.0,271.5 L530.2,271.2 L530.4,270.9 L530.5,270.6 L530.7,270.3 L530.9,270.1 L531.0,269.8 L531.2,269.5 L531.4,269.2 L531.6,268.9 L531.8,268.6 L531.9,268.4 L532.1,268.1 L532.3,267.8 L532.5,267.5 L532.7,267.2 L532.9,266.9 L533.1,266.7 L533.4,266.4 L533.6,266.1 L533.8,265.8 L534.0,265.5 L534.2,265.2 L534.4,264.9 L534.7,264.7 L534.9,264.4 L535.1,264.1 L535.4,263.8 L535.6,263.5 L535.9,263.2 L536.1,263.0 L536.3,262.7 L536.6,262.4 L536.8,262.1 L537.1,261.8 L537.4,261.5 L537.6,261.3 L537.9,261.0 L538.2,260.7 L538.4,260.4 L538.7,260.1 L539.0,259.8 L539.3,259.5 L539.5,259.3 L539.8,259.0 L540.1,258.7 L540.4,258.4 L540.7,258.1 L541.0,257.8 L541.3,257.6 L541.6,257.3 L541.9,257.0 L542.2,256.7 L542.5,256.4 L542.8,256.1 L543.1,255.9 L543.4,255.6 L543.7,255.3 L544.1,255.0 L544.4,254.7 L544.7,254.4 L545.0,254.1 L545.4,253.9 L545.7,253.6 L546.1,253.3 L546.4,253.0 L546.7,252.7 L547.1,252.4 L547.4,252.2 L547.8,251.9 L548.1,251.6 L548.5,251.3 L548.8,251.0 L549.2,250.7 L549.6,250.5 L549.9,250.2 L550.3,249.9 L550.7,249.6 L551.1,249.3 L551.4,249.0 L551.8,248.7 L552.2,248.5 L552.6,248.2 L553.0,247.9 L553.3,247.6 L553.7,247.3 L554.1,247.0 L554.5,246.8 L554.9,246.5 L555.3,246.2 L555.7,245.9 L556.1,245.6 L556.6,245.3 L557.0,245.1 L557.4,244.8 L557.8,244.5 L558.2,244.2 L558.6,243.9"/>
<path d="M537.0,284.8 L537.0,284.6 L537.0,284.3 L537.0,284.0 L537.1,283.7 L537.1,283.4 L537.1,283.1 L537.2,282.9 L537.2,282.6 L537.2,282.3 L537.3,282.0 L537.3,281.7 L537.4,281.4 L537.4,281.1 L537.5,280.9 L537.6,280.6 L537.6,280.3 L537.7,280.0 L537.8,279.7 L537.8,279.4 L537.9,279.2 L538.0,278.9 L538.1,278.6 L538.2,278.3 L538.3,278.0 L538.4,277.7 L538.5,277.5 L538.6,277.2 L538.7,276.9 L538.8,276.6 L538.9,276.3 L539.0,276.0 L539.1,275.7 L539.2,275.5 L539.3,275.2 L539.5,274.9 L539.6,274.6 L539.7,274.3 L539.9,274.0 L540.0,273.8 L540.1,273.5 L540.3,273.2 L540.4,272.9 L540.6,272.6 L540.7,272.3 L540.9,272.1 L541.0,271.8 L541.2,271.5 L541.4,271.2 L541.5,270.9 L541.7,270.6 L541.9,270.3 L542.0,270.1 L542.2,269.8 L542.4,269.5 L542.6,269.2 L542.8,268.9 L543.0,268.6 L543.2,268.4 L543.4,268.1 L543.6,267.8 L543.8,267.5 L544.0,267.2 L544.2,266.9 L544.4,266.7 L544.6,266.4 L544.8,266.1 L545.0,265.8 L545.3,265.5 L545.5,265.2 L545.7,264.9 L545.9,264.7 L546.2,264.4 L546.4,264.1 L546.6,263.8 L546.9,263.5 L547.1,263.2 L547.4,263.0 L547.6,262.7 L547.9,262.4 L548.1,262.1 L548.4,261.8 L548.7,261.5 L548.9,261.3 L549.2,261.0 L549.5,260.7 L549.7,260.4 L550.0,260.1 L550.3,259.8 L550.6,259.5 L550.9,259.3 L551.2,259.0 L551.4,258.7 L551.7,258.4 L552.0,258.1 L552.3,257.8 L552.6,257.6 L552.9,257.3 L553.2,257.0 L553.5,256.7 L553.9,256.4 L554.2,256.1 L554.5,255.9 L554.8,255.6 L555.1,255.3 L555.5,255.0 L555.8,254.7 L556.1,254.4 L556.4,254.1 L556.8,253.9 L557.1,253.6 L557.5,253.3 L557.8,253.0 L558.1,252.7 L558.5,252.4"/>
<path d="M547.9,284.8 L548.0,284.6 L548.0,284.3 L548.0,284.0 L548.0,283.7 L548.1,283.4 L548.1,283.1 L548.2,282.9 L548.2,282.6 L548.2,282.3 L548.3,282.0 L548.3,281.7 L548.4,281.4 L548.5,281.1 L548.5,280.9 L548.6,280.6 L548.7,280.3 L548.7,280.0 L548.8,279.7 L548.9,279.4 L549.0,279.2 L549.1,278.9 L549.1,278.6 L549.2,278.3 L549.3,278.0 L549.4,277.7 L549.5,277.5 L549.6,277.2 L549.7,276.9 L549.8,276.6 L550.0,276.3 L550.1,276.0 L550.2,275.7 L550.3,275.5 L550.4,275.2 L550.6,274.9 L550.7,274.6 L550.8,274.3 L551.0,274.0 L551.1,273.8 L551.3,273.5 L551.4,273.2 L551.6,272.9 L551.7,272.6 L551.9,272.3 L552.0,272.1 L552.2,271.8 L552.4,271.5 L552.5,271.2 L552.7,270.9 L552.9,270.6 L553.0,270.3 L553.2,270.1 L553.4,269.8 L553.6,269.5 L553.8,269.2 L554.0,268.9 L554.2,268.6 L554.4,268.4 L554.6,268.1 L554.8,267.8 L555.0,267.5 L555.2,267.2 L555.4,266.9 L555.6,266.7 L555.8,266.4 L556.1,266.1 L556.3,265.8 L556.5,265.5 L556.7,265.2 L557.0,264.9 L557.2,264.7 L557.4,264.4 L557.7,264.1 L557.9,263.8 L558.2,263.5 L558.4,263.2 L558.7,263.0"/>
</g>
<polyline points="477.0,247.3 477.0,249.5 476.3,252.0 475.6,255.0 475.0,258.0 474.6,260.2" fill="none" stroke="#ff0000" stroke-width="6.0" stroke-linejoin="round" stroke-linecap="round"/>
<polyline points="477.0,247.3 477.0,249.5 476.3,252.0 475.6,255.0 475.0,258.0 474.6,260.2" fill="none" stroke="#ff00ff" stroke-width="3.0" stroke-linejoin="round" stroke-linecap="round"/>
<rect x="431.80" y="173.00" width="110.00" height="2" fill="#ee00ee"/>
<line x1="432.80" y1="174.00" x2="432.80" y2="171.00" stroke="#ee00ee" stroke-width="1.6"/>
<line x1="436.40" y1="174.00" x2="436.40" y2="171.00" stroke="#ee00ee" stroke-width="1.6"/>
<line x1="440.00" y1="174.00" x2="440.00" y2="171.00" stroke="#ee00ee" stroke-width="1.6"/>
<line x1="443.60" y1="174.00" x2="443.60" y2="171.00" stroke="#ee00ee" stroke-width="1.6"/>
<line x1="447.20" y1="174.00" x2="447.20" y2="171.00" stroke="#ee00ee" stroke-width="1.6"/>
<line x1="450.80" y1="174.00" x2="450.80" y2="171.00" stroke="#ee00ee" stroke-width="1.6"/>
<line x1="454.40" y1="174.00" x2="454.40" y2="171.00" stroke="#ee00ee" stroke-width="1.6"/>
<line x1="458.00" y1="174.00" x2="458.00" y2="171.00" stroke="#ee00ee" stroke-width="1.6"/>
<line x1="461.60" y1="174.00" x2="461.60" y2="171.00" stroke="#ee00ee" stroke-width="1.6"/>
<line x1="465.20" y1="174.00" x2="465.20" y2="171.00" stroke="#ee00ee" stroke-width="1.6"/>
<line x1="468.80" y1="174.00" x2="468.80" y2="171.00" stroke="#ee00ee" stroke-width="1.6"/>
<line x1="472.40" y1="174.00" x2="472.40" y2="171.00" stroke="#ee00ee" stroke-width="1.6"/>
<line x1="476.00" y1="174.00" x2="476.00" y2="171.00" stroke="#ee00ee" stroke-width="1.6"/>
<line x1="479.60" y1="174.00" x2="479.60" y2="171.00" stroke="#ee00ee" stroke-width="1.6"/>
<line x1="483.20" y1="174.00" x2="483.20" y2="171.00" stroke="#ee00ee" stroke-width="1.6"/>
<line x1="486.80" y1="174.00" x2="486.80" y2="171.00" stroke="#ee00ee" stroke-width="1.6"/>
<line x1="490.40" y1="174.00" x2="490.40" y2="171.00" stroke="#ee00ee" stroke-width="1.6"/>
<line x1="494.00" y1="174.00" x2="494.00" y2="171.00" stroke="#ee00ee" stroke-width="1.6"/>
<line x1="497.60" y1="174.00" x2="497.60" y2="171.00" stroke="#ee00ee" stroke-width="1.6"/>
<line x1="501.20" y1="174.00" x2="501.20" y2="171.00" stroke="#ee00ee" stroke-width="1.6"/>
<line x1="504.80" y1="174.00" x2="504.80" y2="171.00" stroke="#ee00ee" stroke-width="1.6"/>
<line x1="508.40" y1="174.00" x2="508.40" y2="171.00" stroke="#ee00ee" stroke-width="1.6"/>
<line x1="512.00" y1="174.00" x2="512.00" y2="171.00" stroke="#ee00ee" stroke-width="1.6"/>
<line x1="515.60" y1="174.00" x2="515.60" y2="171.00" stroke="#ee00ee" stroke-width="1.6"/>
<line x1="519.20" y1="174.00" x2="519.20" y2="171.00" stroke="#ee00ee" stroke-width="1.6"/>
<line x1="522.80" y1="174.00" x2="522.80" y2="171.00" stroke="#ee00ee" stroke-width="1.6"/>
<line x1="526.40" y1="174.00" x2="526.40" y2="171.00" stroke="#ee00ee" stroke-width="1.6"/>
<line x1="530.00" y1="174.00" x2="530.00" y2="171.00" stroke="#ee00ee" stroke-width="1.6"/>
<line x1="533.60" y1="174.00" x2="533.60" y2="171.00" stroke="#ee00ee" stroke-width="1.6"/>
<line x1="537.20" y1="174.00" x2="537.20" y2="171.00" stroke="#ee00ee" stroke-width="1.6"/>
<line x1="540.80" y1="174.00" x2="540.80" y2="171.00" stroke="#ee00ee" stroke-width="1.6"/>
<line x1="432.80" y1="174.00" x2="432.80" y2="168.50" stroke="#ee00ee" stroke-width="1.6"/>
<line x1="450.80" y1="174.00" x2="450.80" y2="168.50" stroke="#ee00ee" stroke-width="1.6"/>
<line x1="468.80" y1="174.00" x2="468.80" y2="168.50" stroke="#ee00ee" stroke-width="1.6"/>
<line x1="486.80" y1="174.00" x2="486.80" y2="168.50" stroke="#ee00ee" stroke-width="1.6"/>
<line x1="504.80" y1="174.00" x2="504.80" y2="168.50" stroke="#ee00ee" stroke-width="1.6"/>
<line x1="522.80" y1="174.00" x2="522.80" y2="168.50" stroke="#ee00ee" stroke-width="1.6"/>
<line x1="540.80" y1="174.00" x2="540.80" y2="168.50" stroke="#ee00ee" stroke-width="1.6"/>
<rect x="431.80" y="281.00" width="110.00" height="2" fill="#ee00ee"/>
<line x1="432.80" y1="282.00" x2="432.80" y2="285.00" stroke="#ee00ee" stroke-width="1.6"/>
<line x1="436.40" y1="282.00" x2="436.40" y2="285.00" stroke="#ee00ee" stroke-width="1.6"/>
<line x1="440.00" y1="282.00" x2="440.00" y2="285.00" stroke="#ee00ee" stroke-width="1.6"/>
<line x1="443.60" y1="282.00" x2="443.60" y2="285.00" stroke="#ee00ee" stroke-width="1.6"/>
<line x1="447.20" y1="282.00" x2="447.20" y2="285.00" stroke="#ee00ee" stroke-width="1.6"/>
<line x1="450.80" y1="282.00" x2="450.80" y2="285.00" stroke="#ee00ee" stroke-width="1.6"/>
<line x1="454.40" y1="282.00" x2="454.40" y2="285.00" stroke="#ee00ee" stroke-width="1.6"/>
<line x1="458.00" y1="282.00" x2="458.00" y2="285.00" stroke="#ee00ee" stroke-width="1.6"/>
<line x1="461.60" y1="282.00" x2="461.60" y2="285.00" stroke="#ee00ee" stroke-width="1.6"/>
<line x1="465.20" y1="282.00" x2="465.20" y2="285.00" stroke="#ee00ee" stroke-width="1.6"/>
<line x1="468.80" y1="282.00" x2="468.80" y2="285.00" stroke="#ee00ee" stroke-width="1.6"/>
<line x1="472.40" y1="282.00" x2="472.40" y2="285.00" stroke="#ee00ee" stroke-width="1.6"/>
<line x1="476.00" y1="282.00" x2="476.00" y2="285.00" stroke="#ee00ee" stroke-width="1.6"/>
<line x1="479.60" y1="282.00" x2="479.60" y2="285.00" stroke="#ee00ee" stroke-width="1.6"/>
<line x1="483.20" y1="282.00" x2="483.20" y2="285.00" stroke="#ee00ee" stroke-width="1.6"/>
<line x1="486.80" y1="282.00" x2="486.80" y2="285.00" stroke="#ee00ee" stroke-width="1.6"/>
<line x1="490.40" y1="282.00" x2="490.40" y2="285.00" stroke="#ee00ee" stroke-width="1.6"/>
<line x1="494.00" y1="282.00" x2="494.00" y2="285.00" stroke="#ee00ee" stroke-width="1.6"/>
<line x1="497.60" y1="282.00" x2="497.60" y2="285.00" stroke="#ee00ee" stroke-width="1.6"/>
<line x1="501.20" y1="282.00" x2="501.20" y2="285.00" stroke="#ee00ee" stroke-width="1.6"/>
<line x1="504.80" y1="282.00" x2="504.80" y2="285.00" stroke="#ee00ee" stroke-width="1.6"/>
<line x1="508.40" y1="282.00" x2="508.40" y2="285.00" stroke="#ee00ee" stroke-width="1.6"/>
<line x1="512.00" y1="282.00" x2="512.00" y2="285.00" stroke="#ee00ee" stroke-width="1.6"/>
<line x1="515.60" y1="282.00" x2="515.60" y2="285.00" stroke="#ee00ee" stroke-width="1.6"/>
<line x1="519.20" y1="282.00" x2="519.20" y2="285.00" stroke="#ee00ee" stroke-width="1.6"/>
<line x1="522.80" y1="282.00" x2="522.80" y2="285.00" stroke="#ee00ee" stroke-width="1.6"/>
<line x1="526.40" y1="282.00" x2="526.40" y2="285.00" stroke="#ee00ee" stroke-width="1.6"/>
<line x1="530.00" y1="282.00" x2="530.00" y2="285.00" stroke="#ee00ee" stroke-width="1.6"/>
<line x1="533.60" y1="282.00" x2="533.60" y2="285.00" stroke="#ee00ee" stroke-width="1.6"/>
<line x1="537.20" y1="282.00" x2="537.20" y2="285.00" stroke="#ee00ee" stroke-width="1.6"/>
<line x1="540.80" y1="282.00" x2="540.80" y2="285.00" stroke="#ee00ee" stroke-width="1.6"/>
<line x1="432.80" y1="282.00" x2="432.80" y2="287.50" stroke="#ee00ee" stroke-width="1.6"/>
<line x1="450.80" y1="282.00" x2="450.80" y2="287.50" stroke="#ee00ee" stroke-width="1.6"/>
<line x1="468.80" y1="282.00" x2="468.80" y2="287.50" stroke="#ee00ee" stroke-width="1.6"/>
<line x1="486.80" y1="282.00" x2="486.80" y2="287.50" stroke="#ee00ee" stroke-width="1.6"/>
<line x1="504.80" y1="282.00" x2="504.80" y2="287.50" stroke="#ee00ee" stroke-width="1.6"/>
<line x1="522.80" y1="282.00" x2="522.80" y2="287.50" stroke="#ee00ee" stroke-width="1.6"/>
<line x1="540.80" y1="282.00" x2="540.80" y2="287.50" stroke="#ee00ee" stroke-width="1.6"/>
<rect x="431.80" y="173.00" width="2" height="110.00" fill="#ee00ee"/>
<line x1="432.80" y1="282.00" x2="429.80" y2="282.00" stroke="#ee00ee" stroke-width="1.6"/>
<line x1="432.80" y1="279.16" x2="429.80" y2="279.16" stroke="#ee00ee" stroke-width="1.6"/>
<line x1="432.80" y1="276.32" x2="429.80" y2="276.32" stroke="#ee00ee" stroke-width="1.6"/>
<line x1="432.80" y1="273.47" x2="429.80" y2="273.47" stroke="#ee00ee" stroke-width="1.6"/>
<line x1="432.80" y1="270.63" x2="429.80" y2="270.63" stroke="#ee00ee" stroke-width="1.6"/>
<line x1="432.80" y1="267.79" x2="429.80" y2="267.79" stroke="#ee00ee" stroke-width="1.6"/>
<line x1="432.80" y1="264.95" x2="429.80" y2="264.95" stroke="#ee00ee" stroke-width="1.6"/>
<line x1="432.80" y1="262.11" x2="429.80" y2="262.11" stroke="#ee00ee" stroke-width="1.6"/>
<line x1="432.80" y1="259.26" x2="429.80" y2="259.26" stroke="#ee00ee" stroke-width="1.6"/>
<line x1="432.80" y1="256.42" x2="429.80" y2="256.42" stroke="#ee00ee" stroke-width="1.6"/>
<line x1="432.80" y1="253.58" x2="429.80" y2="253.58" stroke="#ee00ee" stroke-width="1.6"/>
<line x1="432.80" y1="250.74" x2="429.80" y2="250.74" stroke="#ee00ee" stroke-width="1.6"/>
<line x1="432.80" y1="247.89" x2="429.80" y2="247.89" stroke="#ee00ee" stroke-width="1.6"/>
<line x1="432.80" y1="245.05" x2="429.80" y2="245.05" stroke="#ee00ee" stroke-width="1.6"/>
<line x1="432.80" y1="242.21" x2="429.80" y2="242.21" stroke="#ee00ee" stroke-width="1.6"/>
<line x1="432.80" y1="239.37" x2="429.80" y2="239.37" stroke="#ee00ee" stroke-width="1.6"/>
<line x1="432.80" y1="236.53" x2="429.80" y2="236.53" stroke="#ee00ee" stroke-width="1.6"/>
<line x1="432.80" y1="233.68" x2="429.80" y2="233.68" stroke="#ee00ee" stroke-width="1.6"/>
<line x1="432.80" y1="230.84" x2="429.80" y2="230.84" stroke="#ee00ee" stroke-width="1.6"/>
<line x1="432.80" y1="228.00" x2="429.80" y2="228.00" stroke="#ee00ee" stroke-width="1.6"/>
<line x1="432.80" y1="225.16" x2="429.80" y2="225.16" stroke="#ee00ee" stroke-width="1.6"/>
<line x1="432.80" y1="222.32" x2="429.80" y2="222.32" stroke="#ee00ee" stroke-width="1.6"/>
<line x1="432.80" y1="219.47" x2="429.80" y2="219.47" stroke="#ee00ee" stroke-width="1.6"/>
<line x1="432.80" y1="216.63" x2="429.80" y2="216.63" stroke="#ee00ee" stroke-width="1.6"/>
<line x1="432.80" y1="213.79" x2="429.80" y2="213.79" stroke="#ee00ee" stroke-width="1.6"/>
<line x1="432.80" y1="210.95" x2="429.80" y2="210.95" stroke="#ee00ee" stroke-width="1.6"/>
<line x1="432.80" y1="208.11" x2="429.80" y2="208.11" stroke="#ee00ee" stroke-width="1.6"/>
<line x1="432.80" y1="205.26" x2="429.80" y2="205.26" stroke="#ee00ee" stroke-width="1.6"/>
<line x1="432.80" y1="202.42" x2="429.80" y2="202.42" stroke="#ee00ee" stroke-width="1.6"/>
<line x1="432.80" y1="199.58" x2="429.80" y2="199.58" stroke="#ee00ee" stroke-width="1.6"/>
<line x1="432.80" y1="196.74" x2="429.80" y2="196.74" stroke="#ee00ee" stroke-width="1.6"/>
<line x1="432.80" y1="193.89" x2="429.80" y2="193.89" stroke="#ee00ee" stroke-width="1.6"/>
<line x1="432.80" y1="191.05" x2="429.80" y2="191.05" stroke="#ee00ee" stroke-width="1.6"/>
<line x1="432.80" y1="188.21" x2="429.80" y2="188.21" stroke="#ee00ee" stroke-width="1.6"/>
<line x1="432.80" y1="185.37" x2="429.80" y2="185.37" stroke="#ee00ee" stroke-width="1.6"/>
<line x1="432.80" y1="182.53" x2="429.80" y2="182.53" stroke="#ee00ee" stroke-width="1.6"/>
<line x1="432.80" y1="179.68" x2="429.80" y2="179.68" stroke="#ee00ee" stroke-width="1.6"/>
<line x1="432.80" y1="176.84" x2="429.80" y2="176.84" stroke="#ee00ee" stroke-width="1.6"/>
<line x1="432.80" y1="174.00" x2="429.80" y2="174.00" stroke="#ee00ee" stroke-width="1.6"/>
<line x1="432.80" y1="273.47" x2="427.30" y2="273.47" stroke="#ee00ee" stroke-width="1.6"/>
<line x1="432.80" y1="259.26" x2="427.30" y2="259.26" stroke="#ee00ee" stroke-width="1.6"/>
<line x1="432.80" y1="245.05" x2="427.30" y2="245.05" stroke="#ee00ee" stroke-width="1.6"/>
<line x1="432.80" y1="230.84" x2="427.30" y2="230.84" stroke="#ee00ee" stroke-width="1.6"/>
<line x1="432.80" y1="216.63" x2="427.30" y2="216.63" stroke="#ee00ee" stroke-width="1.6"/>
<line x1="432.80" y1="202.42" x2="427.30" y2="202.42" stroke="#ee00ee" stroke-width="1.6"/>
<line x1="432.80" y1="188.21" x2="427.30" y2="188.21" stroke="#ee00ee" stroke-width="1.6"/>
<line x1="432.80" y1="174.00" x2="427.30" y2="174.00" stroke="#ee00ee" stroke-width="1.6"/>
<rect x="539.80" y="173.00" width="2" height="110.00" fill="#ee00ee"/>
<line x1="540.80" y1="282.00" x2="543.80" y2="282.00" stroke="#ee00ee" stroke-width="1.6"/>
<line x1="540.80" y1="279.16" x2="543.80" y2="279.16" stroke="#ee00ee" stroke-width="1.6"/>
<line x1="540.80" y1="276.32" x2="543.80" y2="276.32" stroke="#ee00ee" stroke-width="1.6"/>
<line x1="540.80" y1="273.47" x2="543.80" y2="273.47" stroke="#ee00ee" stroke-width="1.6"/>
<line x1="540.80" y1="270.63" x2="543.80" y2="270.63" stroke="#ee00ee" stroke-width="1.6"/>
<line x1="540.80" y1="267.79" x2="543.80" y2="267.79" stroke="#ee00ee" stroke-width="1.6"/>
<line x1="540.80" y1="264.95" x2="543.80" y2="264.95" stroke="#ee00ee" stroke-width="1.6"/>
<line x1="540.80" y1="262.11" x2="543.80" y2="262.11" stroke="#ee00ee" stroke-width="1.6"/>
<line x1="540.80" y1="259.26" x2="543.80" y2="259.26" stroke="#ee00ee" stroke-width="1.6"/>
<line x1="540.80" y1="256.42" x2="543.80" y2="256.42" stroke="#ee00ee" stroke-width="1.6"/>
<line x1="540.80" y1="253.58" x2="543.80" y2="253.58" stroke="#ee00ee" stroke-width="1.6"/>
<line x1="540.80" y1="250.74" x2="543.80" y2="250.74" stroke="#ee00ee" stroke-width="1.6"/>
<line x1="540.80" y1="247.89" x2="543.80" y2="247.89" stroke="#ee00ee" stroke-width="1.6"/>
<line x1="540.80" y1="245.05" x2="543.80" y2="245.05" stroke="#ee00ee" stroke-width="1.6"/>
<line x1="540.80" y1="242.21" x2="543.80" y2="242.21" stroke="#ee00ee" stroke-width="1.6"/>
<line x1="540.80" y1="239.37" x2="543.80" y2="239.37" stroke="#ee00ee" stroke-width="1.6"/>
<line x1="540.80" y1="236.53" x2="543.80" y2="236.53" stroke="#ee00ee" stroke-width="1.6"/>
<line x1="540.80" y1="233.68" x2="543.80" y2="233.68" stroke="#ee00ee" stroke-width="1.6"/>
<line x1="540.80" y1="230.84" x2="543.80" y2="230.84" stroke="#ee00ee" stroke-width="1.6"/>
<line x1="540.80" y1="228.00" x2="543.80" y2="228.00" stroke="#ee00ee" stroke-width="1.6"/>
<line x1="540.80" y1="225.16" x2="543.80" y2="225.16" stroke="#ee00ee" stroke-width="1.6"/>
<line x1="540.80" y1="222.32" x2="543.80" y2="222.32" stroke="#ee00ee" stroke-width="1.6"/>
<line x1="540.80" y1="219.47" x2="543.80" y2="219.47" stroke="#ee00ee" stroke-width="1.6"/>
<line x1="540.80" y1="216.63" x2="543.80" y2="216.63" stroke="#ee00ee" stroke-width="1.6"/>
<line x1="540.80" y1="213.79" x2="543.80" y2="213.79" stroke="#ee00ee" stroke-width="1.6"/>
<line x1="540.80" y1="210.95" x2="543.80" y2="210.95" stroke="#ee00ee" stroke-width="1.6"/>
<line x1="540.80" y1="208.11" x2="543.80" y2="208.11" stroke="#ee00ee" stroke-width="1.6"/>
<line x1="540.80" y1="205.26" x2="543.80" y2="205.26" stroke="#ee00ee" stroke-width="1.6"/>
<line x1="540.80" y1="202.42" x2="543.80" y2="202.42" stroke="#ee00ee" stroke-width="1.6"/>
<line x1="540.80" y1="199.58" x2="543.80" y2="199.58" stroke="#ee00ee" stroke-width="1.6"/>
<line x1="540.80" y1="196.74" x2="543.80" y2="196.74" stroke="#ee00ee" stroke-width="1.6"/>
<line x1="540.80" y1="193.89" x2="543.80" y2="193.89" stroke="#ee00ee" stroke-width="1.6"/>
<line x1="540.80" y1="191.05" x2="543.80" y2="191.05" stroke="#ee00ee" stroke-width="1.6"/>
<line x1="540.80" y1="188.21" x2="543.80" y2="188.21" stroke="#ee00ee" stroke-width="1.6"/>
<line x1="540.80" y1="185.37" x2="543.80" y2="185.37" stroke="#ee00ee" stroke-width="1.6"/>
<line x1="540.80" y1="182.53" x2="543.80" y2="182.53" stroke="#ee00ee" stroke-width="1.6"/>
<line x1="540.80" y1="179.68" x2="543.80" y2="179.68" stroke="#ee00ee" stroke-width="1.6"/>
<line x1="540.80" y1="176.84" x2="543.80" y2="176.84" stroke="#ee00ee" stroke-width="1.6"/>
<line x1="540.80" y1="174.00" x2="543.80" y2="174.00" stroke="#ee00ee" stroke-width="1.6"/>
<line x1="540.80" y1="273.47" x2="546.30" y2="273.47" stroke="#ee00ee" stroke-width="1.6"/>
<line x1="540.80" y1="259.26" x2="546.30" y2="259.26" stroke="#ee00ee" stroke-width="1.6"/>
<line x1="540.80" y1="245.05" x2="546.30" y2="245.05" stroke="#ee00ee" stroke-width="1.6"/>
<line x1="540.80" y1="230.84" x2="546.30" y2="230.84" stroke="#ee00ee" stroke-width="1.6"/>
<line x1="540.80" y1="216.63" x2="546.30" y2="216.63" stroke="#ee00ee" stroke-width="1.6"/>
<line x1="540.80" y1="202.42" x2="546.30" y2="202.42" stroke="#ee00ee" stroke-width="1.6"/>
<line x1="540.80" y1="188.21" x2="546.30" y2="188.21" stroke="#ee00ee" stroke-width="1.6"/>
<line x1="540.80" y1="174.00" x2="546.30" y2="174.00" stroke="#ee00ee" stroke-width="1.6"/>
<text x="432.80" y="163.30" fill="#ee00ee" stroke="#ee00ee" font-size="14" text-anchor="middle">32</text>
<text x="450.80" y="163.30" fill="#ee00ee" stroke="#ee00ee" font-size="14" text-anchor="middle">33</text>
<text x="468.80" y="163.30" fill="#ee00ee" stroke="#ee00ee" font-size="14" text-anchor="middle">34</text>
<text x="486.80" y="163.30" fill="#ee00ee" stroke="#ee00ee" font-size="14" text-anchor="middle">35</text>
<text x="504.80" y="163.30" fill="#ee00ee" stroke="#ee00ee" font-size="14" text-anchor="middle">36</text>
<text x="522.80" y="163.30" fill="#ee00ee" stroke="#ee00ee" font-size="14" text-anchor="middle">37</text>
<text x="540.80" y="163.30" fill="#ee00ee" stroke="#ee00ee" font-size="14" text-anchor="middle">38</text>
<text x="486.60" y="146.40" fill="#ee00ee" stroke="#ee00ee" font-size="14" text-anchor="middle">Salinity (PSU)</text>
<text x="569.00" y="278.17" fill="#ee00ee" stroke="#ee00ee" font-size="14" text-anchor="end">0</text>
<text x="569.00" y="263.96" fill="#ee00ee" stroke="#ee00ee" font-size="14" text-anchor="end">5</text>
<text x="569.00" y="249.75" fill="#ee00ee" stroke="#ee00ee" font-size="14" text-anchor="end">10</text>
<text x="569.00" y="235.54" fill="#ee00ee" stroke="#ee00ee" font-size="14" text-anchor="end">15</text>
<text x="569.00" y="221.33" fill="#ee00ee" stroke="#ee00ee" font-size="14" text-anchor="end">20</text>
<text x="569.00" y="207.12" fill="#ee00ee" stroke="#ee00ee" font-size="14" text-anchor="end">25</text>
<text x="569.00" y="192.91" fill="#ee00ee" stroke="#ee00ee" font-size="14" text-anchor="end">30</text>
<text x="569.00" y="178.70" fill="#ee00ee" stroke="#ee00ee" font-size="14" text-anchor="end">35</text>
<text x="0" y="0" fill="#ee00ee" stroke="#ee00ee" font-size="14" text-anchor="middle" transform="translate(586.6,227.9) rotate(-90)">Insitu Temperature (°C)</text>
<text x="432.4" y="317.7" fill="#000" stroke="#000" font-size="14" xml:space="preserve">Float:  1121</text>
<text x="432.4" y="331.9" fill="#000" stroke="#000" font-size="14" xml:space="preserve">Profile:  115</text>
<text x="432.4" y="346.3" fill="#000" stroke="#000" font-size="14" xml:space="preserve" letter-spacing="-0.08">Location:  54.6°S  167.7°E</text>
<text x="432.4" y="360.7" fill="#000" stroke="#000" font-size="14" xml:space="preserve">Date:  02/21/2026</text>
<path d="M538.4,497.9 L541.0,497.4 L543.5,496.9 L546.0,496.3 L548.5,495.7 L550.9,495.0 L553.3,494.3 L555.6,493.5 L557.9,492.7 L560.1,491.9 L562.3,491.0 L564.4,490.1 L566.4,489.2 L568.4,488.2 L570.3,487.2 L572.1,486.1 L573.8,485.1 L575.5,484.0 L577.1,482.8 L578.6,481.7 L580.0,480.5 L581.4,479.3 L582.6,478.0 L583.8,476.8 L584.9,475.5 L585.9,474.2 L586.8,472.9 L587.6,471.6 L588.3,470.2 L588.9,468.9 L589.5,467.5 L589.9,466.1 L590.2,464.8 L590.5,463.4 L590.6,462.0 L590.7,460.6 L590.6,459.2 L590.5,457.8 L590.2,456.4 L589.9,455.1 L589.5,453.7 L588.9,452.3 L588.3,451.0 L587.6,449.6 L586.8,448.3 L585.9,447.0 L584.9,445.7 L583.8,444.4 L582.6,443.2 L581.4,441.9 L580.0,440.7 L578.6,439.5 L577.1,438.4 L575.5,437.2 L573.8,436.1 L572.1,435.1 L570.3,434.0 L568.4,433.0 L566.4,432.0 L564.4,431.1 L562.3,430.2 L560.1,429.3 L557.9,428.5 L555.6,427.7 L553.3,426.9 L550.9,426.2 L548.5,425.5 L546.0,424.9 L543.5,424.3 L541.0,423.8 L538.4,423.3 L538.3,423.4 L538.2,423.5 L538.1,423.6 L538.0,423.7 L537.9,423.8 L537.8,423.9 L537.6,424.0 L537.5,424.1 L537.4,424.2 L537.2,424.3 L537.1,424.4 L536.9,424.5 L536.7,424.6 L536.5,424.7 L536.4,424.8 L536.2,424.9 L536.0,425.0 L535.8,425.1 L535.6,425.2 L535.4,425.3 L535.2,425.4 L534.9,425.4 L534.7,425.5 L534.5,425.6 L534.2,425.7 L534.0,425.8 L533.7,425.9 L533.5,425.9 L533.2,426.0 L533.0,426.1 L532.7,426.2 L532.4,426.2 L532.1,426.3 L531.8,426.4 L531.6,426.5 L531.3,426.5 L531.0,426.6 L530.7,426.7 L530.4,426.7 L530.1,426.8 L529.7,426.9 L529.4,426.9 L529.1,427.0 L528.8,427.0 L528.4,427.1 L528.1,427.1 L527.8,427.2 L527.4,427.3 L527.1,427.3 L526.8,427.4 L526.4,427.4 L526.1,427.5 L525.7,427.5 L525.3,427.6 L525.0,427.6 L524.6,427.6 L524.3,427.7 L523.9,427.7 L523.5,427.8 L523.1,427.8 L522.8,427.8 L522.4,427.9 L522.0,427.9 L521.6,427.9 L521.2,428.0 L520.9,428.0 L520.5,428.0 L520.1,428.1 L519.7,428.1 L519.3,428.1 L518.9,428.1 L518.5,428.2 L518.1,428.2 L517.7,428.2 L517.3,428.2 L516.9,428.2 L516.5,428.3 L516.1,428.3 L515.7,428.3 L515.3,428.3 L514.9,428.3 L514.5,428.3 L514.1,428.3 L513.7,428.3 L513.2,428.3 L512.8,428.4 L512.4,428.4 L512.0,428.4 L511.6,428.4 L511.2,428.4 L510.8,428.4 L510.4,428.4 L510.0,428.4 L509.6,428.4 L509.2,428.3 L508.7,428.3 L508.3,428.3 L507.9,428.3 L507.5,428.3 L507.1,428.3 L506.7,428.3 L506.3,428.3 L505.9,428.3 L505.5,428.2 L505.1,428.2 L504.7,428.2 L504.3,428.2 L503.9,428.2 L503.5,428.1 L503.1,428.1 L502.7,428.1 L502.3,428.1 L501.9,428.0 L501.5,428.0 L501.2,428.0 L500.8,427.9 L500.4,427.9 L500.0,427.9 L499.6,427.8 L499.3,427.8 L498.9,427.8 L498.5,427.7 L498.1,427.7 L497.8,427.6 L497.4,427.6 L497.1,427.6 L496.7,427.5 L496.3,427.5 L496.0,427.4 L495.6,427.4 L495.3,427.3 L495.0,427.3 L494.6,427.2 L494.3,427.1 L494.0,427.1 L493.6,427.0 L493.3,427.0 L493.0,426.9 L492.7,426.9 L492.3,426.8 L492.0,426.7 L491.7,426.7 L491.4,426.6 L491.1,426.5 L490.8,426.5 L490.6,426.4 L490.3,426.3 L490.0,426.2 L489.7,426.2 L489.4,426.1 L489.2,426.0 L488.9,425.9 L488.7,425.9 L488.4,425.8 L488.2,425.7 L487.9,425.6 L487.7,425.5 L487.5,425.4 L487.2,425.4 L487.0,425.3 L486.8,425.2 L486.6,425.1 L486.4,425.0 L486.2,424.9 L486.0,424.8 L485.9,424.7 L485.7,424.6 L485.5,424.5 L485.3,424.4 L485.2,424.3 L485.0,424.2 L484.9,424.1 L484.8,424.0 L484.6,423.9 L484.5,423.8 L484.4,423.7 L484.3,423.6 L484.2,423.5 L484.1,423.4 L484.0,423.3 L481.4,423.8 L478.9,424.3 L476.4,424.9 L473.9,425.5 L471.5,426.2 L469.1,426.9 L466.8,427.7 L464.5,428.5 L462.3,429.3 L460.1,430.2 L458.0,431.1 L456.0,432.0 L454.0,433.0 L452.1,434.0 L450.3,435.1 L448.6,436.1 L446.9,437.2 L445.3,438.4 L443.8,439.5 L442.4,440.7 L441.0,441.9 L439.8,443.2 L438.6,444.4 L437.5,445.7 L436.5,447.0 L435.6,448.3 L434.8,449.6 L434.1,451.0 L433.5,452.3 L432.9,453.7 L432.5,455.1 L432.2,456.4 L431.9,457.8 L431.8,459.2 L431.7,460.6 L431.8,462.0 L431.9,463.4 L432.2,464.8 L432.5,466.1 L432.9,467.5 L433.5,468.9 L434.1,470.2 L434.8,471.6 L435.6,472.9 L436.5,474.2 L437.5,475.5 L438.6,476.8 L439.8,478.0 L441.0,479.3 L442.4,480.5 L443.8,481.7 L445.3,482.8 L446.9,484.0 L448.6,485.1 L450.3,486.1 L452.1,487.2 L454.0,488.2 L456.0,489.2 L458.0,490.1 L460.1,491.0 L462.3,491.9 L464.5,492.7 L466.8,493.5 L469.1,494.3 L471.5,495.0 L473.9,495.7 L476.4,496.3 L478.9,496.9 L481.4,497.4 L484.0,497.9 L484.1,497.8 L484.2,497.7 L484.3,497.6 L484.4,497.5 L484.5,497.4 L484.6,497.3 L484.8,497.2 L484.9,497.1 L485.0,497.0 L485.2,496.9 L485.3,496.8 L485.5,496.7 L485.7,496.6 L485.9,496.5 L486.0,496.4 L486.2,496.3 L486.4,496.2 L486.6,496.1 L486.8,496.0 L487.0,495.9 L487.2,495.8 L487.5,495.8 L487.7,495.7 L487.9,495.6 L488.2,495.5 L488.4,495.4 L488.7,495.3 L488.9,495.3 L489.2,495.2 L489.4,495.1 L489.7,495.0 L490.0,495.0 L490.3,494.9 L490.6,494.8 L490.8,494.7 L491.1,494.7 L491.4,494.6 L491.7,494.5 L492.0,494.5 L492.3,494.4 L492.7,494.3 L493.0,494.3 L493.3,494.2 L493.6,494.2 L494.0,494.1 L494.3,494.1 L494.6,494.0 L495.0,493.9 L495.3,493.9 L495.6,493.8 L496.0,493.8 L496.3,493.7 L496.7,493.7 L497.1,493.6 L497.4,493.6 L497.8,493.6 L498.1,493.5 L498.5,493.5 L498.9,493.4 L499.3,493.4 L499.6,493.4 L500.0,493.3 L500.4,493.3 L500.8,493.3 L501.2,493.2 L501.5,493.2 L501.9,493.2 L502.3,493.1 L502.7,493.1 L503.1,493.1 L503.5,493.1 L503.9,493.0 L504.3,493.0 L504.7,493.0 L505.1,493.0 L505.5,493.0 L505.9,492.9 L506.3,492.9 L506.7,492.9 L507.1,492.9 L507.5,492.9 L507.9,492.9 L508.3,492.9 L508.7,492.9 L509.2,492.9 L509.6,492.8 L510.0,492.8 L510.4,492.8 L510.8,492.8 L511.2,492.8 L511.6,492.8 L512.0,492.8 L512.4,492.8 L512.8,492.8 L513.2,492.9 L513.7,492.9 L514.1,492.9 L514.5,492.9 L514.9,492.9 L515.3,492.9 L515.7,492.9 L516.1,492.9 L516.5,492.9 L516.9,493.0 L517.3,493.0 L517.7,493.0 L518.1,493.0 L518.5,493.0 L518.9,493.1 L519.3,493.1 L519.7,493.1 L520.1,493.1 L520.5,493.2 L520.9,493.2 L521.2,493.2 L521.6,493.3 L522.0,493.3 L522.4,493.3 L522.8,493.4 L523.1,493.4 L523.5,493.4 L523.9,493.5 L524.3,493.5 L524.6,493.6 L525.0,493.6 L525.3,493.6 L525.7,493.7 L526.1,493.7 L526.4,493.8 L526.8,493.8 L527.1,493.9 L527.4,493.9 L527.8,494.0 L528.1,494.1 L528.4,494.1 L528.8,494.2 L529.1,494.2 L529.4,494.3 L529.7,494.3 L530.1,494.4 L530.4,494.5 L530.7,494.5 L531.0,494.6 L531.3,494.7 L531.6,494.7 L531.8,494.8 L532.1,494.9 L532.4,495.0 L532.7,495.0 L533.0,495.1 L533.2,495.2 L533.5,495.3 L533.7,495.3 L534.0,495.4 L534.2,495.5 L534.5,495.6 L534.7,495.7 L534.9,495.8 L535.2,495.8 L535.4,495.9 L535.6,496.0 L535.8,496.1 L536.0,496.2 L536.2,496.3 L536.4,496.4 L536.5,496.5 L536.7,496.6 L536.9,496.7 L537.1,496.8 L537.2,496.9 L537.4,497.0 L537.5,497.1 L537.6,497.2 L537.8,497.3 L537.9,497.4 L538.0,497.5 L538.1,497.6 L538.2,497.7 L538.3,497.8 L538.4,497.9Z" fill="#ccedf8"/>
<g fill="#ffc8c8" stroke="#1a0a0a" stroke-width="0.5" stroke-linejoin="round">
<path d="M512.8,429.0 L513.3,428.7 L513.7,428.3 L514.1,428.3 L514.5,428.3 L515.0,428.3 L515.4,428.3 L515.8,428.3 L516.2,428.3 L516.7,428.3 L517.1,428.2 L517.6,428.3 L518.0,428.4 L518.4,428.3 L518.8,428.3 L519.3,428.3 L519.7,428.2 L520.1,428.1 L520.5,428.0 L520.9,428.0 L521.6,428.1 L522.2,428.1 L523.0,428.3 L523.7,428.4 L524.2,428.4 L524.8,428.4 L525.3,428.5 L525.8,428.4 L526.2,428.4 L526.6,428.4 L527.0,428.4 L527.3,428.2 L527.6,428.0 L527.9,427.8 L528.1,427.6 L528.3,427.4 L528.4,427.2 L530.3,427.8 L531.5,428.3 L530.9,428.5 L532.0,429.4 L531.7,429.8 L532.2,430.7 L533.4,431.8 L535.0,432.6 L535.7,432.7 L536.5,432.8 L538.0,433.1 L538.8,433.1 L540.4,434.2 L541.7,434.5 L540.1,433.2 L539.3,432.2 L538.1,431.4 L536.4,430.6 L535.3,429.9 L535.9,429.8 L536.5,429.8 L538.0,430.2 L539.5,430.9 L540.5,431.1 L539.6,430.2 L542.2,431.2 L543.6,431.8 L545.5,432.3 L547.4,433.1 L547.9,433.6 L547.9,434.3 L547.4,434.4 L546.8,434.5 L546.8,435.1 L546.7,435.5 L546.9,436.1 L547.2,435.7 L547.3,435.4 L547.6,435.1 L548.2,435.8 L549.1,436.3 L550.6,436.5 L550.8,436.3 L550.9,436.8 L550.3,437.1 L550.1,437.6 L549.3,437.0 L549.2,437.3 L548.9,437.8 L549.3,438.4 L549.9,438.7 L549.6,438.9 L549.1,439.4 L549.6,439.9 L549.5,440.5 L549.9,441.2 L550.6,441.8 L550.9,442.1 L550.7,442.5 L550.4,443.2 L550.1,444.0 L550.6,444.9 L551.5,445.9 L552.2,446.6 L552.4,447.2 L552.1,447.3 L551.5,446.7 L550.7,445.9 L550.2,445.3 L549.5,445.0 L548.6,444.8 L547.8,444.9 L547.3,445.0 L547.7,445.5 L547.2,445.6 L546.4,445.3 L545.6,445.4 L545.2,445.8 L544.8,446.5 L545.1,447.3 L545.4,448.3 L545.8,449.3 L546.4,450.0 L547.1,450.8 L547.9,451.2 L548.9,450.9 L549.2,450.4 L549.2,449.7 L550.1,449.4 L550.6,449.4 L550.7,450.4 L550.7,450.9 L550.9,452.1 L552.0,452.2 L552.9,452.3 L553.4,452.7 L553.5,453.7 L553.7,454.8 L554.4,455.6 L555.2,455.9 L555.7,455.5 L556.4,455.7 L556.8,456.0 L556.7,456.6 L556.3,456.2 L555.7,456.7 L555.4,456.3 L555.0,456.4 L554.1,456.1 L552.9,455.4 L552.8,454.7 L551.8,453.8 L550.8,453.5 L549.9,453.3 L549.3,452.9 L548.2,452.2 L547.4,452.5 L546.1,452.0 L544.9,451.6 L543.6,450.9 L542.7,450.3 L542.6,449.6 L542.2,449.0 L541.4,448.4 L540.3,447.7 L539.8,447.0 L539.0,446.6 L538.2,446.0 L537.5,445.2 L536.5,444.7 L537.0,445.6 L537.9,446.3 L538.7,447.3 L539.7,448.3 L540.3,449.0 L540.0,448.7 L539.1,448.1 L538.7,447.5 L537.6,446.7 L537.1,445.8 L536.3,445.4 L535.7,444.8 L535.3,444.3 L534.6,443.8 L533.5,443.5 L532.6,442.5 L532.1,442.0 L531.3,441.4 L530.7,440.8 L530.5,440.0 L529.9,439.1 L529.4,438.1 L528.6,437.1 L529.1,437.1 L528.5,436.6 L527.9,436.4 L527.0,436.1 L526.5,435.6 L525.3,434.7 L524.7,434.1 L523.9,433.6 L522.9,432.9 L522.1,432.9 L521.0,432.4 L520.2,432.3 L519.6,432.3 L518.8,432.1 L518.4,432.3 L517.7,432.7 L517.6,432.1 L517.3,432.4 L517.0,432.9 L517.2,433.4 L516.7,433.7 L516.0,434.2 L515.3,434.4 L514.7,434.6 L514.2,434.9 L514.9,434.3 L515.5,434.0 L515.9,433.3 L516.1,433.0 L515.6,433.1 L514.6,432.6 L513.8,432.1 L513.5,431.4 L513.7,431.1 L514.5,430.6 L514.3,430.5 L513.6,430.6 L513.1,430.6 L512.7,430.2 L512.8,429.0Z"/>
<path d="M537.4,425.2 L537.6,425.4 L537.7,425.6 L537.8,425.8 L539.5,426.6 L539.6,427.0 L540.3,427.4 L542.4,428.4 L544.0,429.3 L543.5,429.3 L542.3,429.1 L540.6,428.6 L539.0,428.1 L537.0,427.4 L535.4,426.9 L533.9,426.4 L533.3,426.0 L533.6,425.9 L533.8,425.8 L534.1,425.7 L534.3,425.7 L534.6,425.6 L534.8,425.5 L535.1,425.4 L535.3,425.3 L535.5,425.2 L535.7,425.1 L536.0,425.0 L536.2,424.9 L536.4,424.8 L536.5,424.7 L537.4,425.2Z"/>
<path d="M557.3,455.6 L557.4,454.9 L557.9,454.6 L558.5,454.2 L558.9,453.9 L559.3,454.6 L559.1,455.0 L559.3,455.7 L559.5,455.5 L559.7,454.3 L560.4,454.8 L561.4,454.8 L562.4,454.8 L563.2,454.7 L563.5,455.3 L564.1,455.9 L564.9,456.3 L565.7,457.2 L566.7,457.3 L567.6,457.4 L568.3,458.2 L568.9,459.5 L569.1,460.3 L569.7,461.1 L570.3,461.0 L571.3,462.1 L572.4,462.2 L573.2,462.3 L573.9,462.8 L574.7,463.6 L574.9,463.9 L574.9,465.1 L574.5,466.0 L573.5,467.1 L572.5,468.2 L571.8,469.4 L571.1,470.8 L569.9,472.2 L568.9,473.3 L568.0,473.8 L567.2,473.9 L566.2,474.2 L564.9,475.0 L563.8,476.3 L563.1,476.8 L561.6,477.8 L560.2,478.8 L559.4,479.3 L558.4,479.7 L557.9,479.5 L557.5,479.2 L557.3,479.9 L556.5,480.7 L555.8,481.3 L555.1,481.5 L554.0,481.5 L553.1,482.2 L551.9,482.3 L551.4,483.0 L551.5,483.2 L550.8,483.3 L549.6,484.2 L548.6,484.5 L548.1,484.9 L548.0,485.4 L547.7,485.6 L546.3,486.2 L545.5,486.6 L544.6,487.1 L544.3,487.5 L543.9,487.5 L543.7,487.9 L543.2,488.5 L543.5,488.7 L542.9,488.8 L542.1,488.9 L542.0,488.6 L542.0,488.2 L542.6,487.3 L543.5,486.4 L544.8,485.2 L545.9,484.6 L547.4,483.4 L548.7,482.5 L549.5,481.5 L550.7,480.3 L552.1,479.1 L553.5,477.9 L554.5,476.6 L555.2,475.6 L556.3,474.3 L557.1,473.0 L557.8,471.7 L558.3,470.6 L558.0,469.9 L556.9,468.9 L556.6,467.8 L556.5,467.0 L556.2,465.7 L555.9,464.6 L555.4,463.8 L555.4,463.0 L555.8,462.4 L556.0,461.8 L555.6,461.3 L555.9,460.4 L556.0,460.1 L556.5,459.8 L556.6,459.2 L557.1,458.6 L557.0,457.4 L556.7,456.7 L556.8,456.0 L557.3,455.6Z"/>
<path d="M448.1,436.9 L448.8,436.8 L448.6,437.2 L447.7,437.9 L446.2,438.8 L446.1,439.3 L446.3,439.6 L446.1,440.4 L446.2,441.1 L446.3,441.5 L447.3,440.7 L448.4,440.1 L448.7,440.5 L448.7,441.1 L449.1,441.7 L449.9,441.7 L450.4,441.5 L450.6,441.8 L449.9,442.5 L449.2,443.6 L448.8,444.5 L448.1,445.9 L447.9,446.4 L447.6,447.3 L447.2,448.2 L446.8,449.6 L446.6,450.3 L446.5,451.2 L446.6,452.3 L446.8,453.1 L446.8,453.7 L447.1,454.4 L447.9,454.2 L448.7,454.0 L449.2,454.0 L450.0,453.7 L449.7,454.4 L448.9,455.6 L448.2,457.0 L447.6,458.2 L446.8,459.2 L446.0,459.7 L445.4,460.9 L445.0,461.6 L444.4,462.6 L444.3,463.5 L444.3,464.6 L444.7,465.5 L445.6,467.3 L446.5,469.4 L446.6,470.4 L446.2,471.3 L446.0,472.0 L446.0,472.7 L447.1,474.0 L448.0,475.4 L447.7,476.0 L448.0,476.4 L449.1,477.9 L449.4,478.9 L449.8,479.6 L450.3,480.5 L450.5,481.1 L450.4,481.4 L449.7,481.6 L449.6,481.9 L449.4,482.2 L448.7,482.1 L448.1,481.6 L446.9,480.7 L445.8,480.0 L444.3,478.9 L443.4,478.3 L442.3,477.4 L440.5,475.5 L439.5,474.4 L437.9,472.9 L436.9,471.6 L436.0,469.6 L435.8,467.9 L435.1,466.3 L434.3,464.6 L433.9,463.3 L433.4,462.4 L432.8,461.3 L432.9,459.9 L433.1,458.9 L433.1,457.9 L432.8,457.4 L432.3,457.6 L431.9,457.6 L432.2,456.2 L432.6,454.8 L433.0,453.4 L433.6,452.0 L434.2,450.7 L435.0,449.3 L435.8,448.0 L436.8,446.6 L437.8,445.3 L439.0,444.0 L440.2,442.8 L441.5,441.5 L442.9,440.3 L444.4,439.1 L445.9,437.9 L447.6,436.8 L448.1,436.9Z"/>
<path d="M590.2,457.1 L589.7,456.3 L589.0,456.3 L588.5,456.5 L587.9,457.1 L587.6,457.4 L586.8,457.1 L586.3,457.3 L585.7,457.7 L584.6,456.8 L583.9,456.2 L583.1,455.3 L582.7,454.5 L581.9,453.7 L580.9,452.9 L580.8,452.4 L580.0,451.4 L579.9,450.4 L579.4,449.3 L578.8,448.4 L578.0,447.5 L577.6,446.7 L577.0,445.7 L576.4,444.4 L576.1,443.4 L576.3,443.0 L575.8,441.9 L574.4,440.7 L573.9,439.8 L573.8,439.3 L572.8,438.3 L573.4,438.5 L574.1,438.4 L574.2,438.0 L574.0,437.4 L574.2,437.1 L574.6,436.9 L574.8,436.8 L576.5,437.9 L578.0,439.1 L579.5,440.3 L580.9,441.5 L582.2,442.8 L583.4,444.0 L584.6,445.3 L585.6,446.6 L586.6,448.0 L587.4,449.3 L588.2,450.7 L588.8,452.0 L589.4,453.4 L589.8,454.8 L590.2,456.2 L590.5,457.6 L590.2,457.1Z"/>
<path d="M450.2,469.1 L450.6,469.9 L450.7,470.9 L451.2,472.3 L451.8,473.8 L452.5,475.2 L452.0,475.6 L451.1,475.1 L450.1,474.0 L449.5,472.8 L449.2,471.9 L448.4,470.7 L448.8,470.0 L449.1,469.3 L449.1,468.6 L449.3,467.7 L450.2,469.1Z"/>
<path d="M509.9,428.8 L510.3,429.0 L511.0,429.4 L511.7,429.6 L512.0,430.0 L511.5,430.2 L511.6,430.7 L511.0,430.5 L510.2,430.3 L509.7,430.4 L509.2,430.6 L509.6,430.8 L509.3,431.5 L508.8,431.4 L508.0,431.7 L507.5,432.0 L506.8,432.5 L506.3,432.2 L505.6,432.3 L505.2,432.6 L504.4,433.3 L504.2,434.1 L503.9,434.0 L503.5,434.6 L502.8,435.0 L502.1,435.5 L501.2,436.3 L501.4,435.6 L501.6,434.5 L501.9,434.1 L502.4,433.4 L502.8,433.2 L503.7,432.4 L504.1,432.0 L504.1,431.6 L503.3,431.7 L502.5,432.2 L502.2,432.6 L501.4,432.8 L501.1,432.7 L500.5,432.5 L499.7,432.5 L498.9,432.5 L497.9,433.1 L496.9,433.7 L496.2,434.1 L495.7,434.4 L495.7,434.7 L496.3,434.7 L496.7,435.0 L496.5,435.5 L495.7,436.3 L495.1,437.1 L494.1,437.8 L493.3,438.5 L492.2,439.2 L491.1,439.6 L490.6,439.4 L490.0,439.8 L489.6,439.9 L489.2,440.4 L488.6,440.7 L488.0,441.1 L488.1,441.5 L488.2,442.0 L488.1,442.5 L487.7,443.1 L486.9,443.3 L486.4,443.4 L486.6,442.9 L487.0,442.1 L486.7,441.7 L487.1,441.1 L487.1,440.8 L486.6,440.9 L485.9,441.0 L485.5,441.2 L486.3,440.5 L486.2,440.3 L485.6,440.6 L484.7,441.0 L484.2,441.0 L484.0,441.3 L484.2,441.6 L484.2,442.0 L485.0,441.7 L485.5,441.9 L485.4,442.2 L484.5,442.5 L483.8,442.9 L483.5,443.3 L483.7,443.8 L483.7,444.3 L483.8,444.7 L483.5,445.1 L483.5,445.5 L483.0,446.1 L482.3,446.7 L481.8,447.2 L481.3,447.8 L480.5,448.3 L479.7,448.9 L478.8,449.1 L478.3,449.2 L477.8,449.4 L477.1,449.6 L476.6,450.2 L476.5,449.5 L476.0,449.5 L475.5,449.7 L474.8,450.2 L474.2,450.8 L474.5,451.5 L474.9,452.1 L475.1,452.7 L475.1,453.6 L475.0,454.1 L474.6,454.8 L473.6,455.2 L473.2,455.8 L472.5,456.1 L472.6,455.2 L472.0,454.8 L471.9,454.2 L471.5,454.0 L471.3,453.5 L470.9,453.6 L470.5,454.5 L470.1,455.3 L470.4,456.1 L470.5,456.8 L470.8,457.0 L471.3,457.5 L471.7,458.2 L471.8,459.2 L472.0,459.8 L471.6,459.9 L471.2,459.6 L470.6,459.1 L470.4,458.6 L470.3,457.7 L470.0,457.0 L469.6,456.4 L469.8,455.6 L470.0,454.5 L470.1,453.5 L470.2,452.3 L470.2,451.9 L469.2,452.2 L468.9,452.0 L469.2,450.8 L469.1,450.3 L468.8,449.6 L468.9,448.7 L468.3,449.0 L467.7,448.9 L467.4,449.0 L466.8,449.1 L466.3,449.8 L465.6,450.1 L464.9,450.7 L463.8,451.4 L463.3,451.7 L462.6,452.2 L462.3,453.2 L461.8,454.3 L461.4,455.0 L460.8,455.7 L460.4,456.1 L460.0,455.5 L459.9,454.8 L459.8,453.9 L459.9,453.1 L459.9,452.0 L460.0,451.2 L460.3,450.1 L461.0,448.8 L459.9,449.1 L460.0,448.1 L459.9,447.6 L459.8,446.9 L459.8,446.5 L458.8,446.4 L457.9,446.4 L457.0,446.2 L456.5,445.9 L456.5,445.2 L455.8,445.4 L455.5,444.8 L455.5,444.0 L455.8,443.2 L455.3,443.3 L454.8,443.5 L454.2,444.5 L454.2,445.2 L453.7,446.1 L454.3,445.6 L454.4,445.7 L453.8,446.5 L454.2,446.7 L454.9,446.7 L455.7,446.0 L456.3,445.6 L455.8,446.4 L455.8,447.0 L456.2,447.2 L456.2,447.8 L455.1,448.9 L454.3,449.7 L453.6,450.3 L452.8,450.6 L451.3,451.4 L449.9,451.9 L448.9,452.4 L447.7,453.0 L447.1,453.0 L447.5,451.3 L447.5,450.4 L447.9,448.9 L448.3,447.5 L448.8,446.5 L449.0,445.5 L449.8,444.1 L449.7,443.7 L450.5,442.9 L450.5,442.5 L451.3,441.8 L451.5,441.7 L452.4,441.0 L453.2,440.5 L453.8,440.1 L454.3,439.6 L455.2,438.9 L454.3,439.1 L453.7,439.0 L453.7,438.7 L453.0,438.8 L452.9,438.5 L452.9,438.3 L453.8,437.5 L454.5,436.9 L455.0,436.6 L455.6,436.4 L456.4,436.3 L456.8,436.3 L457.8,436.1 L458.4,436.1 L458.7,436.4 L458.7,436.8 L459.1,437.0 L460.1,436.8 L460.4,436.6 L461.0,435.7 L461.3,435.2 L461.9,434.7 L463.1,434.2 L463.5,433.9 L462.0,434.1 L461.6,434.7 L461.2,434.7 L460.3,434.8 L460.8,434.3 L461.5,434.1 L461.6,433.7 L461.3,433.7 L459.9,434.2 L458.7,434.8 L457.8,435.1 L457.4,435.4 L456.6,435.9 L456.6,436.2 L456.0,436.2 L455.3,436.4 L455.2,436.5 L455.5,436.2 L455.1,436.1 L454.4,436.3 L454.3,436.2 L453.6,436.8 L453.0,437.4 L452.4,437.5 L452.2,437.8 L451.3,438.2 L451.7,437.7 L452.5,437.0 L453.1,436.4 L453.7,435.9 L454.8,435.2 L455.1,434.8 L455.4,434.4 L455.5,434.1 L456.0,433.7 L456.3,433.3 L457.1,432.8 L456.5,432.8 L455.5,433.4 L455.1,433.8 L454.3,434.4 L453.7,435.1 L453.5,435.5 L453.1,436.0 L453.2,435.9 L452.7,435.9 L452.3,436.3 L451.4,436.7 L450.9,436.9 L451.2,436.6 L452.4,435.8 L452.6,435.4 L453.0,435.1 L453.2,434.6 L453.5,434.2 L453.9,433.9 L454.7,433.4 L454.9,433.0 L454.1,433.2 L453.2,433.4 L455.2,432.4 L457.2,431.4 L459.4,430.5 L461.5,429.6 L463.8,428.7 L463.9,428.8 L464.7,428.7 L465.6,428.4 L466.4,428.0 L467.8,427.6 L468.4,427.5 L469.2,427.4 L468.7,427.5 L467.5,427.9 L466.6,428.1 L466.1,428.4 L466.0,428.5 L465.1,428.9 L465.5,428.9 L465.8,428.9 L465.4,429.1 L466.1,429.1 L466.9,429.0 L466.7,429.2 L466.7,429.3 L467.4,429.2 L467.9,429.1 L468.3,428.9 L469.5,428.5 L470.2,428.3 L470.1,428.6 L470.5,428.5 L471.5,428.2 L471.7,428.0 L472.5,427.7 L473.2,427.7 L473.4,427.9 L474.0,427.8 L474.2,427.8 L474.4,427.5 L473.9,427.4 L473.3,427.4 L473.9,427.0 L474.9,426.7 L476.5,426.2 L477.9,426.0 L479.0,425.9 L479.8,425.6 L479.5,425.5 L478.2,425.7 L477.3,425.9 L476.2,426.0 L475.3,426.2 L473.5,426.7 L472.8,427.1 L471.9,427.3 L470.8,427.5 L469.7,427.9 L468.2,428.3 L467.9,428.3 L467.0,428.5 L467.1,428.3 L468.1,428.0 L469.7,427.3 L470.9,426.9 L471.6,426.6 L470.7,426.8 L469.7,427.0 L469.2,427.0 L469.3,426.8 L471.7,426.1 L474.2,425.4 L474.8,425.4 L476.0,425.2 L477.3,425.1 L479.3,424.7 L481.3,424.4 L483.3,424.1 L484.7,424.0 L484.8,424.1 L485.0,424.2 L485.1,424.3 L485.3,424.4 L485.5,424.5 L485.3,424.6 L485.1,424.8 L485.1,425.0 L485.2,425.1 L485.3,425.2 L485.4,425.4 L483.7,425.8 L483.2,425.8 L482.7,425.8 L481.7,425.7 L481.7,425.9 L480.6,426.5 L479.2,426.9 L480.4,426.8 L482.4,426.2 L482.9,426.3 L485.1,425.7 L485.0,425.9 L484.9,426.1 L484.8,426.3 L485.6,426.2 L486.4,426.1 L486.8,426.1 L487.2,426.2 L487.7,426.2 L488.3,426.2 L488.9,426.1 L489.4,426.1 L489.3,426.4 L488.0,426.9 L487.0,427.4 L487.6,427.4 L489.5,426.7 L490.4,426.3 L490.7,426.4 L491.0,426.5 L491.3,426.6 L491.6,426.6 L491.9,426.7 L492.2,426.8 L492.5,426.8 L492.8,426.9 L493.1,426.9 L493.5,427.0 L493.8,427.1 L494.1,427.1 L494.5,427.2 L494.8,427.2 L495.2,427.3 L495.5,427.3 L495.9,427.4 L496.2,427.4 L496.6,427.5 L496.9,427.5 L497.3,427.6 L497.7,427.6 L498.0,427.7 L498.4,427.7 L498.8,427.8 L499.2,427.8 L499.5,427.8 L499.9,427.9 L500.3,427.9 L500.7,427.9 L501.1,428.0 L501.5,428.0 L501.9,428.0 L502.3,428.1 L502.7,428.1 L503.1,428.1 L503.5,428.1 L503.9,428.2 L504.3,428.2 L504.7,428.2 L505.1,428.2 L505.5,428.2 L505.9,428.3 L506.3,428.3 L506.7,428.3 L507.1,428.3 L507.5,428.3 L507.9,428.3 L508.3,428.3 L508.7,428.3 L509.2,428.3 L509.6,428.4 L509.9,428.8Z"/>
<path d="M568.5,433.4 L568.8,433.7 L569.8,434.3 L570.1,434.6 L570.1,435.0 L571.2,435.8 L571.8,436.2 L572.2,436.6 L573.0,437.5 L572.5,437.7 L572.7,438.1 L572.5,438.1 L571.8,437.7 L571.3,437.6 L571.1,437.8 L570.4,437.3 L569.6,436.9 L568.2,435.8 L567.1,435.2 L566.2,434.7 L565.9,434.3 L566.4,434.2 L567.0,434.1 L567.3,434.0 L567.5,433.9 L566.5,433.4 L565.1,432.6 L564.2,432.3 L563.6,432.1 L562.8,432.0 L562.2,431.8 L562.1,431.4 L562.4,431.4 L561.4,430.9 L561.9,431.1 L561.7,430.8 L561.4,430.4 L560.6,430.1 L560.5,429.8 L560.0,429.5 L559.4,429.2 L558.6,428.7 L560.9,429.6 L563.0,430.5 L565.2,431.4 L567.2,432.4 L569.2,433.4 L568.5,433.4Z"/>
<path d="M551.7,426.5 L550.3,426.1 L548.7,425.6 L548.2,425.4 L550.7,426.1 L553.1,426.8 L551.7,426.5Z"/>
<path d="M559.5,430.5 L559.4,430.2 L558.8,430.3 L558.5,430.0 L557.7,429.8 L557.5,429.5 L556.7,429.2 L555.7,428.8 L555.6,429.0 L555.0,428.8 L553.6,428.4 L552.6,428.0 L551.4,427.5 L551.6,427.4 L552.9,427.6 L553.6,427.9 L555.2,428.4 L556.5,428.8 L557.7,429.1 L558.8,429.3 L560.2,430.0 L560.5,430.4 L560.5,430.8 L560.3,431.1 L559.5,430.5Z"/>
<path d="M558.2,430.5 L558.3,430.7 L557.7,430.6 L557.2,430.2 L556.3,429.9 L555.5,429.6 L555.6,429.5 L555.0,429.2 L554.7,429.0 L554.9,428.9 L555.6,429.1 L556.3,429.4 L556.8,429.6 L558.2,430.2 L558.2,430.5Z"/>
<path d="M540.6,425.9 L541.2,425.8 L541.4,425.7 L541.2,425.5 L541.8,425.5 L542.9,425.7 L543.9,426.2 L544.5,426.6 L544.1,426.7 L543.1,426.6 L541.5,426.2 L541.6,426.2 L540.6,425.9Z"/>
<path d="M488.4,443.5 L489.0,443.0 L489.6,443.1 L490.5,443.0 L491.1,442.3 L491.6,442.3 L492.4,441.9 L492.9,441.1 L493.1,440.7 L493.6,440.4 L493.8,440.5 L493.6,441.3 L493.2,441.9 L492.8,442.5 L492.4,443.1 L491.9,443.4 L491.6,443.5 L491.3,443.6 L490.8,443.5 L490.5,443.7 L490.1,444.0 L489.7,443.9 L490.0,443.5 L489.5,443.4 L488.8,443.6 L488.2,443.8 L488.1,443.7 L488.4,443.5Z"/>
<path d="M488.1,443.8 L488.3,444.2 L487.8,444.9 L487.5,445.0 L487.2,445.1 L487.3,444.4 L487.4,444.1 L488.1,443.8Z"/>
<path d="M488.9,443.7 L489.5,443.6 L489.6,443.9 L488.7,444.3 L488.5,444.2 L488.9,443.7Z"/>
<path d="M493.6,439.8 L494.2,439.5 L494.8,438.6 L495.0,438.8 L495.3,439.2 L495.8,439.6 L495.5,439.7 L494.7,440.2 L494.1,439.9 L493.6,440.2 L493.3,440.3 L493.6,439.8Z"/>
<path d="M495.7,437.0 L496.5,435.8 L497.0,435.0 L497.4,434.6 L497.2,435.3 L496.7,436.1 L496.6,437.0 L496.1,437.0 L495.7,437.6 L495.7,438.1 L495.1,438.3 L495.7,437.0Z"/>
<path d="M482.1,447.9 L482.5,448.0 L481.9,449.0 L481.4,449.5 L481.3,448.9 L482.1,447.9Z"/>
<path d="M476.5,450.3 L476.7,450.5 L475.9,451.2 L475.6,450.7 L476.5,450.3Z"/>
<path d="M480.3,452.3 L480.8,451.2 L481.6,451.2 L481.5,452.0 L480.9,452.6 L481.0,453.4 L481.8,453.6 L481.8,454.2 L481.3,454.0 L480.7,453.6 L480.3,453.4 L480.3,452.3Z"/>
<path d="M481.4,454.8 L482.3,454.3 L482.4,455.0 L481.9,455.5 L481.2,455.9 L480.8,455.8 L480.6,455.3 L480.7,454.6 L481.4,454.8Z"/>
<path d="M481.1,456.6 L481.5,456.3 L482.2,455.7 L482.6,456.9 L482.2,457.5 L481.9,457.8 L481.3,457.4 L480.4,457.0 L481.1,456.6Z"/>
<path d="M478.8,455.7 L479.5,454.8 L479.6,455.2 L478.9,455.8 L478.4,456.4 L478.2,456.3 L478.8,455.7Z"/>
<path d="M474.5,459.5 L475.1,459.8 L475.3,459.3 L476.0,458.9 L476.6,458.3 L477.3,458.0 L477.6,457.3 L478.1,457.0 L478.3,457.3 L479.0,457.9 L478.4,458.3 L478.3,459.3 L478.7,460.0 L478.2,460.1 L478.1,460.6 L477.6,461.1 L477.7,461.9 L477.5,462.5 L476.8,462.7 L475.5,462.4 L474.7,462.2 L474.4,461.1 L474.2,459.8 L474.5,459.5Z"/>
<path d="M469.0,457.8 L469.4,458.6 L470.2,459.4 L470.7,459.8 L471.4,460.3 L471.7,461.1 L472.1,461.5 L472.8,462.2 L472.8,462.9 L472.8,463.6 L472.2,463.6 L471.1,462.7 L470.5,461.9 L470.1,461.1 L469.6,460.3 L469.5,459.7 L468.8,459.0 L468.0,457.6 L469.0,457.8Z"/>
<path d="M473.0,463.7 L474.0,463.9 L475.2,463.9 L476.1,464.2 L477.0,464.6 L477.0,465.1 L475.4,464.8 L474.0,464.7 L473.2,464.5 L472.6,464.2 L473.0,463.7Z"/>
<path d="M477.9,465.0 L479.1,464.9 L480.7,464.8 L481.9,464.8 L482.8,464.8 L481.9,465.4 L481.3,465.8 L479.9,465.7 L478.2,465.2 L477.2,465.1 L477.2,464.8 L477.9,465.0Z"/>
<path d="M478.7,462.0 L479.1,461.4 L479.3,460.8 L479.5,460.3 L480.1,460.3 L479.7,460.4 L480.0,461.1 L480.8,461.1 L479.9,461.5 L480.0,462.4 L480.7,462.8 L480.5,463.1 L479.8,462.9 L479.5,462.1 L479.6,463.4 L479.1,463.4 L478.7,462.0Z"/>
<path d="M483.3,459.6 L483.4,460.3 L483.2,461.0 L482.8,460.8 L482.8,459.8 L483.3,459.6Z"/>
<path d="M485.2,460.8 L486.0,461.1 L486.2,461.9 L486.4,462.3 L487.1,461.8 L487.7,461.4 L488.3,461.6 L489.3,461.9 L490.0,462.2 L491.0,462.5 L491.6,463.2 L492.5,463.7 L492.7,464.6 L493.1,465.1 L493.6,465.5 L494.2,465.8 L493.8,465.9 L492.9,465.6 L492.2,465.1 L491.8,464.6 L491.1,464.4 L490.6,464.7 L490.5,465.2 L489.7,465.2 L489.0,464.7 L488.3,464.8 L487.9,464.5 L488.2,464.0 L487.8,463.3 L486.7,462.8 L485.7,462.6 L485.4,462.7 L485.0,462.0 L485.7,461.9 L485.0,461.7 L484.5,461.2 L485.2,460.8Z"/>
<path d="M493.7,463.3 L494.4,462.7 L494.8,462.7 L494.6,463.3 L493.9,463.7 L492.9,463.4 L493.7,463.3Z"/>
<path d="M478.6,472.1 L478.7,471.7 L479.0,471.6 L479.4,471.1 L479.5,471.1 L480.3,470.9 L480.6,470.8 L481.2,470.5 L481.3,470.1 L481.5,469.7 L482.0,469.4 L482.3,468.9 L482.4,468.2 L482.9,467.7 L483.2,467.7 L483.8,468.3 L484.5,468.1 L484.5,467.2 L484.9,466.7 L485.4,466.3 L485.6,466.4 L486.8,466.7 L487.4,466.6 L487.7,466.8 L487.6,467.3 L487.2,467.9 L487.4,468.1 L488.4,468.6 L489.3,469.3 L490.0,469.3 L490.2,468.8 L490.0,467.4 L490.1,466.8 L490.3,465.9 L490.9,466.9 L491.0,467.6 L491.4,467.7 L491.9,468.1 L492.3,469.0 L492.6,470.0 L493.9,470.6 L494.4,471.6 L495.0,471.7 L495.5,472.4 L496.3,473.1 L496.8,474.3 L496.8,475.3 L496.8,476.4 L496.5,477.1 L496.3,478.0 L496.3,478.4 L496.4,478.9 L495.6,479.2 L495.3,479.7 L494.5,479.1 L494.2,479.3 L493.6,479.4 L492.8,479.2 L492.4,478.9 L492.1,478.5 L491.5,478.1 L491.1,478.1 L491.0,477.7 L490.6,476.9 L490.1,477.3 L490.1,477.8 L489.3,476.9 L488.5,476.5 L487.6,476.3 L486.4,476.4 L485.7,476.7 L485.1,477.1 L485.0,477.6 L484.4,477.6 L483.6,477.7 L483.1,478.2 L482.5,478.2 L481.7,477.9 L481.7,477.4 L481.0,476.6 L480.4,475.6 L479.4,474.1 L478.8,473.1 L478.2,471.9 L478.6,472.1Z"/>
<path d="M495.5,480.6 L496.4,480.5 L496.6,481.1 L496.7,481.5 L496.4,481.7 L495.9,481.7 L495.4,481.1 L494.9,480.4 L495.5,480.6Z"/>
<path d="M505.9,477.6 L506.4,478.0 L506.8,478.2 L507.1,478.7 L507.5,478.9 L508.1,478.8 L508.0,479.5 L507.6,479.6 L507.5,479.9 L507.0,480.6 L506.7,480.4 L506.8,479.8 L506.3,479.5 L506.5,478.9 L506.4,478.4 L506.0,477.8 L505.6,477.2 L505.9,477.6Z"/>
<path d="M506.2,480.4 L506.6,480.6 L506.5,481.0 L506.1,481.5 L505.6,481.9 L505.5,482.6 L505.1,482.9 L504.7,482.9 L504.0,482.6 L504.0,482.3 L504.5,481.7 L505.2,481.2 L505.5,480.7 L505.7,480.3 L505.9,480.1 L506.2,480.4Z"/>
<path d="M461.5,455.9 L461.8,455.2 L462.0,456.0 L462.2,456.5 L462.0,457.2 L461.5,457.4 L461.2,457.2 L461.5,455.9Z"/>
<path d="M551.7,448.6 L552.3,448.4 L552.9,448.4 L553.4,448.6 L554.5,449.0 L555.3,449.3 L556.2,449.8 L555.7,450.0 L554.8,450.0 L554.9,449.6 L554.1,449.2 L553.2,449.0 L552.6,448.9 L551.7,448.9 L551.3,449.1 L551.7,448.6Z"/>
<path d="M556.9,449.9 L557.9,449.9 L558.4,450.1 L559.0,450.5 L558.3,450.8 L557.9,451.0 L557.4,450.8 L556.5,450.7 L556.9,449.9Z"/>
<path d="M555.4,450.7 L555.9,451.0 L555.6,451.1 L554.9,450.8 L555.4,450.7Z"/>
<path d="M560.3,450.5 L560.3,450.8 L559.7,450.8 L559.6,450.6 L560.3,450.5Z"/>
<path d="M549.4,434.4 L548.2,433.5 L550.3,434.4 L551.8,435.2 L552.1,435.6 L551.3,435.6 L550.4,435.4 L549.8,435.5 L549.4,434.4Z"/>
<path d="M528.3,436.9 L526.7,436.1 L527.4,436.3 L528.2,436.6 L529.1,437.1 L528.3,436.9Z"/>
<path d="M535.5,428.1 L537.1,429.0 L537.4,429.5 L535.7,429.2 L534.4,428.9 L533.2,428.6 L532.7,428.2 L532.2,427.7 L530.9,427.3 L529.6,426.9 L529.9,426.8 L530.2,426.8 L530.5,426.7 L530.8,426.6 L531.1,426.6 L531.4,426.5 L533.1,427.0 L534.7,427.5 L535.5,428.1Z"/>
<path d="M531.3,428.9 L531.5,428.6 L532.9,429.0 L533.3,429.4 L532.8,429.4 L532.3,429.5 L531.3,428.9Z"/>
<path d="M501.7,471.0 L502.4,471.5 L502.2,471.5 L501.1,470.7 L500.9,470.5 L501.7,471.0Z"/>
<path d="M507.7,469.2 L507.6,469.5 L507.1,469.4 L507.1,469.1 L507.7,469.2Z"/>
<path d="M508.3,468.5 L508.1,468.8 L507.8,468.8 L507.8,468.5 L508.3,468.5Z"/>
<path d="M520.0,450.7 L520.2,451.1 L519.8,451.3 L519.6,450.9 L520.0,450.7Z"/>
<path d="M497.6,464.3 L498.6,465.2 L499.3,465.5 L499.6,465.8 L498.6,465.4 L497.9,464.7 L496.8,463.9 L497.6,464.3Z"/>
<path d="M502.3,468.2 L502.8,468.7 L502.9,469.3 L502.7,469.0 L502.0,468.4 L501.9,467.9 L502.3,468.2Z"/>
<path d="M484.5,497.1 L484.6,497.0 L484.7,496.9 L484.7,496.8 L484.8,496.7 L484.9,496.5 L485.0,496.4 L485.0,496.3 L485.1,496.2 L485.2,496.0 L485.3,495.9 L485.1,495.7 L484.8,495.5 L484.6,495.2 L484.5,495.0 L484.3,494.8 L484.3,494.5 L484.3,494.3 L485.2,494.4 L486.2,494.5 L486.7,494.5 L487.1,494.5 L487.6,494.5 L488.1,494.4 L488.6,494.4 L490.3,494.9 L490.0,495.0 L489.7,495.0 L489.4,495.1 L489.2,495.2 L488.9,495.3 L488.7,495.3 L488.4,495.4 L488.2,495.5 L487.9,495.6 L487.7,495.7 L487.5,495.8 L487.2,495.8 L487.0,495.9 L486.8,496.0 L486.6,496.1 L486.4,496.2 L486.2,496.3 L486.0,496.4 L485.9,496.5 L485.7,496.6 L485.5,496.7 L485.3,496.8 L485.2,496.9 L485.0,497.0 L484.9,497.1 L484.8,497.2 L484.6,497.3 L484.5,497.4 L484.4,497.5 L484.3,497.6 L484.2,497.7 L484.2,497.6 L484.3,497.5 L484.4,497.4 L484.4,497.3 L484.5,497.1Z"/>
<path d="M490.2,494.6 L489.7,494.2 L489.3,493.7 L489.5,493.6 L489.7,493.4 L489.9,493.3 L490.1,493.1 L490.3,493.0 L490.5,492.9 L490.8,492.7 L491.1,492.6 L491.4,492.5 L491.7,492.4 L492.1,492.4 L492.6,492.3 L493.0,492.3 L493.4,492.2 L493.9,492.2 L494.4,492.2 L494.8,492.2 L495.3,492.2 L495.8,492.2 L496.3,492.1 L496.7,492.1 L497.0,492.0 L497.5,491.9 L497.9,491.9 L498.3,491.8 L498.8,491.8 L499.2,491.8 L499.7,491.8 L500.2,491.8 L500.7,491.9 L501.3,492.0 L501.8,492.1 L502.4,492.2 L502.9,492.3 L503.4,492.4 L504.0,492.5 L504.5,492.6 L504.9,492.7 L505.4,492.8 L505.9,492.9 L505.5,493.0 L505.1,493.0 L504.7,493.0 L504.3,493.0 L503.9,493.0 L503.5,493.1 L503.1,493.1 L502.7,493.1 L502.3,493.1 L501.9,493.2 L501.5,493.2 L501.2,493.2 L500.8,493.3 L500.4,493.3 L500.0,493.3 L499.6,493.4 L499.3,493.4 L498.9,493.4 L498.5,493.5 L498.1,493.5 L497.8,493.6 L497.4,493.6 L497.1,493.6 L496.7,493.7 L496.3,493.7 L496.0,493.8 L495.6,493.8 L495.3,493.9 L495.0,493.9 L494.6,494.0 L494.3,494.1 L494.0,494.1 L493.6,494.2 L493.3,494.2 L493.0,494.3 L492.7,494.3 L492.3,494.4 L492.0,494.5 L491.7,494.5 L491.4,494.6 L491.1,494.7 L490.8,494.7 L490.6,494.8 L490.3,494.9 L490.2,494.6Z"/>
<path d="M531.1,494.4 L533.1,493.7 L534.7,493.2 L536.5,492.8 L537.8,492.5 L538.6,492.5 L537.6,492.9 L536.1,493.2 L534.1,493.9 L531.8,494.8 L531.5,494.7 L531.1,494.6 L530.8,494.6 L530.4,494.5 L531.1,494.4Z"/>
</g>
<g fill="none" stroke="#3a2020" stroke-width="0.45" stroke-opacity="0.85">
<path d="M529.0,436.8 L529.7,436.8 L530.5,436.7 L531.2,436.7 L531.9,436.7 L532.6,436.6 L533.3,436.6 L534.1,436.5 L534.8,436.5 L535.5,436.4 L536.2,436.3 L536.9,436.3 L537.5,436.2 L538.2,436.2 L538.0,436.0 L539.2,436.2 L540.4,436.4 L541.6,436.7 L542.8,437.0 L544.0,437.5 L545.3,438.8 L546.1,438.3 L546.5,437.8 L546.7,437.3 L547.8,437.2 L547.5,436.4 L547.1,436.0 L547.7,436.1 L548.5,436.8 L549.2,437.1"/>
<path d="M535.4,444.4 L536.3,444.3 L538.2,444.9 L539.3,444.8 L539.9,444.6 L541.3,445.6 L542.1,445.9 L542.5,445.5 L543.9,446.6 L545.2,447.3"/>
<path d="M518.0,428.4 L518.6,429.3 L519.3,430.2 L519.8,431.2 L520.4,432.2 L521.0,432.3 L521.7,432.7 L522.1,432.4 L523.5,433.5 L524.7,433.9"/>
<path d="M549.3,453.0 L549.1,451.3 L549.5,451.3 L550.3,451.3 L550.6,450.9"/>
<path d="M550.3,451.3 L550.6,452.3 L551.1,452.4"/>
<path d="M550.8,453.1 L551.4,453.3 L551.9,453.8 L552.4,453.5 L552.6,452.7 L553.4,452.7"/>
<path d="M551.7,453.6 L552.6,454.3 L552.8,454.7 L553.7,454.8"/>
<path d="M554.3,456.1 L554.2,455.5"/>
<path d="M540.2,437.1 L540.5,436.6 L540.7,436.2 L542.0,436.4 L542.7,437.0 L542.0,437.1 L541.2,437.0 L540.2,437.1"/>
<path d="M543.7,439.2 L542.7,438.0 L542.6,437.3 L543.0,437.3 L543.3,438.2 L544.1,439.0 L543.7,439.2"/>
<path d="M544.4,438.2 L544.0,437.5 L544.4,437.5 L545.2,437.8 L545.2,438.4 L544.4,438.2"/>
<path d="M545.4,439.2 L546.3,438.8 L546.3,438.5 L545.7,438.8 L545.4,439.2"/>
<path d="M545.9,438.4 L546.9,438.1 L546.6,437.9 L545.8,438.2 L545.9,438.4"/>
<path d="M527.5,431.2 L526.6,431.0 L526.6,431.5 L527.4,431.5 L527.5,431.2"/>
<path d="M523.8,429.7 L523.1,429.6 L523.0,429.9 L523.6,429.9 L524.3,429.9 L523.8,429.7"/>
<path d="M536.9,435.5 L535.7,434.7 L534.9,434.3 L535.2,434.1 L536.6,435.1 L536.9,435.5"/>
<path d="M532.9,433.3 L531.6,432.9 L529.8,432.1 L529.1,432.3 L530.0,432.4 L530.8,432.5 L531.8,432.9 L532.9,433.3"/>
<path d="M558.8,470.1 L558.2,471.5 L557.5,472.9 L557.6,473.8 L556.7,475.1 L555.1,476.7 L553.9,478.2 L552.5,479.7 L550.8,481.1 L549.2,482.6 L548.2,483.5 L546.4,484.9 L544.7,486.0 L544.0,486.7 L543.5,487.3 L544.3,487.5"/>
<path d="M558.8,470.1 L559.5,468.8 L560.0,467.4 L559.5,466.6 L558.6,465.7 L558.8,464.4 L559.1,463.3 L560.4,462.9 L560.4,461.8 L558.9,461.1 L558.0,460.7 L557.1,460.2 L556.5,459.8"/>
<path d="M555.8,462.4 L556.6,463.3 L557.8,462.2 L558.0,460.7"/>
<path d="M560.4,462.9 L560.7,461.1 L560.5,460.1 L560.9,459.6 L561.5,459.5 L561.3,458.4 L561.3,457.2 L560.2,456.8 L559.3,456.5 L559.0,455.7 L558.5,454.5"/>
<path d="M561.5,459.5 L563.1,459.8 L563.7,458.4 L564.5,458.1 L564.3,457.7 L564.0,457.3 L564.4,456.0"/>
<path d="M564.5,458.1 L565.0,459.8 L566.3,459.5 L567.4,459.3 L568.2,459.5 L568.3,458.2"/>
<path d="M558.8,470.1 L559.0,471.3 L559.2,472.6 L560.0,472.6 L560.5,472.8 L560.7,473.5 L561.4,474.4 L560.5,475.7 L561.8,475.6 L562.5,474.8"/>
<path d="M560.5,472.8 L561.5,471.5 L562.8,471.8 L563.9,469.7 L563.2,468.9 L563.3,468.3 L562.6,467.5 L561.9,466.7 L561.0,467.0 L560.0,467.4"/>
<path d="M562.8,471.8 L562.9,473.0 L562.7,473.9 L562.5,474.8"/>
<path d="M560.5,475.7 L559.6,477.2 L560.2,477.2 L560.1,478.5 L559.4,479.3"/>
<path d="M578.0,447.5 L578.6,447.4 L579.3,447.3 L578.4,446.1 L577.3,444.3 L577.3,443.1 L576.6,442.3 L577.0,441.5 L576.4,440.5 L576.3,439.8 L574.5,438.5"/>
<path d="M577.3,443.1 L578.7,443.8 L580.0,444.5 L579.8,444.9 L580.9,446.1 L581.9,447.4 L582.8,448.7 L583.7,449.9 L583.1,450.2 L582.5,450.4 L581.9,450.7 L581.9,451.1 L580.9,450.8 L579.9,450.4"/>
<path d="M580.0,444.5 L581.3,445.2 L582.6,445.9 L583.9,446.6 L585.6,447.4 L587.0,449.7 L586.2,450.5 L585.8,450.6 L585.7,451.3 L585.6,452.5 L585.4,453.7 L584.6,454.0 L584.2,453.1 L582.6,452.6 L581.7,452.7 L580.9,452.8"/>
<path d="M585.4,453.7 L586.5,454.2 L587.0,455.7 L587.4,457.3"/>
<path d="M586.2,450.5 L587.0,451.8 L587.6,452.1 L588.2,452.6 L588.7,453.8 L588.6,454.5 L589.1,456.3"/>
<path d="M438.8,445.6 L440.1,445.1 L440.3,445.8 L439.9,446.9 L439.3,448.0 L438.2,449.5 L437.3,450.7 L436.5,451.9 L436.3,451.6 L435.2,451.6 L434.1,451.3"/>
<path d="M438.8,445.6 L440.0,444.4 L441.0,443.2 L443.4,440.9 L446.0,439.3"/>
<path d="M440.1,445.1 L440.3,445.8 L440.8,446.3 L441.3,446.7 L441.8,447.3 L442.3,447.9 L442.7,448.0 L443.5,446.7 L444.6,445.3 L445.9,443.9 L447.2,442.5 L448.7,441.1"/>
<path d="M442.3,447.9 L441.5,449.2 L440.7,450.6 L439.7,451.6 L439.1,452.5 L439.0,453.6 L439.8,454.1 L440.3,454.5 L441.2,454.5 L441.8,454.5 L443.0,453.1 L442.9,454.7 L442.5,455.3 L442.6,457.5"/>
<path d="M443.5,446.7 L444.3,446.8 L445.1,447.0 L445.9,447.1 L446.8,447.2 L447.6,447.3"/>
<path d="M447.6,447.3 L446.7,448.4 L446.2,449.6 L446.5,450.0 L446.2,451.8 L446.7,453.1"/>
<path d="M439.9,446.9 L440.0,447.9 L440.2,448.8 L440.4,449.7 L440.7,450.6"/>
<path d="M436.5,451.9 L436.0,454.0 L435.6,454.3 L435.7,455.6 L437.0,454.8 L438.2,454.1 L439.1,452.5"/>
<path d="M436.3,451.6 L435.1,453.9 L434.2,456.0 L433.6,456.0 L433.0,457.2"/>
<path d="M435.7,455.6 L435.0,457.6 L435.3,459.1 L434.3,459.1 L433.6,459.1 L433.1,459.0"/>
<path d="M435.3,459.1 L436.3,458.3 L437.1,458.1 L437.8,457.9 L438.8,457.4 L439.8,457.4 L440.9,458.4 L440.9,459.2 L440.4,461.4 L440.2,462.2 L440.5,463.4 L440.9,464.6 L441.4,465.8 L440.6,466.0 L441.1,467.2 L441.2,468.4 L442.0,469.0 L440.8,468.2 L439.7,467.9 L438.7,467.7 L438.1,465.8 L437.2,465.8 L436.5,465.9 L435.7,464.4 L434.3,464.6"/>
<path d="M442.6,457.5 L443.5,458.4 L444.2,458.5 L444.9,458.2 L444.7,459.9 L444.8,461.6"/>
<path d="M442.6,457.5 L442.2,458.0 L442.0,459.7 L442.0,461.2 L440.7,461.3 L440.4,461.4"/>
<path d="M442.0,461.2 L442.7,461.8 L443.5,462.4 L444.2,463.5"/>
<path d="M440.7,461.3 L440.8,462.0 L440.8,463.5 L441.3,464.7 L442.3,466.4 L442.7,466.6 L443.6,467.7 L444.6,467.3 L445.5,467.0"/>
<path d="M439.7,467.9 L439.9,468.9 L439.2,469.0 L440.2,471.1 L441.3,472.0 L441.9,471.9 L442.5,471.9 L442.6,470.6 L443.0,470.3 L443.5,469.3 L442.9,467.9 L442.5,466.5"/>
<path d="M440.2,471.1 L440.2,472.2 L441.0,473.5 L441.9,474.7 L443.2,476.4 L445.3,478.6 L444.6,478.8"/>
<path d="M437.1,472.1 L437.9,472.1 L438.7,472.0 L439.4,471.9 L440.5,472.2 L441.3,472.0"/>
<path d="M443.2,476.4 L444.4,476.7 L445.5,476.7 L445.1,475.6 L445.2,474.5 L445.8,474.4 L447.0,475.7 L448.3,476.9"/>
<path d="M442.6,470.6 L444.1,470.8 L444.9,472.0 L445.9,473.8 L445.8,474.4"/>
<path d="M446.8,453.7 L446.6,455.2 L447.3,455.5 L448.1,455.8 L447.5,457.6 L446.9,458.7 L446.3,459.7 L445.6,458.9 L444.9,458.2 L444.7,459.9 L444.8,461.6"/>
<path d="M567.1,435.2 L567.6,435.1 L568.5,435.5 L570.0,436.6 L571.3,437.6"/>
<path d="M567.4,433.9 L568.5,434.0 L569.4,434.0"/>
<path d="M560.7,430.0 L562.0,430.3"/>
<path d="M459.6,430.4 L459.4,430.8 L457.9,431.4 L456.2,431.9 L455.4,432.5 L454.1,433.2"/>
<path d="M459.6,430.4 L461.0,429.8 L462.0,429.4 L462.7,429.2 L463.9,428.8"/>
<path d="M465.4,429.1 L464.1,429.7 L462.5,430.5 L461.4,430.6 L460.0,431.4 L458.7,431.9 L458.2,431.7 L458.1,431.6 L457.9,431.4"/>
<path d="M458.7,431.9 L458.1,432.1 L457.8,432.4 L458.4,432.6 L459.9,432.0 L460.4,431.7 L460.4,431.4 L460.0,431.4"/>
<path d="M458.4,432.6 L458.2,433.1 L458.7,433.0 L459.1,433.1 L460.9,432.4 L460.9,432.0 L459.9,432.0"/>
<path d="M462.5,430.5 L462.1,430.9 L461.7,431.4 L461.9,431.9 L463.6,431.4 L465.2,430.6 L467.0,429.8 L467.3,429.6 L466.8,429.3"/>
<path d="M460.9,432.4 L461.4,432.5 L461.9,432.6 L460.8,433.5 L459.8,434.1 L460.0,434.2"/>
<path d="M459.1,433.1 L457.5,434.2 L457.6,434.6 L458.5,434.9"/>
<path d="M457.5,434.2 L455.9,435.2 L455.2,435.7 L456.2,435.7 L456.9,435.7"/>
<path d="M454.8,435.2 L455.6,434.9 L455.9,435.2"/>
<path d="M457.0,432.9 L458.0,432.7 L458.4,432.6"/>
<path d="M465.2,430.6 L465.3,430.9 L465.5,431.1 L465.7,431.4 L466.5,431.3 L467.1,431.3 L465.8,432.2 L465.9,432.6 L465.9,432.9 L464.5,433.7 L463.5,433.9"/>
<path d="M463.6,431.4 L462.3,432.5 L462.3,432.9 L461.1,433.6"/>
<path d="M467.0,429.8 L467.6,429.8 L469.4,429.3 L469.9,429.3 L469.9,429.5 L468.3,430.4 L466.5,431.3"/>
<path d="M468.7,428.8 L469.5,428.8 L469.2,429.3 L469.9,429.3 L471.0,428.7 L471.5,428.5 L471.4,428.3 L470.9,428.3"/>
<path d="M471.5,428.5 L473.2,428.0"/>
<path d="M474.7,427.7 L475.9,427.2 L477.5,426.9 L478.8,426.3 L480.3,425.9 L481.8,425.4 L483.1,425.1 L484.2,424.7 L485.1,424.6"/>
<path d="M470.9,427.0 L473.2,426.3 L475.6,425.6 L477.6,425.3 L479.5,424.9 L482.1,424.4 L483.5,424.3 L484.2,424.2"/>
<path d="M480.0,425.5 L482.6,424.8 L483.6,424.3"/>
<path d="M455.5,436.2 L456.2,435.9 L456.9,435.7"/>
<path d="M459.4,438.0 L458.1,439.2 L457.3,439.2 L456.9,439.1 L455.8,439.1 L455.0,439.3"/>
<path d="M458.1,439.2 L457.5,440.0 L456.9,440.7 L456.4,441.0 L456.1,441.6 L455.3,442.8 L455.0,443.3"/>
<path d="M457.3,439.2 L456.0,439.9 L455.2,440.5 L453.4,441.5 L452.7,441.4 L452.5,441.1"/>
<path d="M453.4,441.5 L452.3,441.9 L452.0,442.5 L450.7,443.1 L450.5,442.9"/>
<path d="M455.2,440.5 L455.1,441.2 L455.1,441.9 L454.1,443.7 L454.4,443.8"/>
<path d="M452.7,441.4 L453.9,440.9 L455.2,440.5"/>
<path d="M455.0,439.3 L454.8,439.5 L454.0,439.9"/>
<path d="M454.1,443.7 L453.5,443.5 L453.6,442.3 L453.3,441.7"/>
<path d="M453.8,446.5 L453.4,447.3 L454.5,447.6 L454.5,448.0 L453.5,449.1 L452.1,449.5 L450.6,449.9 L449.4,450.4 L448.9,450.3 L448.3,450.1 L447.8,450.8"/>
<path d="M454.5,447.6 L455.8,446.4"/>
<path d="M459.4,438.0 L459.9,437.7 L461.1,437.4 L461.7,437.0 L461.7,436.5 L461.7,436.2 L461.1,435.8"/>
<path d="M459.4,438.0 L459.7,437.9 L459.8,438.8 L460.1,438.8"/>
<path d="M461.1,439.6 L461.9,439.4 L462.5,439.4 L462.9,439.8 L462.9,440.4 L462.4,440.9 L461.2,441.8 L460.2,443.0 L460.3,443.4 L459.5,443.9 L458.3,445.8 L457.9,446.4"/>
<path d="M459.5,443.9 L460.3,444.2 L461.5,444.1 L462.2,443.2 L463.4,443.1 L464.5,442.4 L464.4,442.1 L465.4,441.7 L466.3,440.9 L467.3,440.7 L467.8,440.8"/>
<path d="M462.4,440.9 L463.0,440.9 L464.5,440.2 L465.4,440.4 L466.2,440.3 L467.0,440.2 L466.9,440.7 L468.0,440.6"/>
<path d="M467.8,440.8 L466.4,441.9 L466.0,442.9 L465.4,443.3 L464.5,444.0 L462.8,445.3 L462.0,445.4 L461.4,445.9 L461.4,446.5 L460.1,447.4"/>
<path d="M467.8,440.8 L468.1,441.6 L467.4,443.2 L466.7,443.8 L466.8,444.4 L467.1,444.5 L467.7,445.0 L468.2,445.7 L469.1,445.8 L469.2,446.0 L469.7,445.7 L470.5,446.1 L472.0,445.3 L472.7,445.3 L472.9,445.8 L472.3,447.2 L472.6,447.5 L471.8,448.1 L471.9,449.1 L472.2,449.0 L472.8,449.3 L473.3,448.9 L473.8,448.9 L474.5,448.8 L475.1,448.8 L475.3,449.1 L475.8,449.5"/>
<path d="M466.8,444.4 L466.2,445.1 L466.3,445.9 L467.3,446.0 L467.9,446.2 L468.6,446.5 L469.1,445.8"/>
<path d="M468.6,446.5 L469.0,446.8 L469.8,447.4 L469.6,448.0 L469.1,449.3"/>
<path d="M468.6,446.5 L468.5,447.3 L468.0,447.7 L468.1,448.0 L467.8,448.9"/>
<path d="M469.8,447.4 L470.1,447.9 L470.4,448.0 L470.9,447.4 L471.5,446.7 L472.9,445.8"/>
<path d="M467.8,440.8 L469.2,439.5 L468.6,439.5 L467.6,439.3 L467.6,438.9 L468.5,438.6 L468.9,438.9 L469.3,438.0 L470.8,437.7 L471.2,437.9 L471.7,438.2 L472.2,438.4 L472.7,437.9 L473.9,437.0 L474.7,436.9 L475.8,436.2 L476.4,436.3 L478.1,435.5"/>
<path d="M478.1,435.5 L478.0,435.2 L478.0,434.7 L477.5,434.2 L478.1,433.2 L478.2,432.8 L477.3,432.7 L477.7,432.0 L476.8,432.1 L476.0,432.1 L475.3,432.1 L474.5,432.1 L473.7,432.5 L472.5,433.1 L471.2,433.3 L470.4,433.2 L470.6,432.8 L470.1,432.6 L468.9,432.9 L468.3,433.0 L467.3,433.5 L466.5,433.9 L466.1,434.2 L466.4,434.2 L465.7,434.9"/>
<path d="M478.1,435.5 L479.0,435.4 L480.4,434.9 L480.9,435.3 L482.3,435.0 L483.2,434.5 L483.7,435.0 L483.4,435.3 L484.5,435.5 L484.8,436.1 L485.4,436.2 L487.0,435.8 L487.7,436.0 L488.9,435.3 L490.1,434.5 L490.5,434.6 L491.3,434.6 L491.9,435.0 L491.2,436.3 L491.9,436.8 L491.7,437.3 L493.0,437.1 L491.6,438.6 L491.3,438.5 L490.8,438.6 L490.5,439.3 L490.0,439.8"/>
<path d="M478.1,435.5 L478.0,436.1 L477.8,436.8 L477.2,437.3 L477.9,437.6 L477.8,438.7 L479.0,438.9 L479.7,439.2 L480.3,439.5 L481.5,439.2 L482.5,439.0 L483.6,438.7 L484.1,438.1 L485.0,438.0 L486.3,437.6 L487.5,437.6 L487.4,436.9 L487.7,436.0"/>
<path d="M490.0,439.8 L489.7,439.7 L488.9,439.9 L488.4,440.0 L487.4,440.5 L487.0,440.8"/>
<path d="M487.0,441.9 L487.5,441.6 L488.1,441.5"/>
<path d="M469.2,439.5 L470.6,438.9 L472.2,438.4"/>
<path d="M472.9,445.8 L473.2,446.3 L472.7,447.0 L472.6,447.5"/>
<path d="M472.1,449.9 L472.1,450.4 L472.5,450.4 L471.9,451.4 L472.5,451.3 L473.0,451.0 L473.6,451.5 L473.7,452.5 L473.5,453.2 L472.3,453.2 L471.9,454.2"/>
<path d="M472.6,447.5 L472.3,449.0"/>
<path d="M472.8,449.3 L472.1,449.9 L471.5,450.2 L470.6,450.9 L470.8,451.7 L470.8,452.1 L470.3,452.7 L470.5,453.3 L470.4,454.3 L469.9,455.2"/>
<path d="M473.3,448.9 L473.2,449.5 L473.5,449.3 L474.0,449.8 L473.7,450.4 L474.0,450.8 L474.4,451.5 L474.6,452.2 L474.3,453.1 L474.2,453.9 L473.6,454.3 L472.8,455.0"/>
<path d="M473.5,453.2 L473.8,453.1 L474.5,453.0"/>
<path d="M470.3,457.2 L470.7,457.6 L471.0,457.6 L471.2,457.3"/>
<path d="M474.4,459.6 L475.2,459.2 L476.0,458.9 L476.8,458.5 L477.4,458.4 L478.3,458.4"/>
<path d="M489.3,461.9 L489.4,463.6 L489.4,465.1"/>
<path d="M484.2,468.1 L484.5,469.2 L484.7,470.2 L485.0,471.3 L485.3,472.3 L485.6,473.3 L486.0,474.4 L486.4,475.4 L486.8,476.4"/>
<path d="M488.6,468.7 L488.8,469.9 L489.0,471.1 L489.3,472.3 L489.7,473.5 L491.0,473.5 L491.4,474.9 L491.8,476.1 L492.2,477.3 L492.6,478.3 L493.0,479.3"/>
<path d="M485.7,473.6 L486.6,473.6 L487.5,473.6 L488.3,473.5 L489.2,473.5 L490.1,473.5 L491.0,473.5"/>
<path d="M491.4,474.9 L492.3,474.9 L493.1,474.8 L494.0,474.8 L494.9,474.7 L495.8,474.6 L496.8,474.4"/>
<path d="M492.2,477.3 L493.8,478.2 L494.7,478.4 L495.6,478.7 L496.5,478.9"/>
</g>
<rect x="537.1" y="436.9" width="1" height="1" fill="#3a2020" fill-opacity="0.8"/>
<rect x="531.2" y="433.9" width="1" height="1" fill="#3a2020" fill-opacity="0.8"/>
<rect x="517.4" y="428.6" width="1" height="1" fill="#3a2020" fill-opacity="0.8"/>
<rect x="528.2" y="429.4" width="1" height="1" fill="#3a2020" fill-opacity="0.8"/>
<rect x="542.1" y="447.3" width="1" height="1" fill="#3a2020" fill-opacity="0.8"/>
<rect x="533.4" y="436.7" width="1" height="1" fill="#3a2020" fill-opacity="0.8"/>
<rect x="535.5" y="439.4" width="1" height="1" fill="#3a2020" fill-opacity="0.8"/>
<rect x="530.5" y="438.7" width="1" height="1" fill="#3a2020" fill-opacity="0.8"/>
<rect x="537.3" y="436.7" width="1" height="1" fill="#3a2020" fill-opacity="0.8"/>
<rect x="541.6" y="441.6" width="1" height="1" fill="#3a2020" fill-opacity="0.8"/>
<rect x="542.6" y="446.2" width="1" height="1" fill="#3a2020" fill-opacity="0.8"/>
<rect x="523.0" y="431.8" width="1" height="1" fill="#3a2020" fill-opacity="0.8"/>
<rect x="530.6" y="429.7" width="1" height="1" fill="#3a2020" fill-opacity="0.8"/>
<rect x="533.1" y="431.8" width="1" height="1" fill="#3a2020" fill-opacity="0.8"/>
<rect x="522.8" y="429.0" width="1" height="1" fill="#3a2020" fill-opacity="0.8"/>
<rect x="528.7" y="432.9" width="1" height="1" fill="#3a2020" fill-opacity="0.8"/>
<rect x="530.8" y="430.4" width="1" height="1" fill="#3a2020" fill-opacity="0.8"/>
<rect x="539.7" y="437.9" width="1" height="1" fill="#3a2020" fill-opacity="0.8"/>
<rect x="533.0" y="434.5" width="1" height="1" fill="#3a2020" fill-opacity="0.8"/>
<rect x="532.7" y="432.6" width="1" height="1" fill="#3a2020" fill-opacity="0.8"/>
<rect x="544.4" y="436.3" width="1" height="1" fill="#3a2020" fill-opacity="0.8"/>
<rect x="528.7" y="435.5" width="1" height="1" fill="#3a2020" fill-opacity="0.8"/>
<rect x="536.2" y="433.7" width="1" height="1" fill="#3a2020" fill-opacity="0.8"/>
<rect x="531.5" y="434.7" width="1" height="1" fill="#3a2020" fill-opacity="0.8"/>
<rect x="534.0" y="433.3" width="1" height="1" fill="#3a2020" fill-opacity="0.8"/>
<rect x="542.5" y="439.9" width="1" height="1" fill="#3a2020" fill-opacity="0.8"/>
<rect x="529.9" y="429.4" width="1" height="1" fill="#3a2020" fill-opacity="0.8"/>
<rect x="542.3" y="446.3" width="1" height="1" fill="#3a2020" fill-opacity="0.8"/>
<rect x="528.9" y="427.9" width="1" height="1" fill="#3a2020" fill-opacity="0.8"/>
<rect x="542.9" y="447.8" width="1" height="1" fill="#3a2020" fill-opacity="0.8"/>
<rect x="532.8" y="438.0" width="1" height="1" fill="#3a2020" fill-opacity="0.8"/>
<rect x="537.9" y="430.7" width="1" height="1" fill="#3a2020" fill-opacity="0.8"/>
<rect x="530.3" y="434.6" width="1" height="1" fill="#3a2020" fill-opacity="0.8"/>
<rect x="534.9" y="435.6" width="1" height="1" fill="#3a2020" fill-opacity="0.8"/>
<rect x="538.5" y="439.0" width="1" height="1" fill="#3a2020" fill-opacity="0.8"/>
<rect x="531.9" y="433.9" width="1" height="1" fill="#3a2020" fill-opacity="0.8"/>
<rect x="523.3" y="431.5" width="1" height="1" fill="#3a2020" fill-opacity="0.8"/>
<rect x="540.4" y="432.7" width="1" height="1" fill="#3a2020" fill-opacity="0.8"/>
<rect x="535.4" y="438.8" width="1" height="1" fill="#3a2020" fill-opacity="0.8"/>
<rect x="521.5" y="431.2" width="1" height="1" fill="#3a2020" fill-opacity="0.8"/>
<rect x="534.3" y="434.1" width="1" height="1" fill="#3a2020" fill-opacity="0.8"/>
<rect x="542.0" y="435.3" width="1" height="1" fill="#3a2020" fill-opacity="0.8"/>
<rect x="537.2" y="442.0" width="1" height="1" fill="#3a2020" fill-opacity="0.8"/>
<rect x="542.9" y="442.2" width="1" height="1" fill="#3a2020" fill-opacity="0.8"/>
<rect x="544.1" y="436.3" width="1" height="1" fill="#3a2020" fill-opacity="0.8"/>
<rect x="526.2" y="428.9" width="1" height="1" fill="#3a2020" fill-opacity="0.8"/>
<rect x="544.2" y="434.0" width="1" height="1" fill="#3a2020" fill-opacity="0.8"/>
<rect x="537.6" y="433.3" width="1" height="1" fill="#3a2020" fill-opacity="0.8"/>
<rect x="536.7" y="425.8" width="1" height="1" fill="#3a2020" fill-opacity="0.8"/>
<rect x="538.7" y="426.7" width="1" height="1" fill="#3a2020" fill-opacity="0.8"/>
<rect x="537.2" y="426.1" width="1" height="1" fill="#3a2020" fill-opacity="0.8"/>
<rect x="557.9" y="475.7" width="1" height="1" fill="#3a2020" fill-opacity="0.8"/>
<rect x="559.6" y="472.4" width="1" height="1" fill="#3a2020" fill-opacity="0.8"/>
<rect x="569.6" y="465.6" width="1" height="1" fill="#3a2020" fill-opacity="0.8"/>
<rect x="572.6" y="463.5" width="1" height="1" fill="#3a2020" fill-opacity="0.8"/>
<rect x="566.2" y="469.1" width="1" height="1" fill="#3a2020" fill-opacity="0.8"/>
<rect x="562.6" y="474.2" width="1" height="1" fill="#3a2020" fill-opacity="0.8"/>
<rect x="555.7" y="462.8" width="1" height="1" fill="#3a2020" fill-opacity="0.8"/>
<rect x="556.4" y="475.0" width="1" height="1" fill="#3a2020" fill-opacity="0.8"/>
<rect x="562.3" y="458.8" width="1" height="1" fill="#3a2020" fill-opacity="0.8"/>
<rect x="556.8" y="477.8" width="1" height="1" fill="#3a2020" fill-opacity="0.8"/>
<rect x="560.1" y="460.7" width="1" height="1" fill="#3a2020" fill-opacity="0.8"/>
<rect x="569.1" y="470.6" width="1" height="1" fill="#3a2020" fill-opacity="0.8"/>
<rect x="562.6" y="472.6" width="1" height="1" fill="#3a2020" fill-opacity="0.8"/>
<rect x="558.7" y="456.3" width="1" height="1" fill="#3a2020" fill-opacity="0.8"/>
<rect x="562.9" y="459.7" width="1" height="1" fill="#3a2020" fill-opacity="0.8"/>
<rect x="556.3" y="475.7" width="1" height="1" fill="#3a2020" fill-opacity="0.8"/>
<rect x="558.4" y="470.1" width="1" height="1" fill="#3a2020" fill-opacity="0.8"/>
<rect x="567.6" y="466.7" width="1" height="1" fill="#3a2020" fill-opacity="0.8"/>
<rect x="556.0" y="462.2" width="1" height="1" fill="#3a2020" fill-opacity="0.8"/>
<rect x="564.5" y="464.5" width="1" height="1" fill="#3a2020" fill-opacity="0.8"/>
<rect x="549.7" y="482.1" width="1" height="1" fill="#3a2020" fill-opacity="0.8"/>
<rect x="565.6" y="462.1" width="1" height="1" fill="#3a2020" fill-opacity="0.8"/>
<rect x="561.4" y="474.3" width="1" height="1" fill="#3a2020" fill-opacity="0.8"/>
<rect x="565.0" y="463.4" width="1" height="1" fill="#3a2020" fill-opacity="0.8"/>
<rect x="562.8" y="467.7" width="1" height="1" fill="#3a2020" fill-opacity="0.8"/>
<rect x="566.0" y="457.6" width="1" height="1" fill="#3a2020" fill-opacity="0.8"/>
<rect x="571.9" y="464.4" width="1" height="1" fill="#3a2020" fill-opacity="0.8"/>
<rect x="561.4" y="467.7" width="1" height="1" fill="#3a2020" fill-opacity="0.8"/>
<rect x="442.3" y="462.2" width="1" height="1" fill="#3a2020" fill-opacity="0.8"/>
<rect x="434.1" y="452.4" width="1" height="1" fill="#3a2020" fill-opacity="0.8"/>
<rect x="445.9" y="457.7" width="1" height="1" fill="#3a2020" fill-opacity="0.8"/>
<rect x="443.0" y="442.0" width="1" height="1" fill="#3a2020" fill-opacity="0.8"/>
<rect x="437.2" y="471.2" width="1" height="1" fill="#3a2020" fill-opacity="0.8"/>
<rect x="443.8" y="466.4" width="1" height="1" fill="#3a2020" fill-opacity="0.8"/>
<rect x="437.8" y="449.9" width="1" height="1" fill="#3a2020" fill-opacity="0.8"/>
<rect x="443.2" y="454.5" width="1" height="1" fill="#3a2020" fill-opacity="0.8"/>
<rect x="442.2" y="453.6" width="1" height="1" fill="#3a2020" fill-opacity="0.8"/>
<rect x="439.7" y="455.7" width="1" height="1" fill="#3a2020" fill-opacity="0.8"/>
<rect x="446.7" y="445.0" width="1" height="1" fill="#3a2020" fill-opacity="0.8"/>
<rect x="437.4" y="446.7" width="1" height="1" fill="#3a2020" fill-opacity="0.8"/>
<rect x="445.6" y="449.0" width="1" height="1" fill="#3a2020" fill-opacity="0.8"/>
<rect x="439.4" y="456.2" width="1" height="1" fill="#3a2020" fill-opacity="0.8"/>
<rect x="443.2" y="456.6" width="1" height="1" fill="#3a2020" fill-opacity="0.8"/>
<rect x="433.3" y="456.6" width="1" height="1" fill="#3a2020" fill-opacity="0.8"/>
<rect x="434.5" y="459.0" width="1" height="1" fill="#3a2020" fill-opacity="0.8"/>
<rect x="439.2" y="462.3" width="1" height="1" fill="#3a2020" fill-opacity="0.8"/>
<rect x="443.7" y="472.8" width="1" height="1" fill="#3a2020" fill-opacity="0.8"/>
<rect x="435.9" y="451.2" width="1" height="1" fill="#3a2020" fill-opacity="0.8"/>
<rect x="443.7" y="445.5" width="1" height="1" fill="#3a2020" fill-opacity="0.8"/>
<rect x="440.7" y="455.4" width="1" height="1" fill="#3a2020" fill-opacity="0.8"/>
<rect x="439.0" y="447.1" width="1" height="1" fill="#3a2020" fill-opacity="0.8"/>
<rect x="442.6" y="448.5" width="1" height="1" fill="#3a2020" fill-opacity="0.8"/>
<rect x="438.0" y="445.6" width="1" height="1" fill="#3a2020" fill-opacity="0.8"/>
<rect x="438.1" y="449.8" width="1" height="1" fill="#3a2020" fill-opacity="0.8"/>
<rect x="438.4" y="450.0" width="1" height="1" fill="#3a2020" fill-opacity="0.8"/>
<rect x="443.1" y="445.4" width="1" height="1" fill="#3a2020" fill-opacity="0.8"/>
<rect x="443.5" y="467.0" width="1" height="1" fill="#3a2020" fill-opacity="0.8"/>
<rect x="443.9" y="445.8" width="1" height="1" fill="#3a2020" fill-opacity="0.8"/>
<rect x="435.2" y="463.3" width="1" height="1" fill="#3a2020" fill-opacity="0.8"/>
<rect x="443.0" y="468.7" width="1" height="1" fill="#3a2020" fill-opacity="0.8"/>
<rect x="440.0" y="462.7" width="1" height="1" fill="#3a2020" fill-opacity="0.8"/>
<rect x="438.1" y="445.1" width="1" height="1" fill="#3a2020" fill-opacity="0.8"/>
<rect x="441.7" y="462.1" width="1" height="1" fill="#3a2020" fill-opacity="0.8"/>
<rect x="580.3" y="447.5" width="1" height="1" fill="#3a2020" fill-opacity="0.8"/>
<rect x="579.4" y="444.1" width="1" height="1" fill="#3a2020" fill-opacity="0.8"/>
<rect x="583.3" y="448.9" width="1" height="1" fill="#3a2020" fill-opacity="0.8"/>
<rect x="586.2" y="451.6" width="1" height="1" fill="#3a2020" fill-opacity="0.8"/>
<rect x="581.0" y="450.4" width="1" height="1" fill="#3a2020" fill-opacity="0.8"/>
<rect x="578.2" y="445.4" width="1" height="1" fill="#3a2020" fill-opacity="0.8"/>
<rect x="582.7" y="453.5" width="1" height="1" fill="#3a2020" fill-opacity="0.8"/>
<rect x="578.9" y="447.1" width="1" height="1" fill="#3a2020" fill-opacity="0.8"/>
<rect x="583.2" y="444.9" width="1" height="1" fill="#3a2020" fill-opacity="0.8"/>
<rect x="582.7" y="452.7" width="1" height="1" fill="#3a2020" fill-opacity="0.8"/>
<rect x="582.8" y="449.3" width="1" height="1" fill="#3a2020" fill-opacity="0.8"/>
<rect x="450.0" y="472.7" width="1" height="1" fill="#3a2020" fill-opacity="0.8"/>
<rect x="479.4" y="439.9" width="1" height="1" fill="#3a2020" fill-opacity="0.8"/>
<rect x="480.4" y="426.4" width="1" height="1" fill="#3a2020" fill-opacity="0.8"/>
<rect x="464.5" y="447.0" width="1" height="1" fill="#3a2020" fill-opacity="0.8"/>
<rect x="483.2" y="432.7" width="1" height="1" fill="#3a2020" fill-opacity="0.8"/>
<rect x="474.3" y="428.0" width="1" height="1" fill="#3a2020" fill-opacity="0.8"/>
<rect x="462.8" y="445.8" width="1" height="1" fill="#3a2020" fill-opacity="0.8"/>
<rect x="473.5" y="443.3" width="1" height="1" fill="#3a2020" fill-opacity="0.8"/>
<rect x="488.2" y="431.3" width="1" height="1" fill="#3a2020" fill-opacity="0.8"/>
<rect x="480.0" y="433.5" width="1" height="1" fill="#3a2020" fill-opacity="0.8"/>
<rect x="467.7" y="434.7" width="1" height="1" fill="#3a2020" fill-opacity="0.8"/>
<rect x="467.3" y="432.2" width="1" height="1" fill="#3a2020" fill-opacity="0.8"/>
<rect x="491.1" y="428.3" width="1" height="1" fill="#3a2020" fill-opacity="0.8"/>
<rect x="494.0" y="434.8" width="1" height="1" fill="#3a2020" fill-opacity="0.8"/>
<rect x="460.8" y="436.5" width="1" height="1" fill="#3a2020" fill-opacity="0.8"/>
<rect x="467.9" y="445.2" width="1" height="1" fill="#3a2020" fill-opacity="0.8"/>
<rect x="478.2" y="424.9" width="1" height="1" fill="#3a2020" fill-opacity="0.8"/>
<rect x="468.7" y="437.3" width="1" height="1" fill="#3a2020" fill-opacity="0.8"/>
<rect x="488.3" y="439.1" width="1" height="1" fill="#3a2020" fill-opacity="0.8"/>
<rect x="475.2" y="440.9" width="1" height="1" fill="#3a2020" fill-opacity="0.8"/>
<rect x="478.5" y="429.2" width="1" height="1" fill="#3a2020" fill-opacity="0.8"/>
<rect x="448.4" y="448.6" width="1" height="1" fill="#3a2020" fill-opacity="0.8"/>
<rect x="481.1" y="439.5" width="1" height="1" fill="#3a2020" fill-opacity="0.8"/>
<rect x="473.8" y="439.2" width="1" height="1" fill="#3a2020" fill-opacity="0.8"/>
<rect x="493.2" y="432.6" width="1" height="1" fill="#3a2020" fill-opacity="0.8"/>
<rect x="466.6" y="436.0" width="1" height="1" fill="#3a2020" fill-opacity="0.8"/>
<rect x="487.0" y="430.4" width="1" height="1" fill="#3a2020" fill-opacity="0.8"/>
<rect x="467.1" y="439.6" width="1" height="1" fill="#3a2020" fill-opacity="0.8"/>
<rect x="468.2" y="432.7" width="1" height="1" fill="#3a2020" fill-opacity="0.8"/>
<rect x="464.4" y="429.3" width="1" height="1" fill="#3a2020" fill-opacity="0.8"/>
<rect x="477.7" y="428.4" width="1" height="1" fill="#3a2020" fill-opacity="0.8"/>
<rect x="504.5" y="429.7" width="1" height="1" fill="#3a2020" fill-opacity="0.8"/>
<rect x="496.6" y="427.8" width="1" height="1" fill="#3a2020" fill-opacity="0.8"/>
<rect x="483.8" y="429.2" width="1" height="1" fill="#3a2020" fill-opacity="0.8"/>
<rect x="495.5" y="431.7" width="1" height="1" fill="#3a2020" fill-opacity="0.8"/>
<rect x="495.6" y="430.7" width="1" height="1" fill="#3a2020" fill-opacity="0.8"/>
<rect x="483.1" y="433.7" width="1" height="1" fill="#3a2020" fill-opacity="0.8"/>
<rect x="462.2" y="446.0" width="1" height="1" fill="#3a2020" fill-opacity="0.8"/>
<rect x="478.4" y="427.6" width="1" height="1" fill="#3a2020" fill-opacity="0.8"/>
<rect x="469.8" y="431.0" width="1" height="1" fill="#3a2020" fill-opacity="0.8"/>
<rect x="477.9" y="444.2" width="1" height="1" fill="#3a2020" fill-opacity="0.8"/>
<rect x="467.6" y="431.6" width="1" height="1" fill="#3a2020" fill-opacity="0.8"/>
<rect x="473.9" y="446.1" width="1" height="1" fill="#3a2020" fill-opacity="0.8"/>
<rect x="476.2" y="436.5" width="1" height="1" fill="#3a2020" fill-opacity="0.8"/>
<rect x="482.5" y="426.7" width="1" height="1" fill="#3a2020" fill-opacity="0.8"/>
<rect x="481.6" y="433.3" width="1" height="1" fill="#3a2020" fill-opacity="0.8"/>
<rect x="472.5" y="430.1" width="1" height="1" fill="#3a2020" fill-opacity="0.8"/>
<rect x="468.8" y="430.3" width="1" height="1" fill="#3a2020" fill-opacity="0.8"/>
<rect x="468.0" y="429.1" width="1" height="1" fill="#3a2020" fill-opacity="0.8"/>
<rect x="457.4" y="441.3" width="1" height="1" fill="#3a2020" fill-opacity="0.8"/>
<rect x="502.0" y="430.8" width="1" height="1" fill="#3a2020" fill-opacity="0.8"/>
<rect x="472.1" y="437.7" width="1" height="1" fill="#3a2020" fill-opacity="0.8"/>
<rect x="503.8" y="429.0" width="1" height="1" fill="#3a2020" fill-opacity="0.8"/>
<rect x="475.4" y="426.4" width="1" height="1" fill="#3a2020" fill-opacity="0.8"/>
<rect x="479.1" y="424.5" width="1" height="1" fill="#3a2020" fill-opacity="0.8"/>
<rect x="493.0" y="431.3" width="1" height="1" fill="#3a2020" fill-opacity="0.8"/>
<rect x="455.8" y="437.3" width="1" height="1" fill="#3a2020" fill-opacity="0.8"/>
<rect x="481.5" y="437.7" width="1" height="1" fill="#3a2020" fill-opacity="0.8"/>
<rect x="467.8" y="433.6" width="1" height="1" fill="#3a2020" fill-opacity="0.8"/>
<rect x="498.2" y="428.3" width="1" height="1" fill="#3a2020" fill-opacity="0.8"/>
<rect x="484.3" y="433.7" width="1" height="1" fill="#3a2020" fill-opacity="0.8"/>
<rect x="456.5" y="438.7" width="1" height="1" fill="#3a2020" fill-opacity="0.8"/>
<rect x="474.3" y="434.1" width="1" height="1" fill="#3a2020" fill-opacity="0.8"/>
<rect x="466.3" y="443.2" width="1" height="1" fill="#3a2020" fill-opacity="0.8"/>
<rect x="471.2" y="433.3" width="1" height="1" fill="#3a2020" fill-opacity="0.8"/>
<rect x="499.1" y="430.9" width="1" height="1" fill="#3a2020" fill-opacity="0.8"/>
<rect x="481.1" y="434.8" width="1" height="1" fill="#3a2020" fill-opacity="0.8"/>
<rect x="479.3" y="438.1" width="1" height="1" fill="#3a2020" fill-opacity="0.8"/>
<rect x="468.1" y="435.7" width="1" height="1" fill="#3a2020" fill-opacity="0.8"/>
<rect x="456.5" y="433.3" width="1" height="1" fill="#3a2020" fill-opacity="0.8"/>
<rect x="467.7" y="430.3" width="1" height="1" fill="#3a2020" fill-opacity="0.8"/>
<rect x="481.7" y="428.2" width="1" height="1" fill="#3a2020" fill-opacity="0.8"/>
<rect x="462.0" y="446.9" width="1" height="1" fill="#3a2020" fill-opacity="0.8"/>
<rect x="454.9" y="436.7" width="1" height="1" fill="#3a2020" fill-opacity="0.8"/>
<rect x="476.4" y="441.7" width="1" height="1" fill="#3a2020" fill-opacity="0.8"/>
<rect x="473.1" y="428.9" width="1" height="1" fill="#3a2020" fill-opacity="0.8"/>
<rect x="481.7" y="428.0" width="1" height="1" fill="#3a2020" fill-opacity="0.8"/>
<rect x="473.7" y="446.4" width="1" height="1" fill="#3a2020" fill-opacity="0.8"/>
<rect x="450.5" y="446.8" width="1" height="1" fill="#3a2020" fill-opacity="0.8"/>
<rect x="491.5" y="431.2" width="1" height="1" fill="#3a2020" fill-opacity="0.8"/>
<rect x="465.5" y="435.9" width="1" height="1" fill="#3a2020" fill-opacity="0.8"/>
<rect x="480.7" y="427.3" width="1" height="1" fill="#3a2020" fill-opacity="0.8"/>
<rect x="478.0" y="427.5" width="1" height="1" fill="#3a2020" fill-opacity="0.8"/>
<rect x="489.8" y="427.4" width="1" height="1" fill="#3a2020" fill-opacity="0.8"/>
<rect x="470.7" y="450.1" width="1" height="1" fill="#3a2020" fill-opacity="0.8"/>
<rect x="481.3" y="444.0" width="1" height="1" fill="#3a2020" fill-opacity="0.8"/>
<rect x="487.2" y="436.3" width="1" height="1" fill="#3a2020" fill-opacity="0.8"/>
<rect x="471.8" y="431.3" width="1" height="1" fill="#3a2020" fill-opacity="0.8"/>
<rect x="477.0" y="429.8" width="1" height="1" fill="#3a2020" fill-opacity="0.8"/>
<rect x="486.7" y="428.6" width="1" height="1" fill="#3a2020" fill-opacity="0.8"/>
<rect x="451.5" y="444.2" width="1" height="1" fill="#3a2020" fill-opacity="0.8"/>
<rect x="493.7" y="432.2" width="1" height="1" fill="#3a2020" fill-opacity="0.8"/>
<rect x="461.7" y="439.5" width="1" height="1" fill="#3a2020" fill-opacity="0.8"/>
<rect x="478.0" y="438.4" width="1" height="1" fill="#3a2020" fill-opacity="0.8"/>
<rect x="494.2" y="431.2" width="1" height="1" fill="#3a2020" fill-opacity="0.8"/>
<rect x="477.3" y="426.1" width="1" height="1" fill="#3a2020" fill-opacity="0.8"/>
<rect x="478.8" y="435.1" width="1" height="1" fill="#3a2020" fill-opacity="0.8"/>
<rect x="460.2" y="441.5" width="1" height="1" fill="#3a2020" fill-opacity="0.8"/>
<rect x="475.6" y="429.5" width="1" height="1" fill="#3a2020" fill-opacity="0.8"/>
<rect x="479.3" y="439.0" width="1" height="1" fill="#3a2020" fill-opacity="0.8"/>
<rect x="474.9" y="431.7" width="1" height="1" fill="#3a2020" fill-opacity="0.8"/>
<rect x="473.2" y="432.2" width="1" height="1" fill="#3a2020" fill-opacity="0.8"/>
<rect x="508.6" y="428.9" width="1" height="1" fill="#3a2020" fill-opacity="0.8"/>
<rect x="501.6" y="429.6" width="1" height="1" fill="#3a2020" fill-opacity="0.8"/>
<rect x="474.9" y="442.7" width="1" height="1" fill="#3a2020" fill-opacity="0.8"/>
<rect x="489.9" y="436.0" width="1" height="1" fill="#3a2020" fill-opacity="0.8"/>
<rect x="494.4" y="428.6" width="1" height="1" fill="#3a2020" fill-opacity="0.8"/>
<rect x="467.7" y="438.5" width="1" height="1" fill="#3a2020" fill-opacity="0.8"/>
<rect x="490.8" y="431.4" width="1" height="1" fill="#3a2020" fill-opacity="0.8"/>
<rect x="499.7" y="429.5" width="1" height="1" fill="#3a2020" fill-opacity="0.8"/>
<rect x="477.5" y="433.1" width="1" height="1" fill="#3a2020" fill-opacity="0.8"/>
<rect x="569.6" y="435.6" width="1" height="1" fill="#3a2020" fill-opacity="0.8"/>
<rect x="563.6" y="430.8" width="1" height="1" fill="#3a2020" fill-opacity="0.8"/>
<rect x="555.9" y="428.5" width="1" height="1" fill="#3a2020" fill-opacity="0.8"/>
<rect x="476.3" y="460.4" width="1" height="1" fill="#3a2020" fill-opacity="0.8"/>
<rect x="471.5" y="461.1" width="1" height="1" fill="#3a2020" fill-opacity="0.8"/>
<rect x="487.3" y="462.0" width="1" height="1" fill="#3a2020" fill-opacity="0.8"/>
<rect x="480.2" y="471.2" width="1" height="1" fill="#3a2020" fill-opacity="0.8"/>
<rect x="490.9" y="470.1" width="1" height="1" fill="#3a2020" fill-opacity="0.8"/>
<rect x="492.4" y="474.4" width="1" height="1" fill="#3a2020" fill-opacity="0.8"/>
<rect x="484.9" y="469.8" width="1" height="1" fill="#3a2020" fill-opacity="0.8"/>
<rect x="485.5" y="469.3" width="1" height="1" fill="#3a2020" fill-opacity="0.8"/>
<rect x="482.0" y="472.1" width="1" height="1" fill="#3a2020" fill-opacity="0.8"/>
<rect x="492.0" y="475.8" width="1" height="1" fill="#3a2020" fill-opacity="0.8"/>
<rect x="485.4" y="469.4" width="1" height="1" fill="#3a2020" fill-opacity="0.8"/>
<rect x="493.4" y="477.4" width="1" height="1" fill="#3a2020" fill-opacity="0.8"/>
<rect x="485.5" y="471.1" width="1" height="1" fill="#3a2020" fill-opacity="0.8"/>
<rect x="483.0" y="476.1" width="1" height="1" fill="#3a2020" fill-opacity="0.8"/>
<rect x="489.4" y="473.7" width="1" height="1" fill="#3a2020" fill-opacity="0.8"/>
<rect x="485.7" y="469.6" width="1" height="1" fill="#3a2020" fill-opacity="0.8"/>
<rect x="534.8" y="427.8" width="1" height="1" fill="#3a2020" fill-opacity="0.8"/>
<rect x="518.6" y="449.7" width="1" height="1" fill="#402828" fill-opacity="0.6"/>
<rect x="517.4" y="449.4" width="1" height="1" fill="#402828" fill-opacity="0.6"/>
<rect x="510.2" y="470.4" width="1" height="1" fill="#402828" fill-opacity="0.6"/>
<rect x="524.5" y="467.5" width="1" height="1" fill="#402828" fill-opacity="0.6"/>
<rect x="517.3" y="470.5" width="1" height="1" fill="#402828" fill-opacity="0.6"/>
<rect x="518.8" y="459.2" width="1" height="1" fill="#402828" fill-opacity="0.6"/>
<rect x="502.0" y="455.7" width="1" height="1" fill="#402828" fill-opacity="0.6"/>
<rect x="494.1" y="456.4" width="1" height="1" fill="#402828" fill-opacity="0.6"/>
<rect x="491.6" y="452.6" width="1" height="1" fill="#402828" fill-opacity="0.6"/>
<rect x="550.8" y="460.4" width="1" height="1" fill="#402828" fill-opacity="0.6"/>
<rect x="511.4" y="435.3" width="1" height="1" fill="#402828" fill-opacity="0.6"/>
<rect x="509.3" y="435.6" width="1" height="1" fill="#402828" fill-opacity="0.6"/>
<rect x="506.7" y="435.1" width="1" height="1" fill="#402828" fill-opacity="0.6"/>
<rect x="497.6" y="437.7" width="1" height="1" fill="#402828" fill-opacity="0.6"/>
<rect x="499.4" y="436.6" width="1" height="1" fill="#402828" fill-opacity="0.6"/>
<rect x="484.8" y="446.9" width="1" height="1" fill="#402828" fill-opacity="0.6"/>
<rect x="485.3" y="446.3" width="1" height="1" fill="#402828" fill-opacity="0.6"/>
<rect x="491.2" y="446.8" width="1" height="1" fill="#402828" fill-opacity="0.6"/>
<rect x="509.7" y="481.2" width="1" height="1" fill="#402828" fill-opacity="0.6"/>
<rect x="549.7" y="477.7" width="1" height="1" fill="#402828" fill-opacity="0.6"/>
<rect x="550.0" y="489.4" width="1" height="1" fill="#402828" fill-opacity="0.6"/>
<rect x="503.9" y="484.2" width="1" height="1" fill="#402828" fill-opacity="0.6"/>
<rect x="512.3" y="467.1" width="1" height="1" fill="#402828" fill-opacity="0.6"/>
<rect x="507.3" y="464.3" width="1" height="1" fill="#402828" fill-opacity="0.6"/>
<rect x="521.4" y="468.2" width="1" height="1" fill="#402828" fill-opacity="0.6"/>
<rect x="529.0" y="471.5" width="1" height="1" fill="#402828" fill-opacity="0.6"/>
<rect x="514.7" y="465.4" width="1" height="1" fill="#402828" fill-opacity="0.6"/>
<rect x="511.8" y="464.6" width="1" height="1" fill="#402828" fill-opacity="0.6"/>
<rect x="498.1" y="464.8" width="1" height="1" fill="#402828" fill-opacity="0.6"/>
<rect x="494.6" y="462.3" width="1" height="1" fill="#402828" fill-opacity="0.6"/>
<rect x="491.6" y="461.1" width="1" height="1" fill="#402828" fill-opacity="0.6"/>
<rect x="499.4" y="475.4" width="1" height="1" fill="#402828" fill-opacity="0.6"/>
<rect x="516.6" y="457.2" width="1" height="1" fill="#402828" fill-opacity="0.6"/>
<rect x="501.6" y="450.6" width="1" height="1" fill="#402828" fill-opacity="0.6"/>
<rect x="474.8" y="427.0" width="1" height="1" fill="#3a2020"/>
<rect x="476.5" y="426.9" width="1" height="1" fill="#3a2020"/>
<rect x="478.3" y="426.8" width="1" height="1" fill="#3a2020"/>
<rect x="479.6" y="428.6" width="1" height="1" fill="#3a2020"/>
<rect x="482.3" y="428.1" width="1" height="1" fill="#3a2020"/>
<rect x="485.0" y="427.5" width="1" height="1" fill="#3a2020"/>
<rect x="486.7" y="427.4" width="1" height="1" fill="#3a2020"/>
<rect x="485.9" y="428.3" width="1" height="1" fill="#3a2020"/>
<rect x="485.4" y="429.3" width="1" height="1" fill="#3a2020"/>
<rect x="489.4" y="427.9" width="1" height="1" fill="#3a2020"/>
<rect x="491.1" y="427.7" width="1" height="1" fill="#3a2020"/>
<rect x="489.4" y="429.4" width="1" height="1" fill="#3a2020"/>
<rect x="487.6" y="431.6" width="1" height="1" fill="#3a2020"/>
<rect x="490.0" y="431.0" width="1" height="1" fill="#3a2020"/>
<rect x="492.3" y="430.3" width="1" height="1" fill="#3a2020"/>
<rect x="494.5" y="429.6" width="1" height="1" fill="#3a2020"/>
<rect x="496.6" y="428.9" width="1" height="1" fill="#3a2020"/>
<rect x="496.0" y="430.6" width="1" height="1" fill="#3a2020"/>
<rect x="499.2" y="428.6" width="1" height="1" fill="#3a2020"/>
<rect x="499.2" y="430.0" width="1" height="1" fill="#3a2020"/>
<rect x="501.1" y="429.2" width="1" height="1" fill="#3a2020"/>
<rect x="502.5" y="428.9" width="1" height="1" fill="#3a2020"/>
<rect x="505.0" y="428.6" width="1" height="1" fill="#3a2020"/>
<rect x="507.2" y="428.6" width="1" height="1" fill="#3a2020"/>
<rect x="513.8" y="428.6" width="1" height="1" fill="#3a2020"/>
<rect x="516.4" y="429.4" width="1" height="1" fill="#3a2020"/>
<rect x="519.0" y="429.7" width="1" height="1" fill="#3a2020"/>
<rect x="522.0" y="430.4" width="1" height="1" fill="#3a2020"/>
<rect x="524.9" y="430.6" width="1" height="1" fill="#3a2020"/>
<rect x="526.5" y="429.6" width="1" height="1" fill="#3a2020"/>
<rect x="529.9" y="430.2" width="1" height="1" fill="#3a2020"/>
<rect x="529.3" y="428.8" width="1" height="1" fill="#3a2020"/>
<rect x="526.5" y="428.7" width="1" height="1" fill="#3a2020"/>
<rect x="524.4" y="428.9" width="1" height="1" fill="#3a2020"/>
<rect x="531.9" y="431.9" width="1" height="1" fill="#3a2020"/>
<rect x="536.2" y="432.8" width="1" height="1" fill="#3a2020"/>
<rect x="540.7" y="433.8" width="1" height="1" fill="#3a2020"/>
<rect x="540.3" y="432.3" width="1" height="1" fill="#3a2020"/>
<rect x="539.0" y="430.9" width="1" height="1" fill="#3a2020"/>
<rect x="543.5" y="433.4" width="1" height="1" fill="#3a2020"/>
<rect x="545.5" y="432.6" width="1" height="1" fill="#3a2020"/>
<rect x="485.9" y="433.9" width="1" height="1" fill="#3a2020"/>
<rect x="473.1" y="435.7" width="1" height="1" fill="#3a2020"/>
<rect x="466.6" y="435.5" width="1" height="1" fill="#3a2020"/>
<rect x="466.5" y="436.1" width="1" height="1" fill="#3a2020"/>
<rect x="441.9" y="460.7" width="1" height="1" fill="#3a2020"/>
<rect x="441.5" y="464.2" width="1" height="1" fill="#3a2020"/>
<rect x="440.6" y="465.1" width="1" height="1" fill="#3a2020"/>
<rect x="443.0" y="466.9" width="1" height="1" fill="#3a2020"/>
<rect x="474.3" y="436.2" width="1" height="1" fill="#3a2020"/>
<rect x="473.9" y="439.3" width="1" height="1" fill="#3a2020"/>
<rect x="469.6" y="441.6" width="1" height="1" fill="#3a2020"/>
<rect x="470.7" y="443.8" width="1" height="1" fill="#3a2020"/>
<rect x="481.2" y="444.4" width="1" height="1" fill="#3a2020"/>
<rect x="478.6" y="445.3" width="1" height="1" fill="#3a2020"/>
<path d="M465.7,434.8 L466.7,434.7 L466.4,435.3 L465.3,436.0 L464.8,435.9 L463.5,437.2 L463.3,437.8 L462.9,438.0 L462.3,438.2 L461.1,439.6 L459.8,439.8 L459.6,439.3 L460.5,438.5 L461.6,437.8 L462.2,437.1 L462.8,436.4 L464.4,435.2 L465.7,434.8Z" fill="#ccedf8" stroke="#1a0a0a" stroke-width="0.5"/>
<path d="M538.4,497.9 L541.0,497.4 L543.5,496.9 L546.0,496.3 L548.5,495.7 L550.9,495.0 L553.3,494.3 L555.6,493.5 L557.9,492.7 L560.1,491.9 L562.3,491.0 L564.4,490.1 L566.4,489.2 L568.4,488.2 L570.3,487.2 L572.1,486.1 L573.8,485.1 L575.5,484.0 L577.1,482.8 L578.6,481.7 L580.0,480.5 L581.4,479.3 L582.6,478.0 L583.8,476.8 L584.9,475.5 L585.9,474.2 L586.8,472.9 L587.6,471.6 L588.3,470.2 L588.9,468.9 L589.5,467.5 L589.9,466.1 L590.2,464.8 L590.5,463.4 L590.6,462.0 L590.7,460.6 L590.6,459.2 L590.5,457.8 L590.2,456.4 L589.9,455.1 L589.5,453.7 L588.9,452.3 L588.3,451.0 L587.6,449.6 L586.8,448.3 L585.9,447.0 L584.9,445.7 L583.8,444.4 L582.6,443.2 L581.4,441.9 L580.0,440.7 L578.6,439.5 L577.1,438.4 L575.5,437.2 L573.8,436.1 L572.1,435.1 L570.3,434.0 L568.4,433.0 L566.4,432.0 L564.4,431.1 L562.3,430.2 L560.1,429.3 L557.9,428.5 L555.6,427.7 L553.3,426.9 L550.9,426.2 L548.5,425.5 L546.0,424.9 L543.5,424.3 L541.0,423.8 L538.4,423.3 L538.3,423.4 L538.2,423.5 L538.1,423.6 L538.0,423.7 L537.9,423.8 L537.8,423.9 L537.6,424.0 L537.5,424.1 L537.4,424.2 L537.2,424.3 L537.1,424.4 L536.9,424.5 L536.7,424.6 L536.5,424.7 L536.4,424.8 L536.2,424.9 L536.0,425.0 L535.8,425.1 L535.6,425.2 L535.4,425.3 L535.2,425.4 L534.9,425.4 L534.7,425.5 L534.5,425.6 L534.2,425.7 L534.0,425.8 L533.7,425.9 L533.5,425.9 L533.2,426.0 L533.0,426.1 L532.7,426.2 L532.4,426.2 L532.1,426.3 L531.8,426.4 L531.6,426.5 L531.3,426.5 L531.0,426.6 L530.7,426.7 L530.4,426.7 L530.1,426.8 L529.7,426.9 L529.4,426.9 L529.1,427.0 L528.8,427.0 L528.4,427.1 L528.1,427.1 L527.8,427.2 L527.4,427.3 L527.1,427.3 L526.8,427.4 L526.4,427.4 L526.1,427.5 L525.7,427.5 L525.3,427.6 L525.0,427.6 L524.6,427.6 L524.3,427.7 L523.9,427.7 L523.5,427.8 L523.1,427.8 L522.8,427.8 L522.4,427.9 L522.0,427.9 L521.6,427.9 L521.2,428.0 L520.9,428.0 L520.5,428.0 L520.1,428.1 L519.7,428.1 L519.3,428.1 L518.9,428.1 L518.5,428.2 L518.1,428.2 L517.7,428.2 L517.3,428.2 L516.9,428.2 L516.5,428.3 L516.1,428.3 L515.7,428.3 L515.3,428.3 L514.9,428.3 L514.5,428.3 L514.1,428.3 L513.7,428.3 L513.2,428.3 L512.8,428.4 L512.4,428.4 L512.0,428.4 L511.6,428.4 L511.2,428.4 L510.8,428.4 L510.4,428.4 L510.0,428.4 L509.6,428.4 L509.2,428.3 L508.7,428.3 L508.3,428.3 L507.9,428.3 L507.5,428.3 L507.1,428.3 L506.7,428.3 L506.3,428.3 L505.9,428.3 L505.5,428.2 L505.1,428.2 L504.7,428.2 L504.3,428.2 L503.9,428.2 L503.5,428.1 L503.1,428.1 L502.7,428.1 L502.3,428.1 L501.9,428.0 L501.5,428.0 L501.2,428.0 L500.8,427.9 L500.4,427.9 L500.0,427.9 L499.6,427.8 L499.3,427.8 L498.9,427.8 L498.5,427.7 L498.1,427.7 L497.8,427.6 L497.4,427.6 L497.1,427.6 L496.7,427.5 L496.3,427.5 L496.0,427.4 L495.6,427.4 L495.3,427.3 L495.0,427.3 L494.6,427.2 L494.3,427.1 L494.0,427.1 L493.6,427.0 L493.3,427.0 L493.0,426.9 L492.7,426.9 L492.3,426.8 L492.0,426.7 L491.7,426.7 L491.4,426.6 L491.1,426.5 L490.8,426.5 L490.6,426.4 L490.3,426.3 L490.0,426.2 L489.7,426.2 L489.4,426.1 L489.2,426.0 L488.9,425.9 L488.7,425.9 L488.4,425.8 L488.2,425.7 L487.9,425.6 L487.7,425.5 L487.5,425.4 L487.2,425.4 L487.0,425.3 L486.8,425.2 L486.6,425.1 L486.4,425.0 L486.2,424.9 L486.0,424.8 L485.9,424.7 L485.7,424.6 L485.5,424.5 L485.3,424.4 L485.2,424.3 L485.0,424.2 L484.9,424.1 L484.8,424.0 L484.6,423.9 L484.5,423.8 L484.4,423.7 L484.3,423.6 L484.2,423.5 L484.1,423.4 L484.0,423.3 L481.4,423.8 L478.9,424.3 L476.4,424.9 L473.9,425.5 L471.5,426.2 L469.1,426.9 L466.8,427.7 L464.5,428.5 L462.3,429.3 L460.1,430.2 L458.0,431.1 L456.0,432.0 L454.0,433.0 L452.1,434.0 L450.3,435.1 L448.6,436.1 L446.9,437.2 L445.3,438.4 L443.8,439.5 L442.4,440.7 L441.0,441.9 L439.8,443.2 L438.6,444.4 L437.5,445.7 L436.5,447.0 L435.6,448.3 L434.8,449.6 L434.1,451.0 L433.5,452.3 L432.9,453.7 L432.5,455.1 L432.2,456.4 L431.9,457.8 L431.8,459.2 L431.7,460.6 L431.8,462.0 L431.9,463.4 L432.2,464.8 L432.5,466.1 L432.9,467.5 L433.5,468.9 L434.1,470.2 L434.8,471.6 L435.6,472.9 L436.5,474.2 L437.5,475.5 L438.6,476.8 L439.8,478.0 L441.0,479.3 L442.4,480.5 L443.8,481.7 L445.3,482.8 L446.9,484.0 L448.6,485.1 L450.3,486.1 L452.1,487.2 L454.0,488.2 L456.0,489.2 L458.0,490.1 L460.1,491.0 L462.3,491.9 L464.5,492.7 L466.8,493.5 L469.1,494.3 L471.5,495.0 L473.9,495.7 L476.4,496.3 L478.9,496.9 L481.4,497.4 L484.0,497.9 L484.1,497.8 L484.2,497.7 L484.3,497.6 L484.4,497.5 L484.5,497.4 L484.6,497.3 L484.8,497.2 L484.9,497.1 L485.0,497.0 L485.2,496.9 L485.3,496.8 L485.5,496.7 L485.7,496.6 L485.9,496.5 L486.0,496.4 L486.2,496.3 L486.4,496.2 L486.6,496.1 L486.8,496.0 L487.0,495.9 L487.2,495.8 L487.5,495.8 L487.7,495.7 L487.9,495.6 L488.2,495.5 L488.4,495.4 L488.7,495.3 L488.9,495.3 L489.2,495.2 L489.4,495.1 L489.7,495.0 L490.0,495.0 L490.3,494.9 L490.6,494.8 L490.8,494.7 L491.1,494.7 L491.4,494.6 L491.7,494.5 L492.0,494.5 L492.3,494.4 L492.7,494.3 L493.0,494.3 L493.3,494.2 L493.6,494.2 L494.0,494.1 L494.3,494.1 L494.6,494.0 L495.0,493.9 L495.3,493.9 L495.6,493.8 L496.0,493.8 L496.3,493.7 L496.7,493.7 L497.1,493.6 L497.4,493.6 L497.8,493.6 L498.1,493.5 L498.5,493.5 L498.9,493.4 L499.3,493.4 L499.6,493.4 L500.0,493.3 L500.4,493.3 L500.8,493.3 L501.2,493.2 L501.5,493.2 L501.9,493.2 L502.3,493.1 L502.7,493.1 L503.1,493.1 L503.5,493.1 L503.9,493.0 L504.3,493.0 L504.7,493.0 L505.1,493.0 L505.5,493.0 L505.9,492.9 L506.3,492.9 L506.7,492.9 L507.1,492.9 L507.5,492.9 L507.9,492.9 L508.3,492.9 L508.7,492.9 L509.2,492.9 L509.6,492.8 L510.0,492.8 L510.4,492.8 L510.8,492.8 L511.2,492.8 L511.6,492.8 L512.0,492.8 L512.4,492.8 L512.8,492.8 L513.2,492.9 L513.7,492.9 L514.1,492.9 L514.5,492.9 L514.9,492.9 L515.3,492.9 L515.7,492.9 L516.1,492.9 L516.5,492.9 L516.9,493.0 L517.3,493.0 L517.7,493.0 L518.1,493.0 L518.5,493.0 L518.9,493.1 L519.3,493.1 L519.7,493.1 L520.1,493.1 L520.5,493.2 L520.9,493.2 L521.2,493.2 L521.6,493.3 L522.0,493.3 L522.4,493.3 L522.8,493.4 L523.1,493.4 L523.5,493.4 L523.9,493.5 L524.3,493.5 L524.6,493.6 L525.0,493.6 L525.3,493.6 L525.7,493.7 L526.1,493.7 L526.4,493.8 L526.8,493.8 L527.1,493.9 L527.4,493.9 L527.8,494.0 L528.1,494.1 L528.4,494.1 L528.8,494.2 L529.1,494.2 L529.4,494.3 L529.7,494.3 L530.1,494.4 L530.4,494.5 L530.7,494.5 L531.0,494.6 L531.3,494.7 L531.6,494.7 L531.8,494.8 L532.1,494.9 L532.4,495.0 L532.7,495.0 L533.0,495.1 L533.2,495.2 L533.5,495.3 L533.7,495.3 L534.0,495.4 L534.2,495.5 L534.5,495.6 L534.7,495.7 L534.9,495.8 L535.2,495.8 L535.4,495.9 L535.6,496.0 L535.8,496.1 L536.0,496.2 L536.2,496.3 L536.4,496.4 L536.5,496.5 L536.7,496.6 L536.9,496.7 L537.1,496.8 L537.2,496.9 L537.4,497.0 L537.5,497.1 L537.6,497.2 L537.8,497.3 L537.9,497.4 L538.0,497.5 L538.1,497.6 L538.2,497.7 L538.3,497.8 L538.4,497.9Z" fill="none" stroke="#000" stroke-width="2.2"/>
<polygon points="505.4,483.0 506.2,485.3 508.6,485.4 506.7,486.9 507.4,489.2 505.4,487.9 503.4,489.2 504.0,486.9 502.1,485.4 504.5,485.3" fill="#1030ff"/>
</svg>
</body></html>
